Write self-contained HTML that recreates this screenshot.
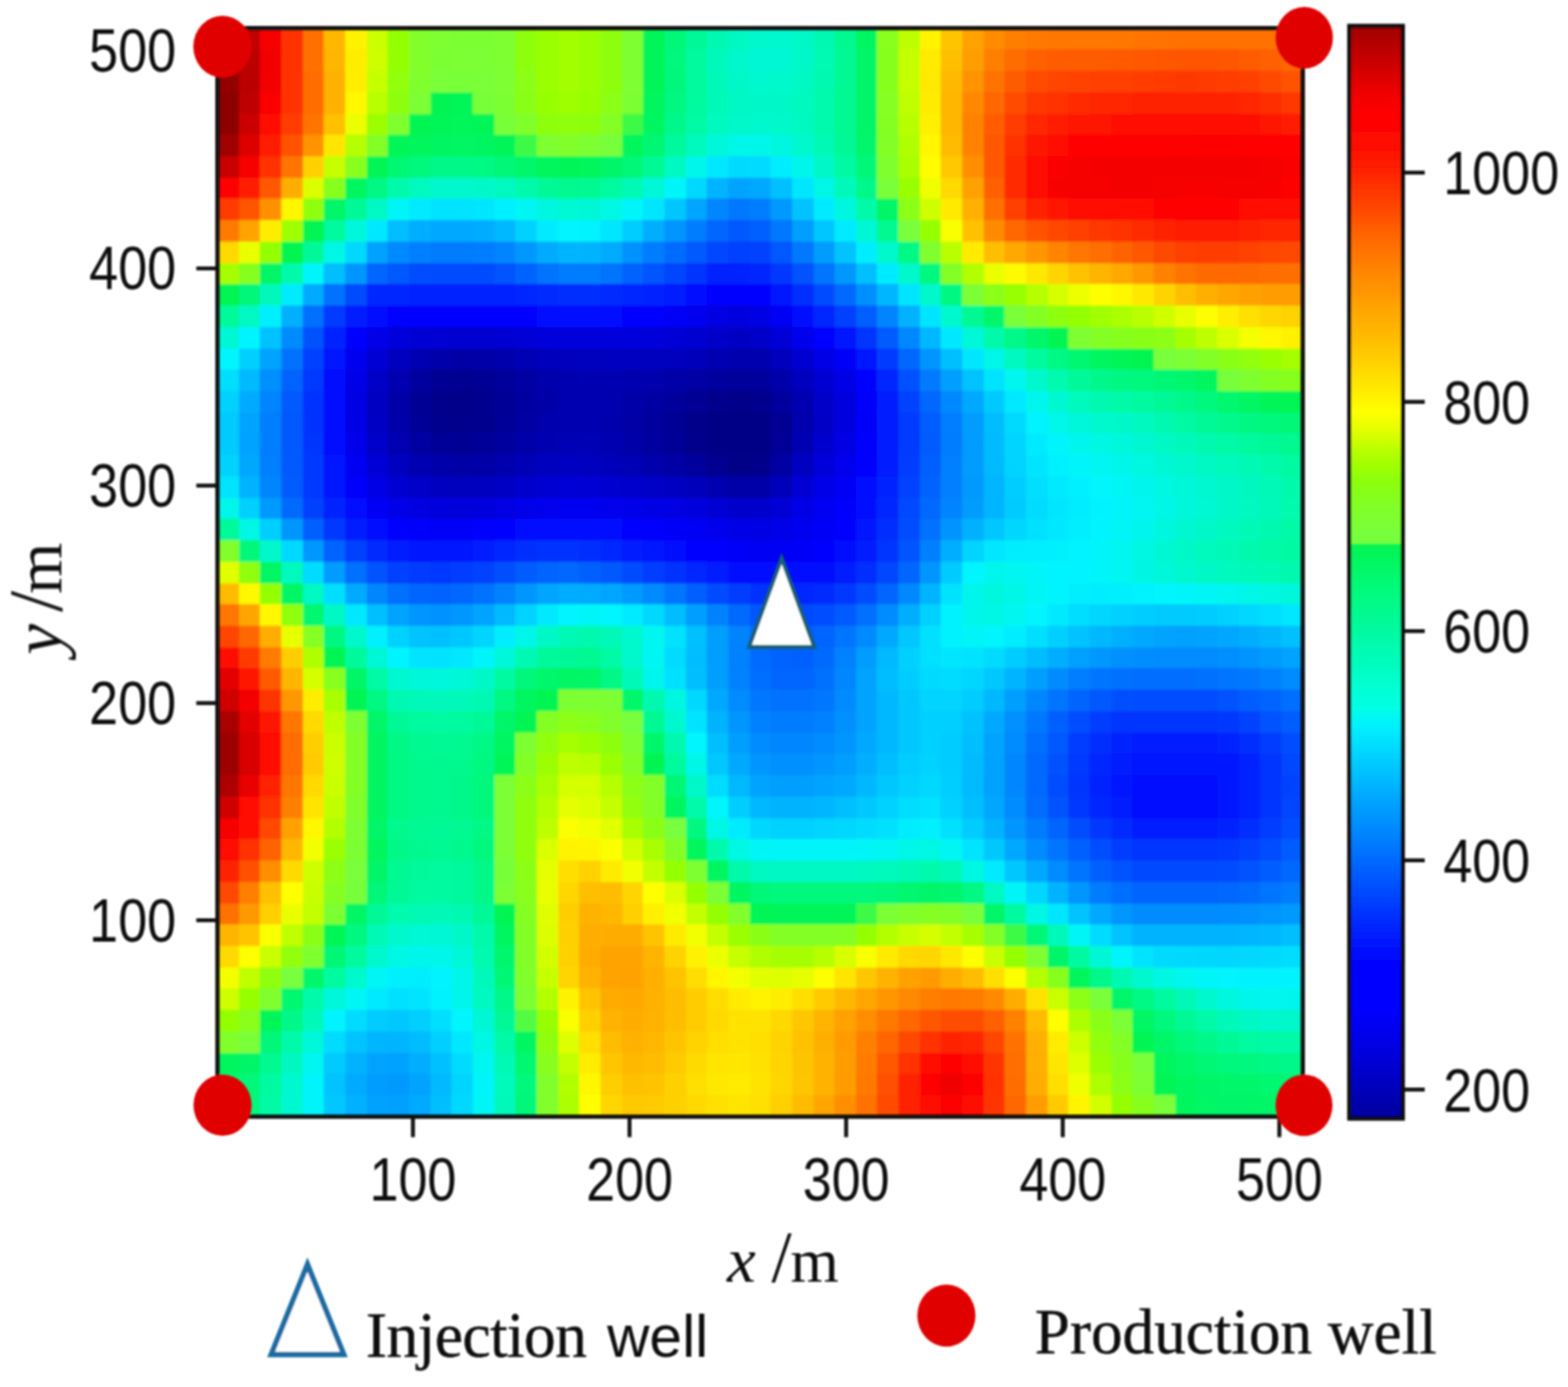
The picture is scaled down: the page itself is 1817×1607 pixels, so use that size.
<!DOCTYPE html>
<html lang="en"><head><meta charset="utf-8"><title>Heat map</title>
<style>html,body{margin:0;padding:0;background:#fff}body{width:1817px;height:1607px;overflow:hidden}svg{display:block}.t{font-family:"Liberation Sans",sans-serif;font-size:66px;fill:#111}.s{font-family:"Liberation Serif",serif;font-size:74px;fill:#111}</style></head><body>
<svg width="1817" height="1607" viewBox="0 0 1817 1607">
<defs><filter id="bl" x="-2%" y="-2%" width="104%" height="104%"><feGaussianBlur stdDeviation="1.6"/></filter><filter id="bl2" x="-2%" y="-2%" width="104%" height="104%"><feGaussianBlur stdDeviation="1"/></filter>
<linearGradient id="cb" x1="0" y1="0" x2="0" y2="1">
<stop offset="0.0000" stop-color="#a00000"/>
<stop offset="0.0355" stop-color="#cd0000"/>
<stop offset="0.0664" stop-color="#f50000"/>
<stop offset="0.0829" stop-color="#ff0000"/>
<stop offset="0.1082" stop-color="#ff0c00"/>
<stop offset="0.1335" stop-color="#ff2300"/>
<stop offset="0.1698" stop-color="#ff4b00"/>
<stop offset="0.1904" stop-color="#ff6400"/>
<stop offset="0.2314" stop-color="#ff8c00"/>
<stop offset="0.2630" stop-color="#ffa800"/>
<stop offset="0.2938" stop-color="#ffc300"/>
<stop offset="0.3207" stop-color="#ffde00"/>
<stop offset="0.3531" stop-color="#ffff00"/>
<stop offset="0.3712" stop-color="#e1ff00"/>
<stop offset="0.3934" stop-color="#afff00"/>
<stop offset="0.4155" stop-color="#8cff0a"/>
<stop offset="0.4400" stop-color="#82ff28"/>
<stop offset="0.4645" stop-color="#78ff3c"/>
<stop offset="0.4736" stop-color="#73ff3e"/>
<stop offset="0.4742" stop-color="#00f550"/>
<stop offset="0.5134" stop-color="#00fa78"/>
<stop offset="0.5624" stop-color="#00faaa"/>
<stop offset="0.6003" stop-color="#00ffcd"/>
<stop offset="0.6240" stop-color="#00ffe4"/>
<stop offset="0.6414" stop-color="#00f0ff"/>
<stop offset="0.6769" stop-color="#00c8ff"/>
<stop offset="0.7133" stop-color="#00a0ff"/>
<stop offset="0.7638" stop-color="#006aff"/>
<stop offset="0.7978" stop-color="#0044ff"/>
<stop offset="0.8294" stop-color="#0020ff"/>
<stop offset="0.8618" stop-color="#0000ff"/>
<stop offset="0.9005" stop-color="#0000ff"/>
<stop offset="0.9463" stop-color="#0000d7"/>
<stop offset="1.0000" stop-color="#00009e"/>
</linearGradient></defs>
<rect width="1817" height="1607" fill="#fff"/>
<g shape-rendering="crispEdges" filter="url(#bl)">
<rect x="252.0" y="32.6" width="1257.7" height="1261.2" fill="#08f"/>
<rect x="252.00" y="32.60" width="25.26" height="25.33" fill="#a50000"/>
<rect x="276.66" y="32.60" width="25.26" height="25.33" fill="#c20000"/>
<rect x="301.32" y="32.60" width="25.26" height="25.33" fill="#f60000"/>
<rect x="325.98" y="32.60" width="25.26" height="25.33" fill="#ff3200"/>
<rect x="350.64" y="32.60" width="25.26" height="25.33" fill="#ff6f00"/>
<rect x="375.30" y="32.60" width="25.26" height="25.33" fill="#ffb700"/>
<rect x="399.96" y="32.60" width="25.26" height="25.33" fill="#fff200"/>
<rect x="424.63" y="32.60" width="25.26" height="25.33" fill="#c9ff00"/>
<rect x="449.29" y="32.60" width="25.26" height="25.33" fill="#94ff05"/>
<rect x="473.95" y="32.60" width="25.26" height="25.33" fill="#81ff2b"/>
<rect x="498.61" y="32.60" width="25.26" height="25.33" fill="#7dff32"/>
<rect x="523.27" y="32.60" width="49.92" height="25.33" fill="#7cff33"/>
<rect x="572.59" y="32.60" width="25.26" height="25.33" fill="#7eff30"/>
<rect x="597.25" y="32.60" width="25.26" height="25.33" fill="#8dff11"/>
<rect x="621.91" y="32.60" width="25.26" height="25.33" fill="#9aff00"/>
<rect x="646.57" y="32.60" width="25.26" height="25.33" fill="#a1ff00"/>
<rect x="671.23" y="32.60" width="25.26" height="25.33" fill="#9aff00"/>
<rect x="695.89" y="32.60" width="25.26" height="25.33" fill="#8dff11"/>
<rect x="720.55" y="32.60" width="25.26" height="25.33" fill="#7dff32"/>
<rect x="745.22" y="32.60" width="25.26" height="25.33" fill="#00f558"/>
<rect x="769.88" y="32.60" width="25.26" height="25.33" fill="#00f778"/>
<rect x="794.54" y="32.60" width="25.26" height="25.33" fill="#00f998"/>
<rect x="819.20" y="32.60" width="25.26" height="25.33" fill="#00f9b1"/>
<rect x="843.86" y="32.60" width="25.26" height="25.33" fill="#00f8c2"/>
<rect x="868.52" y="32.60" width="25.26" height="25.33" fill="#00f8cc"/>
<rect x="893.18" y="32.60" width="25.26" height="25.33" fill="#00f8cf"/>
<rect x="917.84" y="32.60" width="25.26" height="25.33" fill="#00f8c7"/>
<rect x="942.50" y="32.60" width="25.26" height="25.33" fill="#00f9b2"/>
<rect x="967.16" y="32.60" width="25.26" height="25.33" fill="#00f98f"/>
<rect x="991.82" y="32.60" width="25.26" height="25.33" fill="#00f661"/>
<rect x="1016.48" y="32.60" width="25.26" height="25.33" fill="#88ff1d"/>
<rect x="1041.15" y="32.60" width="25.26" height="25.33" fill="#bdff00"/>
<rect x="1065.81" y="32.60" width="25.26" height="25.33" fill="#fff300"/>
<rect x="1090.47" y="32.60" width="25.26" height="25.33" fill="#ffc400"/>
<rect x="1115.13" y="32.60" width="25.26" height="25.33" fill="#ffa200"/>
<rect x="1139.79" y="32.60" width="25.26" height="25.33" fill="#ff8b00"/>
<rect x="1164.45" y="32.60" width="25.26" height="25.33" fill="#ff7e00"/>
<rect x="1189.11" y="32.60" width="25.26" height="25.33" fill="#ff7900"/>
<rect x="1213.77" y="32.60" width="25.26" height="25.33" fill="#ff7700"/>
<rect x="1238.43" y="32.60" width="49.92" height="25.33" fill="#ff7600"/>
<rect x="1287.75" y="32.60" width="25.26" height="25.33" fill="#ff7700"/>
<rect x="1312.41" y="32.60" width="25.26" height="25.33" fill="#ff7500"/>
<rect x="1337.07" y="32.60" width="25.26" height="25.33" fill="#ff7300"/>
<rect x="1361.74" y="32.60" width="74.58" height="25.33" fill="#ff7100"/>
<rect x="1435.72" y="32.60" width="49.92" height="25.33" fill="#ff7200"/>
<rect x="1485.04" y="32.60" width="25.26" height="25.33" fill="#ff7100"/>
<rect x="252.00" y="57.33" width="25.26" height="25.33" fill="#9f0000"/>
<rect x="276.66" y="57.33" width="25.26" height="25.33" fill="#bb0000"/>
<rect x="301.32" y="57.33" width="25.26" height="25.33" fill="#f20000"/>
<rect x="325.98" y="57.33" width="25.26" height="25.33" fill="#ff3000"/>
<rect x="350.64" y="57.33" width="25.26" height="25.33" fill="#ff6f00"/>
<rect x="375.30" y="57.33" width="25.26" height="25.33" fill="#ffb600"/>
<rect x="399.96" y="57.33" width="25.26" height="25.33" fill="#ffed00"/>
<rect x="424.63" y="57.33" width="25.26" height="25.33" fill="#cdff00"/>
<rect x="449.29" y="57.33" width="25.26" height="25.33" fill="#94ff05"/>
<rect x="473.95" y="57.33" width="25.26" height="25.33" fill="#81ff2b"/>
<rect x="498.61" y="57.33" width="25.26" height="25.33" fill="#7cff33"/>
<rect x="523.27" y="57.33" width="49.92" height="25.33" fill="#7bff35"/>
<rect x="572.59" y="57.33" width="25.26" height="25.33" fill="#7eff30"/>
<rect x="597.25" y="57.33" width="25.26" height="25.33" fill="#8dff11"/>
<rect x="621.91" y="57.33" width="25.26" height="25.33" fill="#9aff00"/>
<rect x="646.57" y="57.33" width="25.26" height="25.33" fill="#a1ff00"/>
<rect x="671.23" y="57.33" width="25.26" height="25.33" fill="#9aff00"/>
<rect x="695.89" y="57.33" width="25.26" height="25.33" fill="#8dff11"/>
<rect x="720.55" y="57.33" width="25.26" height="25.33" fill="#7dff32"/>
<rect x="745.22" y="57.33" width="25.26" height="25.33" fill="#00f558"/>
<rect x="769.88" y="57.33" width="25.26" height="25.33" fill="#00f87b"/>
<rect x="794.54" y="57.33" width="25.26" height="25.33" fill="#00fa9e"/>
<rect x="819.20" y="57.33" width="25.26" height="25.33" fill="#00f9bb"/>
<rect x="843.86" y="57.33" width="25.26" height="25.33" fill="#00f8cc"/>
<rect x="868.52" y="57.33" width="25.26" height="25.33" fill="#00f7d4"/>
<rect x="893.18" y="57.33" width="25.26" height="25.33" fill="#00f7d3"/>
<rect x="917.84" y="57.33" width="25.26" height="25.33" fill="#00f8c8"/>
<rect x="942.50" y="57.33" width="25.26" height="25.33" fill="#00f9b3"/>
<rect x="967.16" y="57.33" width="25.26" height="25.33" fill="#00f993"/>
<rect x="991.82" y="57.33" width="25.26" height="25.33" fill="#00f666"/>
<rect x="1016.48" y="57.33" width="25.26" height="25.33" fill="#87ff1d"/>
<rect x="1041.15" y="57.33" width="25.26" height="25.33" fill="#c5ff00"/>
<rect x="1065.81" y="57.33" width="25.26" height="25.33" fill="#ffeb00"/>
<rect x="1090.47" y="57.33" width="25.26" height="25.33" fill="#ffbf00"/>
<rect x="1115.13" y="57.33" width="25.26" height="25.33" fill="#ff9e00"/>
<rect x="1139.79" y="57.33" width="25.26" height="25.33" fill="#ff7f00"/>
<rect x="1164.45" y="57.33" width="25.26" height="25.33" fill="#ff6c00"/>
<rect x="1189.11" y="57.33" width="25.26" height="25.33" fill="#ff6100"/>
<rect x="1213.77" y="57.33" width="25.26" height="25.33" fill="#ff5c00"/>
<rect x="1238.43" y="57.33" width="49.92" height="25.33" fill="#ff5b00"/>
<rect x="1287.75" y="57.33" width="25.26" height="25.33" fill="#ff5a00"/>
<rect x="1312.41" y="57.33" width="25.26" height="25.33" fill="#ff5800"/>
<rect x="1337.07" y="57.33" width="25.26" height="25.33" fill="#ff5600"/>
<rect x="1361.74" y="57.33" width="49.92" height="25.33" fill="#ff5500"/>
<rect x="1411.06" y="57.33" width="25.26" height="25.33" fill="#ff5700"/>
<rect x="1435.72" y="57.33" width="25.26" height="25.33" fill="#ff5b00"/>
<rect x="1460.38" y="57.33" width="25.26" height="25.33" fill="#ff6100"/>
<rect x="1485.04" y="57.33" width="25.26" height="25.33" fill="#ff6800"/>
<rect x="252.00" y="82.06" width="25.26" height="25.33" fill="#940000"/>
<rect x="276.66" y="82.06" width="25.26" height="25.33" fill="#ba0000"/>
<rect x="301.32" y="82.06" width="25.26" height="25.33" fill="#f30000"/>
<rect x="325.98" y="82.06" width="25.26" height="25.33" fill="#ff3000"/>
<rect x="350.64" y="82.06" width="25.26" height="25.33" fill="#ff6c00"/>
<rect x="375.30" y="82.06" width="25.26" height="25.33" fill="#ffb100"/>
<rect x="399.96" y="82.06" width="25.26" height="25.33" fill="#ffee00"/>
<rect x="424.63" y="82.06" width="25.26" height="25.33" fill="#c6ff00"/>
<rect x="449.29" y="82.06" width="25.26" height="25.33" fill="#92ff08"/>
<rect x="473.95" y="82.06" width="25.26" height="25.33" fill="#7fff2e"/>
<rect x="498.61" y="82.06" width="25.26" height="25.33" fill="#7aff37"/>
<rect x="523.27" y="82.06" width="25.26" height="25.33" fill="#79ff39"/>
<rect x="547.93" y="82.06" width="25.26" height="25.33" fill="#7aff37"/>
<rect x="572.59" y="82.06" width="25.26" height="25.33" fill="#7dff32"/>
<rect x="597.25" y="82.06" width="25.26" height="25.33" fill="#8cff13"/>
<rect x="621.91" y="82.06" width="25.26" height="25.33" fill="#9aff00"/>
<rect x="646.57" y="82.06" width="25.26" height="25.33" fill="#a1ff00"/>
<rect x="671.23" y="82.06" width="25.26" height="25.33" fill="#9aff00"/>
<rect x="695.89" y="82.06" width="25.26" height="25.33" fill="#8dff11"/>
<rect x="720.55" y="82.06" width="25.26" height="25.33" fill="#7dff32"/>
<rect x="745.22" y="82.06" width="25.26" height="25.33" fill="#00f558"/>
<rect x="769.88" y="82.06" width="25.26" height="25.33" fill="#00f77a"/>
<rect x="794.54" y="82.06" width="25.26" height="25.33" fill="#00fa9d"/>
<rect x="819.20" y="82.06" width="25.26" height="25.33" fill="#00f9b9"/>
<rect x="843.86" y="82.06" width="25.26" height="25.33" fill="#00f8c9"/>
<rect x="868.52" y="82.06" width="25.26" height="25.33" fill="#00f8cf"/>
<rect x="893.18" y="82.06" width="25.26" height="25.33" fill="#00f8cd"/>
<rect x="917.84" y="82.06" width="25.26" height="25.33" fill="#00f8c3"/>
<rect x="942.50" y="82.06" width="25.26" height="25.33" fill="#00f9b0"/>
<rect x="967.16" y="82.06" width="25.26" height="25.33" fill="#00f992"/>
<rect x="991.82" y="82.06" width="25.26" height="25.33" fill="#00f667"/>
<rect x="1016.48" y="82.06" width="25.26" height="25.33" fill="#87ff1e"/>
<rect x="1041.15" y="82.06" width="25.26" height="25.33" fill="#c5ff00"/>
<rect x="1065.81" y="82.06" width="25.26" height="25.33" fill="#ffe900"/>
<rect x="1090.47" y="82.06" width="25.26" height="25.33" fill="#ffba00"/>
<rect x="1115.13" y="82.06" width="25.26" height="25.33" fill="#ff9300"/>
<rect x="1139.79" y="82.06" width="25.26" height="25.33" fill="#ff7300"/>
<rect x="1164.45" y="82.06" width="25.26" height="25.33" fill="#ff5c00"/>
<rect x="1189.11" y="82.06" width="25.26" height="25.33" fill="#ff4c00"/>
<rect x="1213.77" y="82.06" width="25.26" height="25.33" fill="#ff4500"/>
<rect x="1238.43" y="82.06" width="25.26" height="25.33" fill="#ff4200"/>
<rect x="1263.09" y="82.06" width="25.26" height="25.33" fill="#ff4000"/>
<rect x="1287.75" y="82.06" width="25.26" height="25.33" fill="#ff3f00"/>
<rect x="1312.41" y="82.06" width="25.26" height="25.33" fill="#ff3d00"/>
<rect x="1337.07" y="82.06" width="25.26" height="25.33" fill="#ff3b00"/>
<rect x="1361.74" y="82.06" width="25.26" height="25.33" fill="#ff3900"/>
<rect x="1386.40" y="82.06" width="25.26" height="25.33" fill="#ff3a00"/>
<rect x="1411.06" y="82.06" width="25.26" height="25.33" fill="#ff3c00"/>
<rect x="1435.72" y="82.06" width="25.26" height="25.33" fill="#ff4100"/>
<rect x="1460.38" y="82.06" width="25.26" height="25.33" fill="#ff4800"/>
<rect x="1485.04" y="82.06" width="25.26" height="25.33" fill="#ff5200"/>
<rect x="252.00" y="106.79" width="25.26" height="25.33" fill="#8c0000"/>
<rect x="276.66" y="106.79" width="25.26" height="25.33" fill="#bf0000"/>
<rect x="301.32" y="106.79" width="25.26" height="25.33" fill="#fa0000"/>
<rect x="325.98" y="106.79" width="25.26" height="25.33" fill="#ff3300"/>
<rect x="350.64" y="106.79" width="25.26" height="25.33" fill="#ff6c00"/>
<rect x="375.30" y="106.79" width="25.26" height="25.33" fill="#ffb100"/>
<rect x="399.96" y="106.79" width="25.26" height="25.33" fill="#fff800"/>
<rect x="424.63" y="106.79" width="25.26" height="25.33" fill="#b8ff00"/>
<rect x="449.29" y="106.79" width="25.26" height="25.33" fill="#8dff11"/>
<rect x="473.95" y="106.79" width="25.26" height="25.33" fill="#7cff34"/>
<rect x="498.61" y="106.79" width="25.26" height="25.33" fill="#00f553"/>
<rect x="523.27" y="106.79" width="25.26" height="25.33" fill="#00f556"/>
<rect x="547.93" y="106.79" width="25.26" height="25.33" fill="#79ff39"/>
<rect x="572.59" y="106.79" width="25.26" height="25.33" fill="#7cff33"/>
<rect x="597.25" y="106.79" width="25.26" height="25.33" fill="#8aff18"/>
<rect x="621.91" y="106.79" width="25.26" height="25.33" fill="#96ff00"/>
<rect x="646.57" y="106.79" width="25.26" height="25.33" fill="#9dff00"/>
<rect x="671.23" y="106.79" width="25.26" height="25.33" fill="#96ff00"/>
<rect x="695.89" y="106.79" width="25.26" height="25.33" fill="#8cff13"/>
<rect x="720.55" y="106.79" width="25.26" height="25.33" fill="#7cff33"/>
<rect x="745.22" y="106.79" width="25.26" height="25.33" fill="#00f65b"/>
<rect x="769.88" y="106.79" width="25.26" height="25.33" fill="#00f881"/>
<rect x="794.54" y="106.79" width="25.26" height="25.33" fill="#00fa9e"/>
<rect x="819.20" y="106.79" width="25.26" height="25.33" fill="#00f9b6"/>
<rect x="843.86" y="106.79" width="25.26" height="25.33" fill="#00f8c4"/>
<rect x="868.52" y="106.79" width="25.26" height="25.33" fill="#00f8c9"/>
<rect x="893.18" y="106.79" width="25.26" height="25.33" fill="#00f8c8"/>
<rect x="917.84" y="106.79" width="25.26" height="25.33" fill="#00f9be"/>
<rect x="942.50" y="106.79" width="25.26" height="25.33" fill="#00faac"/>
<rect x="967.16" y="106.79" width="25.26" height="25.33" fill="#00f990"/>
<rect x="991.82" y="106.79" width="25.26" height="25.33" fill="#00f667"/>
<rect x="1016.48" y="106.79" width="25.26" height="25.33" fill="#86ff20"/>
<rect x="1041.15" y="106.79" width="25.26" height="25.33" fill="#bfff00"/>
<rect x="1065.81" y="106.79" width="25.26" height="25.33" fill="#ffeb00"/>
<rect x="1090.47" y="106.79" width="25.26" height="25.33" fill="#ffb600"/>
<rect x="1115.13" y="106.79" width="25.26" height="25.33" fill="#ff8800"/>
<rect x="1139.79" y="106.79" width="25.26" height="25.33" fill="#ff6700"/>
<rect x="1164.45" y="106.79" width="25.26" height="25.33" fill="#ff4c00"/>
<rect x="1189.11" y="106.79" width="25.26" height="25.33" fill="#ff3900"/>
<rect x="1213.77" y="106.79" width="25.26" height="25.33" fill="#ff3000"/>
<rect x="1238.43" y="106.79" width="25.26" height="25.33" fill="#ff2b00"/>
<rect x="1263.09" y="106.79" width="25.26" height="25.33" fill="#ff2800"/>
<rect x="1287.75" y="106.79" width="25.26" height="25.33" fill="#ff2600"/>
<rect x="1312.41" y="106.79" width="25.26" height="25.33" fill="#ff2400"/>
<rect x="1337.07" y="106.79" width="25.26" height="25.33" fill="#ff2200"/>
<rect x="1361.74" y="106.79" width="25.26" height="25.33" fill="#ff2000"/>
<rect x="1386.40" y="106.79" width="25.26" height="25.33" fill="#ff2100"/>
<rect x="1411.06" y="106.79" width="25.26" height="25.33" fill="#ff2300"/>
<rect x="1435.72" y="106.79" width="25.26" height="25.33" fill="#ff2700"/>
<rect x="1460.38" y="106.79" width="25.26" height="25.33" fill="#ff2e00"/>
<rect x="1485.04" y="106.79" width="25.26" height="25.33" fill="#ff3700"/>
<rect x="252.00" y="131.52" width="25.26" height="25.33" fill="#8d0000"/>
<rect x="276.66" y="131.52" width="25.26" height="25.33" fill="#cb0000"/>
<rect x="301.32" y="131.52" width="25.26" height="25.33" fill="#ff0800"/>
<rect x="325.98" y="131.52" width="25.26" height="25.33" fill="#ff3e00"/>
<rect x="350.64" y="131.52" width="25.26" height="25.33" fill="#ff7500"/>
<rect x="375.30" y="131.52" width="25.26" height="25.33" fill="#ffc000"/>
<rect x="399.96" y="131.52" width="25.26" height="25.33" fill="#ebff00"/>
<rect x="424.63" y="131.52" width="25.26" height="25.33" fill="#9cff00"/>
<rect x="449.29" y="131.52" width="25.26" height="25.33" fill="#7fff2e"/>
<rect x="473.95" y="131.52" width="25.26" height="25.33" fill="#00f553"/>
<rect x="498.61" y="131.52" width="25.26" height="25.33" fill="#00f558"/>
<rect x="523.27" y="131.52" width="25.26" height="25.33" fill="#00f65a"/>
<rect x="547.93" y="131.52" width="25.26" height="25.33" fill="#00f556"/>
<rect x="572.59" y="131.52" width="25.26" height="25.33" fill="#79ff39"/>
<rect x="597.25" y="131.52" width="25.26" height="25.33" fill="#81ff2b"/>
<rect x="621.91" y="131.52" width="25.26" height="25.33" fill="#8dff11"/>
<rect x="646.57" y="131.52" width="25.26" height="25.33" fill="#90ff0b"/>
<rect x="671.23" y="131.52" width="25.26" height="25.33" fill="#8dff11"/>
<rect x="695.89" y="131.52" width="25.26" height="25.33" fill="#83ff26"/>
<rect x="720.55" y="131.52" width="25.26" height="25.33" fill="#3cfa46"/>
<rect x="745.22" y="131.52" width="25.26" height="25.33" fill="#00f661"/>
<rect x="769.88" y="131.52" width="25.26" height="25.33" fill="#00f88a"/>
<rect x="794.54" y="131.52" width="25.26" height="25.33" fill="#00faa5"/>
<rect x="819.20" y="131.52" width="25.26" height="25.33" fill="#00f9bd"/>
<rect x="843.86" y="131.52" width="25.26" height="25.33" fill="#00f8cb"/>
<rect x="868.52" y="131.52" width="25.26" height="25.33" fill="#00f8ce"/>
<rect x="893.18" y="131.52" width="25.26" height="25.33" fill="#00f8cb"/>
<rect x="917.84" y="131.52" width="25.26" height="25.33" fill="#00f9c0"/>
<rect x="942.50" y="131.52" width="25.26" height="25.33" fill="#00faac"/>
<rect x="967.16" y="131.52" width="25.26" height="25.33" fill="#00f990"/>
<rect x="991.82" y="131.52" width="25.26" height="25.33" fill="#00f668"/>
<rect x="1016.48" y="131.52" width="25.26" height="25.33" fill="#85ff23"/>
<rect x="1041.15" y="131.52" width="25.26" height="25.33" fill="#b7ff00"/>
<rect x="1065.81" y="131.52" width="25.26" height="25.33" fill="#fff000"/>
<rect x="1090.47" y="131.52" width="25.26" height="25.33" fill="#ffb600"/>
<rect x="1115.13" y="131.52" width="25.26" height="25.33" fill="#ff8100"/>
<rect x="1139.79" y="131.52" width="25.26" height="25.33" fill="#ff5d00"/>
<rect x="1164.45" y="131.52" width="25.26" height="25.33" fill="#ff3e00"/>
<rect x="1189.11" y="131.52" width="25.26" height="25.33" fill="#ff2800"/>
<rect x="1213.77" y="131.52" width="25.26" height="25.33" fill="#ff1c00"/>
<rect x="1238.43" y="131.52" width="25.26" height="25.33" fill="#ff1600"/>
<rect x="1263.09" y="131.52" width="25.26" height="25.33" fill="#ff1300"/>
<rect x="1287.75" y="131.52" width="25.26" height="25.33" fill="#ff1100"/>
<rect x="1312.41" y="131.52" width="25.26" height="25.33" fill="#ff0f00"/>
<rect x="1337.07" y="131.52" width="25.26" height="25.33" fill="#ff0e00"/>
<rect x="1361.74" y="131.52" width="49.92" height="25.33" fill="#ff0c00"/>
<rect x="1411.06" y="131.52" width="25.26" height="25.33" fill="#ff0d00"/>
<rect x="1435.72" y="131.52" width="25.26" height="25.33" fill="#ff1000"/>
<rect x="1460.38" y="131.52" width="25.26" height="25.33" fill="#ff1500"/>
<rect x="1485.04" y="131.52" width="25.26" height="25.33" fill="#ff1b00"/>
<rect x="252.00" y="156.25" width="25.26" height="25.33" fill="#a00000"/>
<rect x="276.66" y="156.25" width="25.26" height="25.33" fill="#dd0000"/>
<rect x="301.32" y="156.25" width="25.26" height="25.33" fill="#ff1a00"/>
<rect x="325.98" y="156.25" width="25.26" height="25.33" fill="#ff5300"/>
<rect x="350.64" y="156.25" width="25.26" height="25.33" fill="#ff9300"/>
<rect x="375.30" y="156.25" width="25.26" height="25.33" fill="#ffe600"/>
<rect x="399.96" y="156.25" width="25.26" height="25.33" fill="#b4ff00"/>
<rect x="424.63" y="156.25" width="25.26" height="25.33" fill="#84ff25"/>
<rect x="449.29" y="156.25" width="25.26" height="25.33" fill="#00f556"/>
<rect x="473.95" y="156.25" width="25.26" height="25.33" fill="#00f65b"/>
<rect x="498.61" y="156.25" width="25.26" height="25.33" fill="#00f661"/>
<rect x="523.27" y="156.25" width="25.26" height="25.33" fill="#00f663"/>
<rect x="547.93" y="156.25" width="25.26" height="25.33" fill="#00f661"/>
<rect x="572.59" y="156.25" width="25.26" height="25.33" fill="#00f558"/>
<rect x="597.25" y="156.25" width="25.26" height="25.33" fill="#3cfa46"/>
<rect x="621.91" y="156.25" width="25.26" height="25.33" fill="#7eff30"/>
<rect x="646.57" y="156.25" width="25.26" height="25.33" fill="#81ff2b"/>
<rect x="671.23" y="156.25" width="25.26" height="25.33" fill="#7eff30"/>
<rect x="695.89" y="156.25" width="25.26" height="25.33" fill="#78ff3b"/>
<rect x="720.55" y="156.25" width="25.26" height="25.33" fill="#00f65b"/>
<rect x="745.22" y="156.25" width="25.26" height="25.33" fill="#00f772"/>
<rect x="769.88" y="156.25" width="25.26" height="25.33" fill="#00f99c"/>
<rect x="794.54" y="156.25" width="25.26" height="25.33" fill="#00f9bd"/>
<rect x="819.20" y="156.25" width="25.26" height="25.33" fill="#00f7d9"/>
<rect x="843.86" y="156.25" width="25.26" height="25.33" fill="#00f6e8"/>
<rect x="868.52" y="156.25" width="25.26" height="25.33" fill="#00f6e9"/>
<rect x="893.18" y="156.25" width="25.26" height="25.33" fill="#00f7df"/>
<rect x="917.84" y="156.25" width="25.26" height="25.33" fill="#00f8cd"/>
<rect x="942.50" y="156.25" width="25.26" height="25.33" fill="#00f9b4"/>
<rect x="967.16" y="156.25" width="25.26" height="25.33" fill="#00f996"/>
<rect x="991.82" y="156.25" width="25.26" height="25.33" fill="#00f76c"/>
<rect x="1016.48" y="156.25" width="25.26" height="25.33" fill="#83ff27"/>
<rect x="1041.15" y="156.25" width="25.26" height="25.33" fill="#b0ff00"/>
<rect x="1065.81" y="156.25" width="25.26" height="25.33" fill="#fff600"/>
<rect x="1090.47" y="156.25" width="25.26" height="25.33" fill="#ffbb00"/>
<rect x="1115.13" y="156.25" width="25.26" height="25.33" fill="#ff8300"/>
<rect x="1139.79" y="156.25" width="25.26" height="25.33" fill="#ff5800"/>
<rect x="1164.45" y="156.25" width="25.26" height="25.33" fill="#ff3100"/>
<rect x="1189.11" y="156.25" width="25.26" height="25.33" fill="#ff1700"/>
<rect x="1213.77" y="156.25" width="25.26" height="25.33" fill="#ff0a00"/>
<rect x="1238.43" y="156.25" width="25.26" height="25.33" fill="#ff0500"/>
<rect x="1263.09" y="156.25" width="25.26" height="25.33" fill="#ff0200"/>
<rect x="1287.75" y="156.25" width="25.26" height="25.33" fill="#ff0100"/>
<rect x="1312.41" y="156.25" width="49.92" height="25.33" fill="#fe0000"/>
<rect x="1361.74" y="156.25" width="25.26" height="25.33" fill="#fd0000"/>
<rect x="1386.40" y="156.25" width="49.92" height="25.33" fill="#fc0000"/>
<rect x="1435.72" y="156.25" width="25.26" height="25.33" fill="#fe0000"/>
<rect x="1460.38" y="156.25" width="25.26" height="25.33" fill="#ff0100"/>
<rect x="1485.04" y="156.25" width="25.26" height="25.33" fill="#ff0600"/>
<rect x="252.00" y="180.98" width="25.26" height="25.33" fill="#c80000"/>
<rect x="276.66" y="180.98" width="25.26" height="25.33" fill="#f80000"/>
<rect x="301.32" y="180.98" width="25.26" height="25.33" fill="#ff3300"/>
<rect x="325.98" y="180.98" width="25.26" height="25.33" fill="#ff7500"/>
<rect x="350.64" y="180.98" width="25.26" height="25.33" fill="#ffd000"/>
<rect x="375.30" y="180.98" width="25.26" height="25.33" fill="#c6ff00"/>
<rect x="399.96" y="180.98" width="25.26" height="25.33" fill="#88ff1d"/>
<rect x="424.63" y="180.98" width="25.26" height="25.33" fill="#00f555"/>
<rect x="449.29" y="180.98" width="25.26" height="25.33" fill="#00f772"/>
<rect x="473.95" y="180.98" width="25.26" height="25.33" fill="#00f87d"/>
<rect x="498.61" y="180.98" width="49.92" height="25.33" fill="#00f889"/>
<rect x="547.93" y="180.98" width="25.26" height="25.33" fill="#00f885"/>
<rect x="572.59" y="180.98" width="25.26" height="25.33" fill="#00f778"/>
<rect x="597.25" y="180.98" width="25.26" height="25.33" fill="#00f76a"/>
<rect x="621.91" y="180.98" width="25.26" height="25.33" fill="#00f65b"/>
<rect x="646.57" y="180.98" width="25.26" height="25.33" fill="#00f558"/>
<rect x="671.23" y="180.98" width="25.26" height="25.33" fill="#00f65b"/>
<rect x="695.89" y="180.98" width="25.26" height="25.33" fill="#00f667"/>
<rect x="720.55" y="180.98" width="25.26" height="25.33" fill="#00f778"/>
<rect x="745.22" y="180.98" width="25.26" height="25.33" fill="#00f994"/>
<rect x="769.88" y="180.98" width="25.26" height="25.33" fill="#00f8c1"/>
<rect x="794.54" y="180.98" width="25.26" height="25.33" fill="#00f6ea"/>
<rect x="819.20" y="180.98" width="25.26" height="25.33" fill="#00e8ff"/>
<rect x="843.86" y="180.98" width="25.26" height="25.33" fill="#00daff"/>
<rect x="868.52" y="180.98" width="25.26" height="25.33" fill="#00dbff"/>
<rect x="893.18" y="180.98" width="25.26" height="25.33" fill="#00ecff"/>
<rect x="917.84" y="180.98" width="25.26" height="25.33" fill="#00f6ea"/>
<rect x="942.50" y="180.98" width="25.26" height="25.33" fill="#00f8c7"/>
<rect x="967.16" y="180.98" width="25.26" height="25.33" fill="#00faa3"/>
<rect x="991.82" y="180.98" width="25.26" height="25.33" fill="#00f777"/>
<rect x="1016.48" y="180.98" width="25.26" height="25.33" fill="#80ff2d"/>
<rect x="1041.15" y="180.98" width="25.26" height="25.33" fill="#a9ff00"/>
<rect x="1065.81" y="180.98" width="25.26" height="25.33" fill="#fffd00"/>
<rect x="1090.47" y="180.98" width="25.26" height="25.33" fill="#ffc800"/>
<rect x="1115.13" y="180.98" width="25.26" height="25.33" fill="#ff8f00"/>
<rect x="1139.79" y="180.98" width="25.26" height="25.33" fill="#ff5900"/>
<rect x="1164.45" y="180.98" width="25.26" height="25.33" fill="#ff2900"/>
<rect x="1189.11" y="180.98" width="25.26" height="25.33" fill="#ff0800"/>
<rect x="1213.77" y="180.98" width="25.26" height="25.33" fill="#fa0000"/>
<rect x="1238.43" y="180.98" width="25.26" height="25.33" fill="#f60000"/>
<rect x="1263.09" y="180.98" width="25.26" height="25.33" fill="#f50000"/>
<rect x="1287.75" y="180.98" width="49.92" height="25.33" fill="#f40000"/>
<rect x="1337.07" y="180.98" width="74.58" height="25.33" fill="#f50000"/>
<rect x="1411.06" y="180.98" width="49.92" height="25.33" fill="#f40000"/>
<rect x="1460.38" y="180.98" width="25.26" height="25.33" fill="#f60000"/>
<rect x="1485.04" y="180.98" width="25.26" height="25.33" fill="#fa0000"/>
<rect x="252.00" y="205.71" width="25.26" height="25.33" fill="#ff0100"/>
<rect x="276.66" y="205.71" width="25.26" height="25.33" fill="#ff1e00"/>
<rect x="301.32" y="205.71" width="25.26" height="25.33" fill="#ff5800"/>
<rect x="325.98" y="205.71" width="25.26" height="25.33" fill="#ffae00"/>
<rect x="350.64" y="205.71" width="25.26" height="25.33" fill="#dbff00"/>
<rect x="375.30" y="205.71" width="25.26" height="25.33" fill="#87ff1f"/>
<rect x="399.96" y="205.71" width="25.26" height="25.33" fill="#00f65e"/>
<rect x="424.63" y="205.71" width="25.26" height="25.33" fill="#00f884"/>
<rect x="449.29" y="205.71" width="25.26" height="25.33" fill="#00faab"/>
<rect x="473.95" y="205.71" width="25.26" height="25.33" fill="#00f9bf"/>
<rect x="498.61" y="205.71" width="49.92" height="25.33" fill="#00f8cc"/>
<rect x="547.93" y="205.71" width="25.26" height="25.33" fill="#00f8c9"/>
<rect x="572.59" y="205.71" width="25.26" height="25.33" fill="#00f9bf"/>
<rect x="597.25" y="205.71" width="25.26" height="25.33" fill="#00faab"/>
<rect x="621.91" y="205.71" width="25.26" height="25.33" fill="#00f997"/>
<rect x="646.57" y="205.71" width="25.26" height="25.33" fill="#00f98e"/>
<rect x="671.23" y="205.71" width="25.26" height="25.33" fill="#00f991"/>
<rect x="695.89" y="205.71" width="25.26" height="25.33" fill="#00fa9f"/>
<rect x="720.55" y="205.71" width="25.26" height="25.33" fill="#00f9b4"/>
<rect x="745.22" y="205.71" width="25.26" height="25.33" fill="#00f7d8"/>
<rect x="769.88" y="205.71" width="25.26" height="25.33" fill="#00f5f9"/>
<rect x="794.54" y="205.71" width="25.26" height="25.33" fill="#00d8ff"/>
<rect x="819.20" y="205.71" width="25.26" height="25.33" fill="#00b4ff"/>
<rect x="843.86" y="205.71" width="25.26" height="25.33" fill="#00a4ff"/>
<rect x="868.52" y="205.71" width="25.26" height="25.33" fill="#00a8ff"/>
<rect x="893.18" y="205.71" width="25.26" height="25.33" fill="#00c1ff"/>
<rect x="917.84" y="205.71" width="25.26" height="25.33" fill="#00e6ff"/>
<rect x="942.50" y="205.71" width="25.26" height="25.33" fill="#00f6e5"/>
<rect x="967.16" y="205.71" width="25.26" height="25.33" fill="#00f9bb"/>
<rect x="991.82" y="205.71" width="25.26" height="25.33" fill="#00f88a"/>
<rect x="1016.48" y="205.71" width="25.26" height="25.33" fill="#7aff39"/>
<rect x="1041.15" y="205.71" width="25.26" height="25.33" fill="#97ff00"/>
<rect x="1065.81" y="205.71" width="25.26" height="25.33" fill="#f0ff00"/>
<rect x="1090.47" y="205.71" width="25.26" height="25.33" fill="#ffd900"/>
<rect x="1115.13" y="205.71" width="25.26" height="25.33" fill="#ffa100"/>
<rect x="1139.79" y="205.71" width="25.26" height="25.33" fill="#ff6100"/>
<rect x="1164.45" y="205.71" width="25.26" height="25.33" fill="#ff2a00"/>
<rect x="1189.11" y="205.71" width="25.26" height="25.33" fill="#ff0700"/>
<rect x="1213.77" y="205.71" width="25.26" height="25.33" fill="#f90000"/>
<rect x="1238.43" y="205.71" width="49.92" height="25.33" fill="#f70000"/>
<rect x="1287.75" y="205.71" width="49.92" height="25.33" fill="#f50000"/>
<rect x="1337.07" y="205.71" width="25.26" height="25.33" fill="#f70000"/>
<rect x="1361.74" y="205.71" width="49.92" height="25.33" fill="#f80000"/>
<rect x="1411.06" y="205.71" width="49.92" height="25.33" fill="#f70000"/>
<rect x="1460.38" y="205.71" width="25.26" height="25.33" fill="#f80000"/>
<rect x="1485.04" y="205.71" width="25.26" height="25.33" fill="#fd0000"/>
<rect x="252.00" y="230.44" width="25.26" height="25.33" fill="#ff3b00"/>
<rect x="276.66" y="230.44" width="25.26" height="25.33" fill="#ff5400"/>
<rect x="301.32" y="230.44" width="25.26" height="25.33" fill="#ff9000"/>
<rect x="325.98" y="230.44" width="25.26" height="25.33" fill="#fff600"/>
<rect x="350.64" y="230.44" width="25.26" height="25.33" fill="#8fff0f"/>
<rect x="375.30" y="230.44" width="25.26" height="25.33" fill="#00f667"/>
<rect x="399.96" y="230.44" width="25.26" height="25.33" fill="#00f996"/>
<rect x="424.63" y="230.44" width="25.26" height="25.33" fill="#00f8c4"/>
<rect x="449.29" y="230.44" width="25.26" height="25.33" fill="#00f6f6"/>
<rect x="473.95" y="230.44" width="25.26" height="25.33" fill="#00ebff"/>
<rect x="498.61" y="230.44" width="49.92" height="25.33" fill="#00e3ff"/>
<rect x="547.93" y="230.44" width="25.26" height="25.33" fill="#00e6ff"/>
<rect x="572.59" y="230.44" width="25.26" height="25.33" fill="#00f0ff"/>
<rect x="597.25" y="230.44" width="25.26" height="25.33" fill="#00f6f2"/>
<rect x="621.91" y="230.44" width="25.26" height="25.33" fill="#00f7df"/>
<rect x="646.57" y="230.44" width="25.26" height="25.33" fill="#00f8d2"/>
<rect x="671.23" y="230.44" width="25.26" height="25.33" fill="#00f7d6"/>
<rect x="695.89" y="230.44" width="25.26" height="25.33" fill="#00f7e3"/>
<rect x="720.55" y="230.44" width="25.26" height="25.33" fill="#00f5f9"/>
<rect x="745.22" y="230.44" width="25.26" height="25.33" fill="#00e6ff"/>
<rect x="769.88" y="230.44" width="25.26" height="25.33" fill="#00c6ff"/>
<rect x="794.54" y="230.44" width="25.26" height="25.33" fill="#00a5ff"/>
<rect x="819.20" y="230.44" width="25.26" height="25.33" fill="#0087ff"/>
<rect x="843.86" y="230.44" width="25.26" height="25.33" fill="#0078ff"/>
<rect x="868.52" y="230.44" width="25.26" height="25.33" fill="#007dff"/>
<rect x="893.18" y="230.44" width="25.26" height="25.33" fill="#0099ff"/>
<rect x="917.84" y="230.44" width="25.26" height="25.33" fill="#00c3ff"/>
<rect x="942.50" y="230.44" width="25.26" height="25.33" fill="#00ebff"/>
<rect x="967.16" y="230.44" width="25.26" height="25.33" fill="#00f7df"/>
<rect x="991.82" y="230.44" width="25.26" height="25.33" fill="#00faa8"/>
<rect x="1016.48" y="230.44" width="25.26" height="25.33" fill="#00f666"/>
<rect x="1041.15" y="230.44" width="25.26" height="25.33" fill="#8bff16"/>
<rect x="1065.81" y="230.44" width="25.26" height="25.33" fill="#cdff00"/>
<rect x="1090.47" y="230.44" width="25.26" height="25.33" fill="#ffea00"/>
<rect x="1115.13" y="230.44" width="25.26" height="25.33" fill="#ffb000"/>
<rect x="1139.79" y="230.44" width="25.26" height="25.33" fill="#ff7000"/>
<rect x="1164.45" y="230.44" width="25.26" height="25.33" fill="#ff3f00"/>
<rect x="1189.11" y="230.44" width="25.26" height="25.33" fill="#ff2000"/>
<rect x="1213.77" y="230.44" width="25.26" height="25.33" fill="#ff1400"/>
<rect x="1238.43" y="230.44" width="25.26" height="25.33" fill="#ff1100"/>
<rect x="1263.09" y="230.44" width="25.26" height="25.33" fill="#ff0f00"/>
<rect x="1287.75" y="230.44" width="25.26" height="25.33" fill="#ff0b00"/>
<rect x="1312.41" y="230.44" width="25.26" height="25.33" fill="#ff0800"/>
<rect x="1337.07" y="230.44" width="25.26" height="25.33" fill="#ff0600"/>
<rect x="1361.74" y="230.44" width="74.58" height="25.33" fill="#ff0500"/>
<rect x="1435.72" y="230.44" width="25.26" height="25.33" fill="#ff0700"/>
<rect x="1460.38" y="230.44" width="25.26" height="25.33" fill="#ff0a00"/>
<rect x="1485.04" y="230.44" width="25.26" height="25.33" fill="#ff0d00"/>
<rect x="252.00" y="255.16" width="25.26" height="25.33" fill="#ff7a00"/>
<rect x="276.66" y="255.16" width="25.26" height="25.33" fill="#ffa300"/>
<rect x="301.32" y="255.16" width="25.26" height="25.33" fill="#ffed00"/>
<rect x="325.98" y="255.16" width="25.26" height="25.33" fill="#9dff00"/>
<rect x="350.64" y="255.16" width="25.26" height="25.33" fill="#00f552"/>
<rect x="375.30" y="255.16" width="25.26" height="25.33" fill="#00fa9d"/>
<rect x="399.96" y="255.16" width="25.26" height="25.33" fill="#00f7dc"/>
<rect x="424.63" y="255.16" width="25.26" height="25.33" fill="#00e8ff"/>
<rect x="449.29" y="255.16" width="25.26" height="25.33" fill="#00beff"/>
<rect x="473.95" y="255.16" width="25.26" height="25.33" fill="#00aeff"/>
<rect x="498.61" y="255.16" width="49.92" height="25.33" fill="#00a9ff"/>
<rect x="547.93" y="255.16" width="25.26" height="25.33" fill="#00acff"/>
<rect x="572.59" y="255.16" width="25.26" height="25.33" fill="#00b8ff"/>
<rect x="597.25" y="255.16" width="25.26" height="25.33" fill="#00d2ff"/>
<rect x="621.91" y="255.16" width="25.26" height="25.33" fill="#00ebff"/>
<rect x="646.57" y="255.16" width="25.26" height="25.33" fill="#00f5ff"/>
<rect x="671.23" y="255.16" width="25.26" height="25.33" fill="#00f3ff"/>
<rect x="695.89" y="255.16" width="25.26" height="25.33" fill="#00e6ff"/>
<rect x="720.55" y="255.16" width="25.26" height="25.33" fill="#00cdff"/>
<rect x="745.22" y="255.16" width="25.26" height="25.33" fill="#00aeff"/>
<rect x="769.88" y="255.16" width="25.26" height="25.33" fill="#0095ff"/>
<rect x="794.54" y="255.16" width="25.26" height="25.33" fill="#007dff"/>
<rect x="819.20" y="255.16" width="25.26" height="25.33" fill="#0066ff"/>
<rect x="843.86" y="255.16" width="25.26" height="25.33" fill="#0059ff"/>
<rect x="868.52" y="255.16" width="25.26" height="25.33" fill="#005eff"/>
<rect x="893.18" y="255.16" width="25.26" height="25.33" fill="#0078ff"/>
<rect x="917.84" y="255.16" width="25.26" height="25.33" fill="#009fff"/>
<rect x="942.50" y="255.16" width="25.26" height="25.33" fill="#00c6ff"/>
<rect x="967.16" y="255.16" width="25.26" height="25.33" fill="#00ebff"/>
<rect x="991.82" y="255.16" width="25.26" height="25.33" fill="#00f7d4"/>
<rect x="1016.48" y="255.16" width="25.26" height="25.33" fill="#00f991"/>
<rect x="1041.15" y="255.16" width="25.26" height="25.33" fill="#79ff3b"/>
<rect x="1065.81" y="255.16" width="25.26" height="25.33" fill="#95ff01"/>
<rect x="1090.47" y="255.16" width="25.26" height="25.33" fill="#f9ff00"/>
<rect x="1115.13" y="255.16" width="25.26" height="25.33" fill="#ffc100"/>
<rect x="1139.79" y="255.16" width="25.26" height="25.33" fill="#ff8a00"/>
<rect x="1164.45" y="255.16" width="25.26" height="25.33" fill="#ff6800"/>
<rect x="1189.11" y="255.16" width="25.26" height="25.33" fill="#ff5300"/>
<rect x="1213.77" y="255.16" width="25.26" height="25.33" fill="#ff4700"/>
<rect x="1238.43" y="255.16" width="25.26" height="25.33" fill="#ff3f00"/>
<rect x="1263.09" y="255.16" width="25.26" height="25.33" fill="#ff3800"/>
<rect x="1287.75" y="255.16" width="25.26" height="25.33" fill="#ff3100"/>
<rect x="1312.41" y="255.16" width="25.26" height="25.33" fill="#ff2900"/>
<rect x="1337.07" y="255.16" width="25.26" height="25.33" fill="#ff2100"/>
<rect x="1361.74" y="255.16" width="25.26" height="25.33" fill="#ff1c00"/>
<rect x="1386.40" y="255.16" width="25.26" height="25.33" fill="#ff1a00"/>
<rect x="1411.06" y="255.16" width="25.26" height="25.33" fill="#ff1c00"/>
<rect x="1435.72" y="255.16" width="25.26" height="25.33" fill="#ff2000"/>
<rect x="1460.38" y="255.16" width="25.26" height="25.33" fill="#ff2500"/>
<rect x="1485.04" y="255.16" width="25.26" height="25.33" fill="#ff2800"/>
<rect x="252.00" y="279.89" width="25.26" height="25.33" fill="#ffd900"/>
<rect x="276.66" y="279.89" width="25.26" height="25.33" fill="#eaff00"/>
<rect x="301.32" y="279.89" width="25.26" height="25.33" fill="#93ff06"/>
<rect x="325.98" y="279.89" width="25.26" height="25.33" fill="#00f551"/>
<rect x="350.64" y="279.89" width="25.26" height="25.33" fill="#00f998"/>
<rect x="375.30" y="279.89" width="25.26" height="25.33" fill="#00f6e5"/>
<rect x="399.96" y="279.89" width="25.26" height="25.33" fill="#00d8ff"/>
<rect x="424.63" y="279.89" width="25.26" height="25.33" fill="#00a2ff"/>
<rect x="449.29" y="279.89" width="25.26" height="25.33" fill="#008aff"/>
<rect x="473.95" y="279.89" width="25.26" height="25.33" fill="#0080ff"/>
<rect x="498.61" y="279.89" width="49.92" height="25.33" fill="#007cff"/>
<rect x="547.93" y="279.89" width="25.26" height="25.33" fill="#007eff"/>
<rect x="572.59" y="279.89" width="25.26" height="25.33" fill="#0085ff"/>
<rect x="597.25" y="279.89" width="25.26" height="25.33" fill="#0097ff"/>
<rect x="621.91" y="279.89" width="25.26" height="25.33" fill="#00abff"/>
<rect x="646.57" y="279.89" width="25.26" height="25.33" fill="#00b5ff"/>
<rect x="671.23" y="279.89" width="25.26" height="25.33" fill="#00b3ff"/>
<rect x="695.89" y="279.89" width="25.26" height="25.33" fill="#00abff"/>
<rect x="720.55" y="279.89" width="25.26" height="25.33" fill="#0092ff"/>
<rect x="745.22" y="279.89" width="25.26" height="25.33" fill="#007cff"/>
<rect x="769.88" y="279.89" width="25.26" height="25.33" fill="#006cff"/>
<rect x="794.54" y="279.89" width="25.26" height="25.33" fill="#005aff"/>
<rect x="819.20" y="279.89" width="25.26" height="25.33" fill="#0047ff"/>
<rect x="843.86" y="279.89" width="25.26" height="25.33" fill="#003fff"/>
<rect x="868.52" y="279.89" width="25.26" height="25.33" fill="#0043ff"/>
<rect x="893.18" y="279.89" width="25.26" height="25.33" fill="#0058ff"/>
<rect x="917.84" y="279.89" width="25.26" height="25.33" fill="#0079ff"/>
<rect x="942.50" y="279.89" width="25.26" height="25.33" fill="#009dff"/>
<rect x="967.16" y="279.89" width="25.26" height="25.33" fill="#00c3ff"/>
<rect x="991.82" y="279.89" width="25.26" height="25.33" fill="#00edff"/>
<rect x="1016.48" y="279.89" width="25.26" height="25.33" fill="#00f8ca"/>
<rect x="1041.15" y="279.89" width="25.26" height="25.33" fill="#00f885"/>
<rect x="1065.81" y="279.89" width="25.26" height="25.33" fill="#80ff2d"/>
<rect x="1090.47" y="279.89" width="25.26" height="25.33" fill="#b9ff00"/>
<rect x="1115.13" y="279.89" width="25.26" height="25.33" fill="#ffeb00"/>
<rect x="1139.79" y="279.89" width="25.26" height="25.33" fill="#ffbf00"/>
<rect x="1164.45" y="279.89" width="25.26" height="25.33" fill="#ffa800"/>
<rect x="1189.11" y="279.89" width="25.26" height="25.33" fill="#ff9600"/>
<rect x="1213.77" y="279.89" width="25.26" height="25.33" fill="#ff8400"/>
<rect x="1238.43" y="279.89" width="25.26" height="25.33" fill="#ff7700"/>
<rect x="1263.09" y="279.89" width="25.26" height="25.33" fill="#ff6e00"/>
<rect x="1287.75" y="279.89" width="25.26" height="25.33" fill="#ff6400"/>
<rect x="1312.41" y="279.89" width="25.26" height="25.33" fill="#ff5800"/>
<rect x="1337.07" y="279.89" width="25.26" height="25.33" fill="#ff4a00"/>
<rect x="1361.74" y="279.89" width="25.26" height="25.33" fill="#ff4000"/>
<rect x="1386.40" y="279.89" width="25.26" height="25.33" fill="#ff3c00"/>
<rect x="1411.06" y="279.89" width="25.26" height="25.33" fill="#ff3e00"/>
<rect x="1435.72" y="279.89" width="25.26" height="25.33" fill="#ff4200"/>
<rect x="1460.38" y="279.89" width="25.26" height="25.33" fill="#ff4700"/>
<rect x="1485.04" y="279.89" width="25.26" height="25.33" fill="#ff4a00"/>
<rect x="252.00" y="304.62" width="25.26" height="25.33" fill="#a5ff00"/>
<rect x="276.66" y="304.62" width="25.26" height="25.33" fill="#87ff1e"/>
<rect x="301.32" y="304.62" width="25.26" height="25.33" fill="#00f666"/>
<rect x="325.98" y="304.62" width="25.26" height="25.33" fill="#00faaa"/>
<rect x="350.64" y="304.62" width="25.26" height="25.33" fill="#00f5fa"/>
<rect x="375.30" y="304.62" width="25.26" height="25.33" fill="#00beff"/>
<rect x="399.96" y="304.62" width="25.26" height="25.33" fill="#0096ff"/>
<rect x="424.63" y="304.62" width="25.26" height="25.33" fill="#0066ff"/>
<rect x="449.29" y="304.62" width="25.26" height="25.33" fill="#0059ff"/>
<rect x="473.95" y="304.62" width="25.26" height="25.33" fill="#004eff"/>
<rect x="498.61" y="304.62" width="49.92" height="25.33" fill="#004bff"/>
<rect x="547.93" y="304.62" width="25.26" height="25.33" fill="#004cff"/>
<rect x="572.59" y="304.62" width="25.26" height="25.33" fill="#0054ff"/>
<rect x="597.25" y="304.62" width="25.26" height="25.33" fill="#0063ff"/>
<rect x="621.91" y="304.62" width="25.26" height="25.33" fill="#0073ff"/>
<rect x="646.57" y="304.62" width="25.26" height="25.33" fill="#007dff"/>
<rect x="671.23" y="304.62" width="25.26" height="25.33" fill="#007bff"/>
<rect x="695.89" y="304.62" width="25.26" height="25.33" fill="#0073ff"/>
<rect x="720.55" y="304.62" width="25.26" height="25.33" fill="#0063ff"/>
<rect x="745.22" y="304.62" width="25.26" height="25.33" fill="#0054ff"/>
<rect x="769.88" y="304.62" width="25.26" height="25.33" fill="#0045ff"/>
<rect x="794.54" y="304.62" width="25.26" height="25.33" fill="#0036ff"/>
<rect x="819.20" y="304.62" width="25.26" height="25.33" fill="#0024ff"/>
<rect x="843.86" y="304.62" width="25.26" height="25.33" fill="#0020ff"/>
<rect x="868.52" y="304.62" width="25.26" height="25.33" fill="#0025ff"/>
<rect x="893.18" y="304.62" width="25.26" height="25.33" fill="#0037ff"/>
<rect x="917.84" y="304.62" width="25.26" height="25.33" fill="#0053ff"/>
<rect x="942.50" y="304.62" width="25.26" height="25.33" fill="#0074ff"/>
<rect x="967.16" y="304.62" width="25.26" height="25.33" fill="#0097ff"/>
<rect x="991.82" y="304.62" width="25.26" height="25.33" fill="#00bfff"/>
<rect x="1016.48" y="304.62" width="25.26" height="25.33" fill="#00ebff"/>
<rect x="1041.15" y="304.62" width="25.26" height="25.33" fill="#00f8ca"/>
<rect x="1065.81" y="304.62" width="25.26" height="25.33" fill="#00f87f"/>
<rect x="1090.47" y="304.62" width="25.26" height="25.33" fill="#83ff26"/>
<rect x="1115.13" y="304.62" width="25.26" height="25.33" fill="#b1ff00"/>
<rect x="1139.79" y="304.62" width="25.26" height="25.33" fill="#eaff00"/>
<rect x="1164.45" y="304.62" width="25.26" height="25.33" fill="#fffa00"/>
<rect x="1189.11" y="304.62" width="25.26" height="25.33" fill="#ffe800"/>
<rect x="1213.77" y="304.62" width="25.26" height="25.33" fill="#ffd400"/>
<rect x="1238.43" y="304.62" width="25.26" height="25.33" fill="#ffc100"/>
<rect x="1263.09" y="304.62" width="25.26" height="25.33" fill="#ffb400"/>
<rect x="1287.75" y="304.62" width="25.26" height="25.33" fill="#ffa800"/>
<rect x="1312.41" y="304.62" width="25.26" height="25.33" fill="#ff9700"/>
<rect x="1337.07" y="304.62" width="25.26" height="25.33" fill="#ff8100"/>
<rect x="1361.74" y="304.62" width="25.26" height="25.33" fill="#ff7300"/>
<rect x="1386.40" y="304.62" width="25.26" height="25.33" fill="#ff6b00"/>
<rect x="1411.06" y="304.62" width="25.26" height="25.33" fill="#ff6900"/>
<rect x="1435.72" y="304.62" width="25.26" height="25.33" fill="#ff6b00"/>
<rect x="1460.38" y="304.62" width="25.26" height="25.33" fill="#ff6d00"/>
<rect x="1485.04" y="304.62" width="25.26" height="25.33" fill="#ff6e00"/>
<rect x="252.00" y="329.35" width="25.26" height="25.33" fill="#00f552"/>
<rect x="276.66" y="329.35" width="25.26" height="25.33" fill="#00f77a"/>
<rect x="301.32" y="329.35" width="25.26" height="25.33" fill="#00f9bb"/>
<rect x="325.98" y="329.35" width="25.26" height="25.33" fill="#00ebff"/>
<rect x="350.64" y="329.35" width="25.26" height="25.33" fill="#00aaff"/>
<rect x="375.30" y="329.35" width="25.26" height="25.33" fill="#0072ff"/>
<rect x="399.96" y="329.35" width="25.26" height="25.33" fill="#004cff"/>
<rect x="424.63" y="329.35" width="25.26" height="25.33" fill="#0027ff"/>
<rect x="449.29" y="329.35" width="25.26" height="25.33" fill="#0025ff"/>
<rect x="473.95" y="329.35" width="123.90" height="25.33" fill="#0023ff"/>
<rect x="597.25" y="329.35" width="25.26" height="25.33" fill="#0025ff"/>
<rect x="621.91" y="329.35" width="25.26" height="25.33" fill="#002aff"/>
<rect x="646.57" y="329.35" width="49.92" height="25.33" fill="#002fff"/>
<rect x="695.89" y="329.35" width="25.26" height="25.33" fill="#002aff"/>
<rect x="720.55" y="329.35" width="25.26" height="25.33" fill="#0025ff"/>
<rect x="745.22" y="329.35" width="25.26" height="25.33" fill="#0022ff"/>
<rect x="769.88" y="329.35" width="25.26" height="25.33" fill="#001dff"/>
<rect x="794.54" y="329.35" width="25.26" height="25.33" fill="#0011ff"/>
<rect x="819.20" y="329.35" width="25.26" height="25.33" fill="#0002ff"/>
<rect x="843.86" y="329.35" width="25.26" height="25.33" fill="#0000fe"/>
<rect x="868.52" y="329.35" width="25.26" height="25.33" fill="#0005ff"/>
<rect x="893.18" y="329.35" width="25.26" height="25.33" fill="#0016ff"/>
<rect x="917.84" y="329.35" width="25.26" height="25.33" fill="#002eff"/>
<rect x="942.50" y="329.35" width="25.26" height="25.33" fill="#004bff"/>
<rect x="967.16" y="329.35" width="25.26" height="25.33" fill="#006bff"/>
<rect x="991.82" y="329.35" width="25.26" height="25.33" fill="#008fff"/>
<rect x="1016.48" y="329.35" width="25.26" height="25.33" fill="#00b6ff"/>
<rect x="1041.15" y="329.35" width="25.26" height="25.33" fill="#00e5ff"/>
<rect x="1065.81" y="329.35" width="25.26" height="25.33" fill="#00f8cb"/>
<rect x="1090.47" y="329.35" width="25.26" height="25.33" fill="#00f882"/>
<rect x="1115.13" y="329.35" width="25.26" height="25.33" fill="#7bff36"/>
<rect x="1139.79" y="329.35" width="25.26" height="25.33" fill="#8bff15"/>
<rect x="1164.45" y="329.35" width="25.26" height="25.33" fill="#96ff00"/>
<rect x="1189.11" y="329.35" width="25.26" height="25.33" fill="#b6ff00"/>
<rect x="1213.77" y="329.35" width="25.26" height="25.33" fill="#d6ff00"/>
<rect x="1238.43" y="329.35" width="25.26" height="25.33" fill="#eeff00"/>
<rect x="1263.09" y="329.35" width="25.26" height="25.33" fill="#fdff00"/>
<rect x="1287.75" y="329.35" width="25.26" height="25.33" fill="#fff700"/>
<rect x="1312.41" y="329.35" width="25.26" height="25.33" fill="#ffe800"/>
<rect x="1337.07" y="329.35" width="25.26" height="25.33" fill="#ffd300"/>
<rect x="1361.74" y="329.35" width="25.26" height="25.33" fill="#ffbe00"/>
<rect x="1386.40" y="329.35" width="25.26" height="25.33" fill="#ffaf00"/>
<rect x="1411.06" y="329.35" width="25.26" height="25.33" fill="#ffa600"/>
<rect x="1435.72" y="329.35" width="25.26" height="25.33" fill="#ffa000"/>
<rect x="1460.38" y="329.35" width="25.26" height="25.33" fill="#ff9d00"/>
<rect x="1485.04" y="329.35" width="25.26" height="25.33" fill="#ff9c00"/>
<rect x="252.00" y="354.08" width="25.26" height="25.33" fill="#00f999"/>
<rect x="276.66" y="354.08" width="25.26" height="25.33" fill="#00f8c3"/>
<rect x="301.32" y="354.08" width="25.26" height="25.33" fill="#00efff"/>
<rect x="325.98" y="354.08" width="25.26" height="25.33" fill="#00afff"/>
<rect x="350.64" y="354.08" width="25.26" height="25.33" fill="#0070ff"/>
<rect x="375.30" y="354.08" width="25.26" height="25.33" fill="#003bff"/>
<rect x="399.96" y="354.08" width="25.26" height="25.33" fill="#001cff"/>
<rect x="424.63" y="354.08" width="25.26" height="25.33" fill="#0008ff"/>
<rect x="449.29" y="354.08" width="25.26" height="25.33" fill="#0004ff"/>
<rect x="473.95" y="354.08" width="123.90" height="25.33" fill="#0000fe"/>
<rect x="597.25" y="354.08" width="25.26" height="25.33" fill="#0002ff"/>
<rect x="621.91" y="354.08" width="25.26" height="25.33" fill="#0008ff"/>
<rect x="646.57" y="354.08" width="49.92" height="25.33" fill="#000bff"/>
<rect x="695.89" y="354.08" width="25.26" height="25.33" fill="#0007ff"/>
<rect x="720.55" y="354.08" width="25.26" height="25.33" fill="#0003ff"/>
<rect x="745.22" y="354.08" width="25.26" height="25.33" fill="#0000fe"/>
<rect x="769.88" y="354.08" width="25.26" height="25.33" fill="#0000f9"/>
<rect x="794.54" y="354.08" width="25.26" height="25.33" fill="#0000ef"/>
<rect x="819.20" y="354.08" width="25.26" height="25.33" fill="#0000e2"/>
<rect x="843.86" y="354.08" width="25.26" height="25.33" fill="#0000df"/>
<rect x="868.52" y="354.08" width="25.26" height="25.33" fill="#0000e5"/>
<rect x="893.18" y="354.08" width="25.26" height="25.33" fill="#0000f4"/>
<rect x="917.84" y="354.08" width="25.26" height="25.33" fill="#000cff"/>
<rect x="942.50" y="354.08" width="25.26" height="25.33" fill="#0025ff"/>
<rect x="967.16" y="354.08" width="25.26" height="25.33" fill="#0040ff"/>
<rect x="991.82" y="354.08" width="25.26" height="25.33" fill="#005fff"/>
<rect x="1016.48" y="354.08" width="25.26" height="25.33" fill="#0085ff"/>
<rect x="1041.15" y="354.08" width="25.26" height="25.33" fill="#00b2ff"/>
<rect x="1065.81" y="354.08" width="25.26" height="25.33" fill="#00e5ff"/>
<rect x="1090.47" y="354.08" width="25.26" height="25.33" fill="#00f8cf"/>
<rect x="1115.13" y="354.08" width="25.26" height="25.33" fill="#00f993"/>
<rect x="1139.79" y="354.08" width="25.26" height="25.33" fill="#00f76a"/>
<rect x="1164.45" y="354.08" width="25.26" height="25.33" fill="#7aff39"/>
<rect x="1189.11" y="354.08" width="25.26" height="25.33" fill="#84ff23"/>
<rect x="1213.77" y="354.08" width="25.26" height="25.33" fill="#8eff11"/>
<rect x="1238.43" y="354.08" width="25.26" height="25.33" fill="#94ff03"/>
<rect x="1263.09" y="354.08" width="25.26" height="25.33" fill="#a0ff00"/>
<rect x="1287.75" y="354.08" width="25.26" height="25.33" fill="#abff00"/>
<rect x="1312.41" y="354.08" width="25.26" height="25.33" fill="#baff00"/>
<rect x="1337.07" y="354.08" width="25.26" height="25.33" fill="#d0ff00"/>
<rect x="1361.74" y="354.08" width="25.26" height="25.33" fill="#e8ff00"/>
<rect x="1386.40" y="354.08" width="25.26" height="25.33" fill="#fffe00"/>
<rect x="1411.06" y="354.08" width="25.26" height="25.33" fill="#ffee00"/>
<rect x="1435.72" y="354.08" width="25.26" height="25.33" fill="#ffe000"/>
<rect x="1460.38" y="354.08" width="25.26" height="25.33" fill="#ffd700"/>
<rect x="1485.04" y="354.08" width="25.26" height="25.33" fill="#ffd200"/>
<rect x="252.00" y="378.81" width="25.26" height="25.33" fill="#00f7d4"/>
<rect x="276.66" y="378.81" width="25.26" height="25.33" fill="#00f4ff"/>
<rect x="301.32" y="378.81" width="25.26" height="25.33" fill="#00c2ff"/>
<rect x="325.98" y="378.81" width="25.26" height="25.33" fill="#008aff"/>
<rect x="350.64" y="378.81" width="25.26" height="25.33" fill="#0051ff"/>
<rect x="375.30" y="378.81" width="25.26" height="25.33" fill="#0020ff"/>
<rect x="399.96" y="378.81" width="25.26" height="25.33" fill="#0001ff"/>
<rect x="424.63" y="378.81" width="25.26" height="25.33" fill="#0000e9"/>
<rect x="449.29" y="378.81" width="25.26" height="25.33" fill="#0000dd"/>
<rect x="473.95" y="378.81" width="25.26" height="25.33" fill="#0000d5"/>
<rect x="498.61" y="378.81" width="25.26" height="25.33" fill="#0000d2"/>
<rect x="523.27" y="378.81" width="49.92" height="25.33" fill="#0000d1"/>
<rect x="572.59" y="378.81" width="25.26" height="25.33" fill="#0000d2"/>
<rect x="597.25" y="378.81" width="25.26" height="25.33" fill="#0000d6"/>
<rect x="621.91" y="378.81" width="25.26" height="25.33" fill="#0000db"/>
<rect x="646.57" y="378.81" width="74.58" height="25.33" fill="#0000dd"/>
<rect x="720.55" y="378.81" width="25.26" height="25.33" fill="#0000dc"/>
<rect x="745.22" y="378.81" width="25.26" height="25.33" fill="#0000da"/>
<rect x="769.88" y="378.81" width="25.26" height="25.33" fill="#0000d6"/>
<rect x="794.54" y="378.81" width="25.26" height="25.33" fill="#0000d1"/>
<rect x="819.20" y="378.81" width="25.26" height="25.33" fill="#0000c9"/>
<rect x="843.86" y="378.81" width="25.26" height="25.33" fill="#0000c5"/>
<rect x="868.52" y="378.81" width="25.26" height="25.33" fill="#0000c8"/>
<rect x="893.18" y="378.81" width="25.26" height="25.33" fill="#0000d7"/>
<rect x="917.84" y="378.81" width="25.26" height="25.33" fill="#0000ec"/>
<rect x="942.50" y="378.81" width="25.26" height="25.33" fill="#0003ff"/>
<rect x="967.16" y="378.81" width="25.26" height="25.33" fill="#0019ff"/>
<rect x="991.82" y="378.81" width="25.26" height="25.33" fill="#0035ff"/>
<rect x="1016.48" y="378.81" width="25.26" height="25.33" fill="#005bff"/>
<rect x="1041.15" y="378.81" width="25.26" height="25.33" fill="#0088ff"/>
<rect x="1065.81" y="378.81" width="25.26" height="25.33" fill="#00b8ff"/>
<rect x="1090.47" y="378.81" width="25.26" height="25.33" fill="#00e8ff"/>
<rect x="1115.13" y="378.81" width="25.26" height="25.33" fill="#00f7d8"/>
<rect x="1139.79" y="378.81" width="25.26" height="25.33" fill="#00faaa"/>
<rect x="1164.45" y="378.81" width="25.26" height="25.33" fill="#00f888"/>
<rect x="1189.11" y="378.81" width="25.26" height="25.33" fill="#00f76b"/>
<rect x="1213.77" y="378.81" width="25.26" height="25.33" fill="#00f553"/>
<rect x="1238.43" y="378.81" width="25.26" height="25.33" fill="#7eff30"/>
<rect x="1263.09" y="378.81" width="25.26" height="25.33" fill="#83ff26"/>
<rect x="1287.75" y="378.81" width="25.26" height="25.33" fill="#87ff1e"/>
<rect x="1312.41" y="378.81" width="25.26" height="25.33" fill="#8aff18"/>
<rect x="1337.07" y="378.81" width="25.26" height="25.33" fill="#8dff12"/>
<rect x="1361.74" y="378.81" width="25.26" height="25.33" fill="#a6ff00"/>
<rect x="1386.40" y="378.81" width="25.26" height="25.33" fill="#beff00"/>
<rect x="1411.06" y="378.81" width="25.26" height="25.33" fill="#daff00"/>
<rect x="1435.72" y="378.81" width="25.26" height="25.33" fill="#f4ff00"/>
<rect x="1460.38" y="378.81" width="25.26" height="25.33" fill="#fff800"/>
<rect x="1485.04" y="378.81" width="25.26" height="25.33" fill="#fff100"/>
<rect x="252.00" y="403.54" width="25.26" height="25.33" fill="#00f5ff"/>
<rect x="276.66" y="403.54" width="25.26" height="25.33" fill="#00d0ff"/>
<rect x="301.32" y="403.54" width="25.26" height="25.33" fill="#00a3ff"/>
<rect x="325.98" y="403.54" width="25.26" height="25.33" fill="#0072ff"/>
<rect x="350.64" y="403.54" width="25.26" height="25.33" fill="#0041ff"/>
<rect x="375.30" y="403.54" width="25.26" height="25.33" fill="#0015ff"/>
<rect x="399.96" y="403.54" width="25.26" height="25.33" fill="#0000f0"/>
<rect x="424.63" y="403.54" width="25.26" height="25.33" fill="#0000d5"/>
<rect x="449.29" y="403.54" width="25.26" height="25.33" fill="#0000c1"/>
<rect x="473.95" y="403.54" width="25.26" height="25.33" fill="#0000b2"/>
<rect x="498.61" y="403.54" width="25.26" height="25.33" fill="#0000aa"/>
<rect x="523.27" y="403.54" width="25.26" height="25.33" fill="#0000a7"/>
<rect x="547.93" y="403.54" width="25.26" height="25.33" fill="#0000a8"/>
<rect x="572.59" y="403.54" width="25.26" height="25.33" fill="#0000ad"/>
<rect x="597.25" y="403.54" width="25.26" height="25.33" fill="#0000b4"/>
<rect x="621.91" y="403.54" width="25.26" height="25.33" fill="#0000ba"/>
<rect x="646.57" y="403.54" width="25.26" height="25.33" fill="#0000bd"/>
<rect x="671.23" y="403.54" width="25.26" height="25.33" fill="#0000bf"/>
<rect x="695.89" y="403.54" width="49.92" height="25.33" fill="#0000c0"/>
<rect x="745.22" y="403.54" width="25.26" height="25.33" fill="#0000bf"/>
<rect x="769.88" y="403.54" width="25.26" height="25.33" fill="#0000bd"/>
<rect x="794.54" y="403.54" width="25.26" height="25.33" fill="#0000ba"/>
<rect x="819.20" y="403.54" width="25.26" height="25.33" fill="#0000b3"/>
<rect x="843.86" y="403.54" width="25.26" height="25.33" fill="#0000ae"/>
<rect x="868.52" y="403.54" width="25.26" height="25.33" fill="#0000af"/>
<rect x="893.18" y="403.54" width="25.26" height="25.33" fill="#0000bd"/>
<rect x="917.84" y="403.54" width="25.26" height="25.33" fill="#0000d2"/>
<rect x="942.50" y="403.54" width="25.26" height="25.33" fill="#0000e7"/>
<rect x="967.16" y="403.54" width="25.26" height="25.33" fill="#0000fa"/>
<rect x="991.82" y="403.54" width="25.26" height="25.33" fill="#0015ff"/>
<rect x="1016.48" y="403.54" width="25.26" height="25.33" fill="#003aff"/>
<rect x="1041.15" y="403.54" width="25.26" height="25.33" fill="#0068ff"/>
<rect x="1065.81" y="403.54" width="25.26" height="25.33" fill="#0095ff"/>
<rect x="1090.47" y="403.54" width="25.26" height="25.33" fill="#00bfff"/>
<rect x="1115.13" y="403.54" width="25.26" height="25.33" fill="#00e6ff"/>
<rect x="1139.79" y="403.54" width="25.26" height="25.33" fill="#00f6e6"/>
<rect x="1164.45" y="403.54" width="25.26" height="25.33" fill="#00f9c0"/>
<rect x="1189.11" y="403.54" width="25.26" height="25.33" fill="#00fa9e"/>
<rect x="1213.77" y="403.54" width="25.26" height="25.33" fill="#00f884"/>
<rect x="1238.43" y="403.54" width="25.26" height="25.33" fill="#00f770"/>
<rect x="1263.09" y="403.54" width="25.26" height="25.33" fill="#00f661"/>
<rect x="1287.75" y="403.54" width="25.26" height="25.33" fill="#00f557"/>
<rect x="1312.41" y="403.54" width="25.26" height="25.33" fill="#00f551"/>
<rect x="1337.07" y="403.54" width="25.26" height="25.33" fill="#79ff3b"/>
<rect x="1361.74" y="403.54" width="25.26" height="25.33" fill="#7cff34"/>
<rect x="1386.40" y="403.54" width="25.26" height="25.33" fill="#82ff28"/>
<rect x="1411.06" y="403.54" width="25.26" height="25.33" fill="#89ff19"/>
<rect x="1435.72" y="403.54" width="25.26" height="25.33" fill="#91ff0a"/>
<rect x="1460.38" y="403.54" width="25.26" height="25.33" fill="#9aff00"/>
<rect x="1485.04" y="403.54" width="25.26" height="25.33" fill="#a5ff00"/>
<rect x="252.00" y="428.27" width="25.26" height="25.33" fill="#00deff"/>
<rect x="276.66" y="428.27" width="25.26" height="25.33" fill="#00b9ff"/>
<rect x="301.32" y="428.27" width="25.26" height="25.33" fill="#008fff"/>
<rect x="325.98" y="428.27" width="25.26" height="25.33" fill="#0063ff"/>
<rect x="350.64" y="428.27" width="25.26" height="25.33" fill="#0037ff"/>
<rect x="375.30" y="428.27" width="25.26" height="25.33" fill="#000eff"/>
<rect x="399.96" y="428.27" width="25.26" height="25.33" fill="#0000e8"/>
<rect x="424.63" y="428.27" width="25.26" height="25.33" fill="#0000c9"/>
<rect x="449.29" y="428.27" width="25.26" height="25.33" fill="#0000b0"/>
<rect x="473.95" y="428.27" width="25.26" height="25.33" fill="#00009f"/>
<rect x="498.61" y="428.27" width="25.26" height="25.33" fill="#000094"/>
<rect x="523.27" y="428.27" width="25.26" height="25.33" fill="#000091"/>
<rect x="547.93" y="428.27" width="25.26" height="25.33" fill="#000094"/>
<rect x="572.59" y="428.27" width="25.26" height="25.33" fill="#00009b"/>
<rect x="597.25" y="428.27" width="25.26" height="25.33" fill="#0000a4"/>
<rect x="621.91" y="428.27" width="25.26" height="25.33" fill="#0000ac"/>
<rect x="646.57" y="428.27" width="25.26" height="25.33" fill="#0000b1"/>
<rect x="671.23" y="428.27" width="25.26" height="25.33" fill="#0000b3"/>
<rect x="695.89" y="428.27" width="25.26" height="25.33" fill="#0000b2"/>
<rect x="720.55" y="428.27" width="25.26" height="25.33" fill="#0000b0"/>
<rect x="745.22" y="428.27" width="25.26" height="25.33" fill="#0000ad"/>
<rect x="769.88" y="428.27" width="25.26" height="25.33" fill="#0000a9"/>
<rect x="794.54" y="428.27" width="25.26" height="25.33" fill="#0000a5"/>
<rect x="819.20" y="428.27" width="25.26" height="25.33" fill="#00009f"/>
<rect x="843.86" y="428.27" width="25.26" height="25.33" fill="#00009a"/>
<rect x="868.52" y="428.27" width="25.26" height="25.33" fill="#00009c"/>
<rect x="893.18" y="428.27" width="25.26" height="25.33" fill="#0000aa"/>
<rect x="917.84" y="428.27" width="25.26" height="25.33" fill="#0000be"/>
<rect x="942.50" y="428.27" width="25.26" height="25.33" fill="#0000d3"/>
<rect x="967.16" y="428.27" width="25.26" height="25.33" fill="#0000e7"/>
<rect x="991.82" y="428.27" width="25.26" height="25.33" fill="#0003ff"/>
<rect x="1016.48" y="428.27" width="25.26" height="25.33" fill="#0027ff"/>
<rect x="1041.15" y="428.27" width="25.26" height="25.33" fill="#0051ff"/>
<rect x="1065.81" y="428.27" width="25.26" height="25.33" fill="#007aff"/>
<rect x="1090.47" y="428.27" width="25.26" height="25.33" fill="#009fff"/>
<rect x="1115.13" y="428.27" width="25.26" height="25.33" fill="#00c2ff"/>
<rect x="1139.79" y="428.27" width="25.26" height="25.33" fill="#00e3ff"/>
<rect x="1164.45" y="428.27" width="25.26" height="25.33" fill="#00f6ef"/>
<rect x="1189.11" y="428.27" width="25.26" height="25.33" fill="#00f8cc"/>
<rect x="1213.77" y="428.27" width="25.26" height="25.33" fill="#00faae"/>
<rect x="1238.43" y="428.27" width="25.26" height="25.33" fill="#00f998"/>
<rect x="1263.09" y="428.27" width="25.26" height="25.33" fill="#00f88b"/>
<rect x="1287.75" y="428.27" width="25.26" height="25.33" fill="#00f882"/>
<rect x="1312.41" y="428.27" width="25.26" height="25.33" fill="#00f87c"/>
<rect x="1337.07" y="428.27" width="25.26" height="25.33" fill="#00f776"/>
<rect x="1361.74" y="428.27" width="25.26" height="25.33" fill="#00f76c"/>
<rect x="1386.40" y="428.27" width="25.26" height="25.33" fill="#00f65e"/>
<rect x="1411.06" y="428.27" width="25.26" height="25.33" fill="#78ff3b"/>
<rect x="1435.72" y="428.27" width="25.26" height="25.33" fill="#7fff2e"/>
<rect x="1460.38" y="428.27" width="25.26" height="25.33" fill="#84ff23"/>
<rect x="1485.04" y="428.27" width="25.26" height="25.33" fill="#87ff1f"/>
<rect x="252.00" y="453.00" width="25.26" height="25.33" fill="#00d1ff"/>
<rect x="276.66" y="453.00" width="25.26" height="25.33" fill="#00abff"/>
<rect x="301.32" y="453.00" width="25.26" height="25.33" fill="#0084ff"/>
<rect x="325.98" y="453.00" width="25.26" height="25.33" fill="#005aff"/>
<rect x="350.64" y="453.00" width="25.26" height="25.33" fill="#0032ff"/>
<rect x="375.30" y="453.00" width="25.26" height="25.33" fill="#000aff"/>
<rect x="399.96" y="453.00" width="25.26" height="25.33" fill="#0000e4"/>
<rect x="424.63" y="453.00" width="25.26" height="25.33" fill="#0000c3"/>
<rect x="449.29" y="453.00" width="25.26" height="25.33" fill="#0000a9"/>
<rect x="473.95" y="453.00" width="25.26" height="25.33" fill="#000097"/>
<rect x="498.61" y="453.00" width="25.26" height="25.33" fill="#00008c"/>
<rect x="523.27" y="453.00" width="25.26" height="25.33" fill="#00008a"/>
<rect x="547.93" y="453.00" width="25.26" height="25.33" fill="#00008e"/>
<rect x="572.59" y="453.00" width="25.26" height="25.33" fill="#000096"/>
<rect x="597.25" y="453.00" width="25.26" height="25.33" fill="#0000a0"/>
<rect x="621.91" y="453.00" width="25.26" height="25.33" fill="#0000a9"/>
<rect x="646.57" y="453.00" width="25.26" height="25.33" fill="#0000af"/>
<rect x="671.23" y="453.00" width="25.26" height="25.33" fill="#0000b0"/>
<rect x="695.89" y="453.00" width="25.26" height="25.33" fill="#0000ae"/>
<rect x="720.55" y="453.00" width="25.26" height="25.33" fill="#0000a9"/>
<rect x="745.22" y="453.00" width="25.26" height="25.33" fill="#0000a2"/>
<rect x="769.88" y="453.00" width="25.26" height="25.33" fill="#00009b"/>
<rect x="794.54" y="453.00" width="25.26" height="25.33" fill="#000094"/>
<rect x="819.20" y="453.00" width="25.26" height="25.33" fill="#00008d"/>
<rect x="843.86" y="453.00" width="25.26" height="25.33" fill="#00008a"/>
<rect x="868.52" y="453.00" width="25.26" height="25.33" fill="#00008e"/>
<rect x="893.18" y="453.00" width="25.26" height="25.33" fill="#00009c"/>
<rect x="917.84" y="453.00" width="25.26" height="25.33" fill="#0000b1"/>
<rect x="942.50" y="453.00" width="25.26" height="25.33" fill="#0000c8"/>
<rect x="967.16" y="453.00" width="25.26" height="25.33" fill="#0000df"/>
<rect x="991.82" y="453.00" width="25.26" height="25.33" fill="#0000fb"/>
<rect x="1016.48" y="453.00" width="25.26" height="25.33" fill="#001dff"/>
<rect x="1041.15" y="453.00" width="25.26" height="25.33" fill="#0042ff"/>
<rect x="1065.81" y="453.00" width="25.26" height="25.33" fill="#0067ff"/>
<rect x="1090.47" y="453.00" width="25.26" height="25.33" fill="#0088ff"/>
<rect x="1115.13" y="453.00" width="25.26" height="25.33" fill="#00a9ff"/>
<rect x="1139.79" y="453.00" width="25.26" height="25.33" fill="#00c9ff"/>
<rect x="1164.45" y="453.00" width="25.26" height="25.33" fill="#00e8ff"/>
<rect x="1189.11" y="453.00" width="25.26" height="25.33" fill="#00f6ed"/>
<rect x="1213.77" y="453.00" width="25.26" height="25.33" fill="#00f8d1"/>
<rect x="1238.43" y="453.00" width="25.26" height="25.33" fill="#00f9bc"/>
<rect x="1263.09" y="453.00" width="25.26" height="25.33" fill="#00f9b0"/>
<rect x="1287.75" y="453.00" width="25.26" height="25.33" fill="#00faa8"/>
<rect x="1312.41" y="453.00" width="25.26" height="25.33" fill="#00faa0"/>
<rect x="1337.07" y="453.00" width="25.26" height="25.33" fill="#00f997"/>
<rect x="1361.74" y="453.00" width="25.26" height="25.33" fill="#00f88b"/>
<rect x="1386.40" y="453.00" width="25.26" height="25.33" fill="#00f87d"/>
<rect x="1411.06" y="453.00" width="25.26" height="25.33" fill="#00f76e"/>
<rect x="1435.72" y="453.00" width="25.26" height="25.33" fill="#00f662"/>
<rect x="1460.38" y="453.00" width="25.26" height="25.33" fill="#00f558"/>
<rect x="1485.04" y="453.00" width="25.26" height="25.33" fill="#00f554"/>
<rect x="252.00" y="477.73" width="25.26" height="25.33" fill="#00caff"/>
<rect x="276.66" y="477.73" width="25.26" height="25.33" fill="#00a4ff"/>
<rect x="301.32" y="477.73" width="25.26" height="25.33" fill="#007eff"/>
<rect x="325.98" y="477.73" width="25.26" height="25.33" fill="#0058ff"/>
<rect x="350.64" y="477.73" width="25.26" height="25.33" fill="#0031ff"/>
<rect x="375.30" y="477.73" width="25.26" height="25.33" fill="#000cff"/>
<rect x="399.96" y="477.73" width="25.26" height="25.33" fill="#0000e6"/>
<rect x="424.63" y="477.73" width="25.26" height="25.33" fill="#0000c4"/>
<rect x="449.29" y="477.73" width="25.26" height="25.33" fill="#0000aa"/>
<rect x="473.95" y="477.73" width="25.26" height="25.33" fill="#000098"/>
<rect x="498.61" y="477.73" width="25.26" height="25.33" fill="#00008e"/>
<rect x="523.27" y="477.73" width="25.26" height="25.33" fill="#00008c"/>
<rect x="547.93" y="477.73" width="25.26" height="25.33" fill="#00008f"/>
<rect x="572.59" y="477.73" width="25.26" height="25.33" fill="#000098"/>
<rect x="597.25" y="477.73" width="25.26" height="25.33" fill="#0000a3"/>
<rect x="621.91" y="477.73" width="25.26" height="25.33" fill="#0000ac"/>
<rect x="646.57" y="477.73" width="49.92" height="25.33" fill="#0000b1"/>
<rect x="695.89" y="477.73" width="25.26" height="25.33" fill="#0000ad"/>
<rect x="720.55" y="477.73" width="25.26" height="25.33" fill="#0000a6"/>
<rect x="745.22" y="477.73" width="25.26" height="25.33" fill="#00009e"/>
<rect x="769.88" y="477.73" width="25.26" height="25.33" fill="#000094"/>
<rect x="794.54" y="477.73" width="25.26" height="25.33" fill="#00008b"/>
<rect x="819.20" y="477.73" width="74.58" height="25.33" fill="#000087"/>
<rect x="893.18" y="477.73" width="25.26" height="25.33" fill="#000095"/>
<rect x="917.84" y="477.73" width="25.26" height="25.33" fill="#0000ad"/>
<rect x="942.50" y="477.73" width="25.26" height="25.33" fill="#0000c7"/>
<rect x="967.16" y="477.73" width="25.26" height="25.33" fill="#0000df"/>
<rect x="991.82" y="477.73" width="25.26" height="25.33" fill="#0000fa"/>
<rect x="1016.48" y="477.73" width="25.26" height="25.33" fill="#001aff"/>
<rect x="1041.15" y="477.73" width="25.26" height="25.33" fill="#003bff"/>
<rect x="1065.81" y="477.73" width="25.26" height="25.33" fill="#005dff"/>
<rect x="1090.47" y="477.73" width="25.26" height="25.33" fill="#007eff"/>
<rect x="1115.13" y="477.73" width="25.26" height="25.33" fill="#009dff"/>
<rect x="1139.79" y="477.73" width="25.26" height="25.33" fill="#00bdff"/>
<rect x="1164.45" y="477.73" width="25.26" height="25.33" fill="#00daff"/>
<rect x="1189.11" y="477.73" width="25.26" height="25.33" fill="#00f3ff"/>
<rect x="1213.77" y="477.73" width="25.26" height="25.33" fill="#00f6e9"/>
<rect x="1238.43" y="477.73" width="25.26" height="25.33" fill="#00f7d9"/>
<rect x="1263.09" y="477.73" width="25.26" height="25.33" fill="#00f8cf"/>
<rect x="1287.75" y="477.73" width="25.26" height="25.33" fill="#00f8c8"/>
<rect x="1312.41" y="477.73" width="25.26" height="25.33" fill="#00f9be"/>
<rect x="1337.07" y="477.73" width="25.26" height="25.33" fill="#00f9b1"/>
<rect x="1361.74" y="477.73" width="25.26" height="25.33" fill="#00faa3"/>
<rect x="1386.40" y="477.73" width="25.26" height="25.33" fill="#00f997"/>
<rect x="1411.06" y="477.73" width="25.26" height="25.33" fill="#00f98c"/>
<rect x="1435.72" y="477.73" width="25.26" height="25.33" fill="#00f882"/>
<rect x="1460.38" y="477.73" width="25.26" height="25.33" fill="#00f87b"/>
<rect x="1485.04" y="477.73" width="25.26" height="25.33" fill="#00f777"/>
<rect x="252.00" y="502.46" width="25.26" height="25.33" fill="#00caff"/>
<rect x="276.66" y="502.46" width="25.26" height="25.33" fill="#00a3ff"/>
<rect x="301.32" y="502.46" width="25.26" height="25.33" fill="#007eff"/>
<rect x="325.98" y="502.46" width="25.26" height="25.33" fill="#0058ff"/>
<rect x="350.64" y="502.46" width="25.26" height="25.33" fill="#0034ff"/>
<rect x="375.30" y="502.46" width="25.26" height="25.33" fill="#0010ff"/>
<rect x="399.96" y="502.46" width="25.26" height="25.33" fill="#0000eb"/>
<rect x="424.63" y="502.46" width="25.26" height="25.33" fill="#0000cb"/>
<rect x="449.29" y="502.46" width="25.26" height="25.33" fill="#0000b2"/>
<rect x="473.95" y="502.46" width="25.26" height="25.33" fill="#0000a2"/>
<rect x="498.61" y="502.46" width="25.26" height="25.33" fill="#000099"/>
<rect x="523.27" y="502.46" width="25.26" height="25.33" fill="#000095"/>
<rect x="547.93" y="502.46" width="25.26" height="25.33" fill="#000098"/>
<rect x="572.59" y="502.46" width="25.26" height="25.33" fill="#00009f"/>
<rect x="597.25" y="502.46" width="25.26" height="25.33" fill="#0000aa"/>
<rect x="621.91" y="502.46" width="25.26" height="25.33" fill="#0000b3"/>
<rect x="646.57" y="502.46" width="25.26" height="25.33" fill="#0000b6"/>
<rect x="671.23" y="502.46" width="25.26" height="25.33" fill="#0000b5"/>
<rect x="695.89" y="502.46" width="25.26" height="25.33" fill="#0000b0"/>
<rect x="720.55" y="502.46" width="25.26" height="25.33" fill="#0000a9"/>
<rect x="745.22" y="502.46" width="25.26" height="25.33" fill="#0000a0"/>
<rect x="769.88" y="502.46" width="25.26" height="25.33" fill="#000096"/>
<rect x="794.54" y="502.46" width="25.26" height="25.33" fill="#00008c"/>
<rect x="819.20" y="502.46" width="74.58" height="25.33" fill="#000087"/>
<rect x="893.18" y="502.46" width="25.26" height="25.33" fill="#000096"/>
<rect x="917.84" y="502.46" width="25.26" height="25.33" fill="#0000b3"/>
<rect x="942.50" y="502.46" width="25.26" height="25.33" fill="#0000ce"/>
<rect x="967.16" y="502.46" width="25.26" height="25.33" fill="#0000e5"/>
<rect x="991.82" y="502.46" width="25.26" height="25.33" fill="#0000fd"/>
<rect x="1016.48" y="502.46" width="25.26" height="25.33" fill="#001aff"/>
<rect x="1041.15" y="502.46" width="25.26" height="25.33" fill="#003aff"/>
<rect x="1065.81" y="502.46" width="25.26" height="25.33" fill="#005bff"/>
<rect x="1090.47" y="502.46" width="25.26" height="25.33" fill="#007cff"/>
<rect x="1115.13" y="502.46" width="25.26" height="25.33" fill="#009cff"/>
<rect x="1139.79" y="502.46" width="25.26" height="25.33" fill="#00bbff"/>
<rect x="1164.45" y="502.46" width="25.26" height="25.33" fill="#00d5ff"/>
<rect x="1189.11" y="502.46" width="25.26" height="25.33" fill="#00eaff"/>
<rect x="1213.77" y="502.46" width="25.26" height="25.33" fill="#00f5fa"/>
<rect x="1238.43" y="502.46" width="25.26" height="25.33" fill="#00f6ed"/>
<rect x="1263.09" y="502.46" width="25.26" height="25.33" fill="#00f7e4"/>
<rect x="1287.75" y="502.46" width="25.26" height="25.33" fill="#00f7dc"/>
<rect x="1312.41" y="502.46" width="25.26" height="25.33" fill="#00f7d2"/>
<rect x="1337.07" y="502.46" width="25.26" height="25.33" fill="#00f8c6"/>
<rect x="1361.74" y="502.46" width="25.26" height="25.33" fill="#00f9ba"/>
<rect x="1386.40" y="502.46" width="25.26" height="25.33" fill="#00f9af"/>
<rect x="1411.06" y="502.46" width="25.26" height="25.33" fill="#00faa6"/>
<rect x="1435.72" y="502.46" width="25.26" height="25.33" fill="#00fa9e"/>
<rect x="1460.38" y="502.46" width="25.26" height="25.33" fill="#00f997"/>
<rect x="1485.04" y="502.46" width="25.26" height="25.33" fill="#00f990"/>
<rect x="252.00" y="527.19" width="25.26" height="25.33" fill="#00d2ff"/>
<rect x="276.66" y="527.19" width="25.26" height="25.33" fill="#00a7ff"/>
<rect x="301.32" y="527.19" width="25.26" height="25.33" fill="#007fff"/>
<rect x="325.98" y="527.19" width="25.26" height="25.33" fill="#005aff"/>
<rect x="350.64" y="527.19" width="25.26" height="25.33" fill="#0037ff"/>
<rect x="375.30" y="527.19" width="25.26" height="25.33" fill="#0015ff"/>
<rect x="399.96" y="527.19" width="25.26" height="25.33" fill="#0000f3"/>
<rect x="424.63" y="527.19" width="25.26" height="25.33" fill="#0000d6"/>
<rect x="449.29" y="527.19" width="25.26" height="25.33" fill="#0000c0"/>
<rect x="473.95" y="527.19" width="25.26" height="25.33" fill="#0000b2"/>
<rect x="498.61" y="527.19" width="25.26" height="25.33" fill="#0000aa"/>
<rect x="523.27" y="527.19" width="25.26" height="25.33" fill="#0000a6"/>
<rect x="547.93" y="527.19" width="25.26" height="25.33" fill="#0000a8"/>
<rect x="572.59" y="527.19" width="25.26" height="25.33" fill="#0000ae"/>
<rect x="597.25" y="527.19" width="25.26" height="25.33" fill="#0000b7"/>
<rect x="621.91" y="527.19" width="25.26" height="25.33" fill="#0000bf"/>
<rect x="646.57" y="527.19" width="25.26" height="25.33" fill="#0000c2"/>
<rect x="671.23" y="527.19" width="25.26" height="25.33" fill="#0000bf"/>
<rect x="695.89" y="527.19" width="25.26" height="25.33" fill="#0000bb"/>
<rect x="720.55" y="527.19" width="25.26" height="25.33" fill="#0000b4"/>
<rect x="745.22" y="527.19" width="25.26" height="25.33" fill="#0000ad"/>
<rect x="769.88" y="527.19" width="25.26" height="25.33" fill="#0000a5"/>
<rect x="794.54" y="527.19" width="25.26" height="25.33" fill="#00009c"/>
<rect x="819.20" y="527.19" width="25.26" height="25.33" fill="#000091"/>
<rect x="843.86" y="527.19" width="25.26" height="25.33" fill="#000089"/>
<rect x="868.52" y="527.19" width="25.26" height="25.33" fill="#00008c"/>
<rect x="893.18" y="527.19" width="25.26" height="25.33" fill="#0000a2"/>
<rect x="917.84" y="527.19" width="25.26" height="25.33" fill="#0000c1"/>
<rect x="942.50" y="527.19" width="25.26" height="25.33" fill="#0000db"/>
<rect x="967.16" y="527.19" width="25.26" height="25.33" fill="#0000ed"/>
<rect x="991.82" y="527.19" width="25.26" height="25.33" fill="#0002ff"/>
<rect x="1016.48" y="527.19" width="25.26" height="25.33" fill="#001dff"/>
<rect x="1041.15" y="527.19" width="25.26" height="25.33" fill="#003dff"/>
<rect x="1065.81" y="527.19" width="25.26" height="25.33" fill="#005eff"/>
<rect x="1090.47" y="527.19" width="25.26" height="25.33" fill="#007fff"/>
<rect x="1115.13" y="527.19" width="25.26" height="25.33" fill="#009dff"/>
<rect x="1139.79" y="527.19" width="25.26" height="25.33" fill="#00baff"/>
<rect x="1164.45" y="527.19" width="25.26" height="25.33" fill="#00d3ff"/>
<rect x="1189.11" y="527.19" width="25.26" height="25.33" fill="#00e5ff"/>
<rect x="1213.77" y="527.19" width="25.26" height="25.33" fill="#00f0ff"/>
<rect x="1238.43" y="527.19" width="25.26" height="25.33" fill="#00f5fb"/>
<rect x="1263.09" y="527.19" width="25.26" height="25.33" fill="#00f6f3"/>
<rect x="1287.75" y="527.19" width="25.26" height="25.33" fill="#00f6ea"/>
<rect x="1312.41" y="527.19" width="25.26" height="25.33" fill="#00f7e0"/>
<rect x="1337.07" y="527.19" width="25.26" height="25.33" fill="#00f7d6"/>
<rect x="1361.74" y="527.19" width="25.26" height="25.33" fill="#00f8cc"/>
<rect x="1386.40" y="527.19" width="25.26" height="25.33" fill="#00f8c3"/>
<rect x="1411.06" y="527.19" width="25.26" height="25.33" fill="#00f9bc"/>
<rect x="1435.72" y="527.19" width="25.26" height="25.33" fill="#00f9b5"/>
<rect x="1460.38" y="527.19" width="25.26" height="25.33" fill="#00faac"/>
<rect x="1485.04" y="527.19" width="25.26" height="25.33" fill="#00faa2"/>
<rect x="252.00" y="551.92" width="25.26" height="25.33" fill="#00e3ff"/>
<rect x="276.66" y="551.92" width="25.26" height="25.33" fill="#00b2ff"/>
<rect x="301.32" y="551.92" width="25.26" height="25.33" fill="#0085ff"/>
<rect x="325.98" y="551.92" width="25.26" height="25.33" fill="#005cff"/>
<rect x="350.64" y="551.92" width="25.26" height="25.33" fill="#0037ff"/>
<rect x="375.30" y="551.92" width="25.26" height="25.33" fill="#0017ff"/>
<rect x="399.96" y="551.92" width="25.26" height="25.33" fill="#0000fb"/>
<rect x="424.63" y="551.92" width="25.26" height="25.33" fill="#0000e4"/>
<rect x="449.29" y="551.92" width="25.26" height="25.33" fill="#0000d3"/>
<rect x="473.95" y="551.92" width="25.26" height="25.33" fill="#0000c8"/>
<rect x="498.61" y="551.92" width="25.26" height="25.33" fill="#0000c1"/>
<rect x="523.27" y="551.92" width="25.26" height="25.33" fill="#0000be"/>
<rect x="547.93" y="551.92" width="25.26" height="25.33" fill="#0000c0"/>
<rect x="572.59" y="551.92" width="25.26" height="25.33" fill="#0000c5"/>
<rect x="597.25" y="551.92" width="25.26" height="25.33" fill="#0000cd"/>
<rect x="621.91" y="551.92" width="25.26" height="25.33" fill="#0000d3"/>
<rect x="646.57" y="551.92" width="25.26" height="25.33" fill="#0000d6"/>
<rect x="671.23" y="551.92" width="25.26" height="25.33" fill="#0000d4"/>
<rect x="695.89" y="551.92" width="25.26" height="25.33" fill="#0000d1"/>
<rect x="720.55" y="551.92" width="25.26" height="25.33" fill="#0000cc"/>
<rect x="745.22" y="551.92" width="25.26" height="25.33" fill="#0000c7"/>
<rect x="769.88" y="551.92" width="25.26" height="25.33" fill="#0000c2"/>
<rect x="794.54" y="551.92" width="25.26" height="25.33" fill="#0000bb"/>
<rect x="819.20" y="551.92" width="25.26" height="25.33" fill="#0000b1"/>
<rect x="843.86" y="551.92" width="25.26" height="25.33" fill="#0000a8"/>
<rect x="868.52" y="551.92" width="25.26" height="25.33" fill="#0000a9"/>
<rect x="893.18" y="551.92" width="25.26" height="25.33" fill="#0000bb"/>
<rect x="917.84" y="551.92" width="25.26" height="25.33" fill="#0000d4"/>
<rect x="942.50" y="551.92" width="25.26" height="25.33" fill="#0000e8"/>
<rect x="967.16" y="551.92" width="25.26" height="25.33" fill="#0000f5"/>
<rect x="991.82" y="551.92" width="25.26" height="25.33" fill="#0007ff"/>
<rect x="1016.48" y="551.92" width="25.26" height="25.33" fill="#0022ff"/>
<rect x="1041.15" y="551.92" width="25.26" height="25.33" fill="#0043ff"/>
<rect x="1065.81" y="551.92" width="25.26" height="25.33" fill="#0063ff"/>
<rect x="1090.47" y="551.92" width="25.26" height="25.33" fill="#007fff"/>
<rect x="1115.13" y="551.92" width="25.26" height="25.33" fill="#009aff"/>
<rect x="1139.79" y="551.92" width="25.26" height="25.33" fill="#00b5ff"/>
<rect x="1164.45" y="551.92" width="25.26" height="25.33" fill="#00cdff"/>
<rect x="1189.11" y="551.92" width="25.26" height="25.33" fill="#00dfff"/>
<rect x="1213.77" y="551.92" width="25.26" height="25.33" fill="#00e9ff"/>
<rect x="1238.43" y="551.92" width="25.26" height="25.33" fill="#00f0ff"/>
<rect x="1263.09" y="551.92" width="25.26" height="25.33" fill="#00f5fd"/>
<rect x="1287.75" y="551.92" width="25.26" height="25.33" fill="#00f6f5"/>
<rect x="1312.41" y="551.92" width="25.26" height="25.33" fill="#00f6ec"/>
<rect x="1337.07" y="551.92" width="25.26" height="25.33" fill="#00f7e2"/>
<rect x="1361.74" y="551.92" width="25.26" height="25.33" fill="#00f7d8"/>
<rect x="1386.40" y="551.92" width="25.26" height="25.33" fill="#00f8d0"/>
<rect x="1411.06" y="551.92" width="25.26" height="25.33" fill="#00f8c8"/>
<rect x="1435.72" y="551.92" width="25.26" height="25.33" fill="#00f8c0"/>
<rect x="1460.38" y="551.92" width="25.26" height="25.33" fill="#00f9b7"/>
<rect x="1485.04" y="551.92" width="25.26" height="25.33" fill="#00faac"/>
<rect x="252.00" y="576.65" width="25.26" height="25.33" fill="#00f6e9"/>
<rect x="276.66" y="576.65" width="25.26" height="25.33" fill="#00cfff"/>
<rect x="301.32" y="576.65" width="25.26" height="25.33" fill="#009aff"/>
<rect x="325.98" y="576.65" width="25.26" height="25.33" fill="#006bff"/>
<rect x="350.64" y="576.65" width="25.26" height="25.33" fill="#0041ff"/>
<rect x="375.30" y="576.65" width="25.26" height="25.33" fill="#0020ff"/>
<rect x="399.96" y="576.65" width="25.26" height="25.33" fill="#0007ff"/>
<rect x="424.63" y="576.65" width="25.26" height="25.33" fill="#0000f5"/>
<rect x="449.29" y="576.65" width="25.26" height="25.33" fill="#0000e9"/>
<rect x="473.95" y="576.65" width="25.26" height="25.33" fill="#0000e0"/>
<rect x="498.61" y="576.65" width="25.26" height="25.33" fill="#0000dc"/>
<rect x="523.27" y="576.65" width="25.26" height="25.33" fill="#0000db"/>
<rect x="547.93" y="576.65" width="25.26" height="25.33" fill="#0000dd"/>
<rect x="572.59" y="576.65" width="25.26" height="25.33" fill="#0000e2"/>
<rect x="597.25" y="576.65" width="25.26" height="25.33" fill="#0000e9"/>
<rect x="621.91" y="576.65" width="25.26" height="25.33" fill="#0000ee"/>
<rect x="646.57" y="576.65" width="49.92" height="25.33" fill="#0000f0"/>
<rect x="695.89" y="576.65" width="25.26" height="25.33" fill="#0000ed"/>
<rect x="720.55" y="576.65" width="25.26" height="25.33" fill="#0000e9"/>
<rect x="745.22" y="576.65" width="25.26" height="25.33" fill="#0000e5"/>
<rect x="769.88" y="576.65" width="25.26" height="25.33" fill="#0000e2"/>
<rect x="794.54" y="576.65" width="25.26" height="25.33" fill="#0000dd"/>
<rect x="819.20" y="576.65" width="25.26" height="25.33" fill="#0000d5"/>
<rect x="843.86" y="576.65" width="25.26" height="25.33" fill="#0000cd"/>
<rect x="868.52" y="576.65" width="25.26" height="25.33" fill="#0000cc"/>
<rect x="893.18" y="576.65" width="25.26" height="25.33" fill="#0000d6"/>
<rect x="917.84" y="576.65" width="25.26" height="25.33" fill="#0000e6"/>
<rect x="942.50" y="576.65" width="25.26" height="25.33" fill="#0000f3"/>
<rect x="967.16" y="576.65" width="25.26" height="25.33" fill="#0000fc"/>
<rect x="991.82" y="576.65" width="25.26" height="25.33" fill="#000dff"/>
<rect x="1016.48" y="576.65" width="25.26" height="25.33" fill="#0028ff"/>
<rect x="1041.15" y="576.65" width="25.26" height="25.33" fill="#0049ff"/>
<rect x="1065.81" y="576.65" width="25.26" height="25.33" fill="#0069ff"/>
<rect x="1090.47" y="576.65" width="25.26" height="25.33" fill="#0084ff"/>
<rect x="1115.13" y="576.65" width="25.26" height="25.33" fill="#009dff"/>
<rect x="1139.79" y="576.65" width="25.26" height="25.33" fill="#00b5ff"/>
<rect x="1164.45" y="576.65" width="25.26" height="25.33" fill="#00cbff"/>
<rect x="1189.11" y="576.65" width="25.26" height="25.33" fill="#00dcff"/>
<rect x="1213.77" y="576.65" width="25.26" height="25.33" fill="#00e6ff"/>
<rect x="1238.43" y="576.65" width="25.26" height="25.33" fill="#00edff"/>
<rect x="1263.09" y="576.65" width="25.26" height="25.33" fill="#00f2ff"/>
<rect x="1287.75" y="576.65" width="25.26" height="25.33" fill="#00f5fb"/>
<rect x="1312.41" y="576.65" width="25.26" height="25.33" fill="#00f6f2"/>
<rect x="1337.07" y="576.65" width="25.26" height="25.33" fill="#00f6e7"/>
<rect x="1361.74" y="576.65" width="25.26" height="25.33" fill="#00f7db"/>
<rect x="1386.40" y="576.65" width="25.26" height="25.33" fill="#00f8d2"/>
<rect x="1411.06" y="576.65" width="25.26" height="25.33" fill="#00f8c9"/>
<rect x="1435.72" y="576.65" width="25.26" height="25.33" fill="#00f8c1"/>
<rect x="1460.38" y="576.65" width="25.26" height="25.33" fill="#00f9b8"/>
<rect x="1485.04" y="576.65" width="25.26" height="25.33" fill="#00faae"/>
<rect x="252.00" y="601.38" width="25.26" height="25.33" fill="#00f999"/>
<rect x="276.66" y="601.38" width="25.26" height="25.33" fill="#00f7e3"/>
<rect x="301.32" y="601.38" width="25.26" height="25.33" fill="#00ceff"/>
<rect x="325.98" y="601.38" width="25.26" height="25.33" fill="#0095ff"/>
<rect x="350.64" y="601.38" width="25.26" height="25.33" fill="#0061ff"/>
<rect x="375.30" y="601.38" width="25.26" height="25.33" fill="#0038ff"/>
<rect x="399.96" y="601.38" width="25.26" height="25.33" fill="#001dff"/>
<rect x="424.63" y="601.38" width="25.26" height="25.33" fill="#000cff"/>
<rect x="449.29" y="601.38" width="25.26" height="25.33" fill="#0002ff"/>
<rect x="473.95" y="601.38" width="25.26" height="25.33" fill="#0000fb"/>
<rect x="498.61" y="601.38" width="25.26" height="25.33" fill="#0000f8"/>
<rect x="523.27" y="601.38" width="25.26" height="25.33" fill="#0000f9"/>
<rect x="547.93" y="601.38" width="25.26" height="25.33" fill="#0000fc"/>
<rect x="572.59" y="601.38" width="25.26" height="25.33" fill="#0003ff"/>
<rect x="597.25" y="601.38" width="25.26" height="25.33" fill="#0009ff"/>
<rect x="621.91" y="601.38" width="25.26" height="25.33" fill="#000eff"/>
<rect x="646.57" y="601.38" width="25.26" height="25.33" fill="#000fff"/>
<rect x="671.23" y="601.38" width="25.26" height="25.33" fill="#000dff"/>
<rect x="695.89" y="601.38" width="25.26" height="25.33" fill="#0009ff"/>
<rect x="720.55" y="601.38" width="25.26" height="25.33" fill="#0003ff"/>
<rect x="745.22" y="601.38" width="25.26" height="25.33" fill="#0000fc"/>
<rect x="769.88" y="601.38" width="25.26" height="25.33" fill="#0000f8"/>
<rect x="794.54" y="601.38" width="25.26" height="25.33" fill="#0000f4"/>
<rect x="819.20" y="601.38" width="25.26" height="25.33" fill="#0000ee"/>
<rect x="843.86" y="601.38" width="25.26" height="25.33" fill="#0000e7"/>
<rect x="868.52" y="601.38" width="25.26" height="25.33" fill="#0000e4"/>
<rect x="893.18" y="601.38" width="25.26" height="25.33" fill="#0000e9"/>
<rect x="917.84" y="601.38" width="25.26" height="25.33" fill="#0000f1"/>
<rect x="942.50" y="601.38" width="25.26" height="25.33" fill="#0000f9"/>
<rect x="967.16" y="601.38" width="25.26" height="25.33" fill="#0003ff"/>
<rect x="991.82" y="601.38" width="25.26" height="25.33" fill="#0013ff"/>
<rect x="1016.48" y="601.38" width="25.26" height="25.33" fill="#002dff"/>
<rect x="1041.15" y="601.38" width="25.26" height="25.33" fill="#004eff"/>
<rect x="1065.81" y="601.38" width="25.26" height="25.33" fill="#0072ff"/>
<rect x="1090.47" y="601.38" width="25.26" height="25.33" fill="#0094ff"/>
<rect x="1115.13" y="601.38" width="25.26" height="25.33" fill="#00b1ff"/>
<rect x="1139.79" y="601.38" width="25.26" height="25.33" fill="#00c7ff"/>
<rect x="1164.45" y="601.38" width="25.26" height="25.33" fill="#00d7ff"/>
<rect x="1189.11" y="601.38" width="25.26" height="25.33" fill="#00e1ff"/>
<rect x="1213.77" y="601.38" width="25.26" height="25.33" fill="#00e8ff"/>
<rect x="1238.43" y="601.38" width="25.26" height="25.33" fill="#00eeff"/>
<rect x="1263.09" y="601.38" width="25.26" height="25.33" fill="#00f4ff"/>
<rect x="1287.75" y="601.38" width="25.26" height="25.33" fill="#00f5f7"/>
<rect x="1312.41" y="601.38" width="25.26" height="25.33" fill="#00f6ec"/>
<rect x="1337.07" y="601.38" width="25.26" height="25.33" fill="#00f7df"/>
<rect x="1361.74" y="601.38" width="25.26" height="25.33" fill="#00f7d2"/>
<rect x="1386.40" y="601.38" width="25.26" height="25.33" fill="#00f8c8"/>
<rect x="1411.06" y="601.38" width="25.26" height="25.33" fill="#00f9bf"/>
<rect x="1435.72" y="601.38" width="25.26" height="25.33" fill="#00f9b7"/>
<rect x="1460.38" y="601.38" width="25.26" height="25.33" fill="#00f9b0"/>
<rect x="1485.04" y="601.38" width="25.26" height="25.33" fill="#00faa8"/>
<rect x="252.00" y="626.11" width="25.26" height="25.33" fill="#81ff2a"/>
<rect x="276.66" y="626.11" width="25.26" height="25.33" fill="#00f77a"/>
<rect x="301.32" y="626.11" width="25.26" height="25.33" fill="#00f8ca"/>
<rect x="325.98" y="626.11" width="25.26" height="25.33" fill="#00d9ff"/>
<rect x="350.64" y="626.11" width="25.26" height="25.33" fill="#0098ff"/>
<rect x="375.30" y="626.11" width="25.26" height="25.33" fill="#0063ff"/>
<rect x="399.96" y="626.11" width="25.26" height="25.33" fill="#003fff"/>
<rect x="424.63" y="626.11" width="25.26" height="25.33" fill="#002aff"/>
<rect x="449.29" y="626.11" width="25.26" height="25.33" fill="#001eff"/>
<rect x="473.95" y="626.11" width="25.26" height="25.33" fill="#0018ff"/>
<rect x="498.61" y="626.11" width="25.26" height="25.33" fill="#0016ff"/>
<rect x="523.27" y="626.11" width="25.26" height="25.33" fill="#0018ff"/>
<rect x="547.93" y="626.11" width="25.26" height="25.33" fill="#001dff"/>
<rect x="572.59" y="626.11" width="25.26" height="25.33" fill="#0025ff"/>
<rect x="597.25" y="626.11" width="25.26" height="25.33" fill="#002dff"/>
<rect x="621.91" y="626.11" width="49.92" height="25.33" fill="#0033ff"/>
<rect x="671.23" y="626.11" width="25.26" height="25.33" fill="#002eff"/>
<rect x="695.89" y="626.11" width="25.26" height="25.33" fill="#0026ff"/>
<rect x="720.55" y="626.11" width="25.26" height="25.33" fill="#001cff"/>
<rect x="745.22" y="626.11" width="25.26" height="25.33" fill="#0013ff"/>
<rect x="769.88" y="626.11" width="25.26" height="25.33" fill="#000cff"/>
<rect x="794.54" y="626.11" width="25.26" height="25.33" fill="#0005ff"/>
<rect x="819.20" y="626.11" width="25.26" height="25.33" fill="#0000fe"/>
<rect x="843.86" y="626.11" width="25.26" height="25.33" fill="#0000f8"/>
<rect x="868.52" y="626.11" width="49.92" height="25.33" fill="#0000f4"/>
<rect x="917.84" y="626.11" width="25.26" height="25.33" fill="#0000f8"/>
<rect x="942.50" y="626.11" width="25.26" height="25.33" fill="#0000ff"/>
<rect x="967.16" y="626.11" width="25.26" height="25.33" fill="#000bff"/>
<rect x="991.82" y="626.11" width="25.26" height="25.33" fill="#001cff"/>
<rect x="1016.48" y="626.11" width="25.26" height="25.33" fill="#0034ff"/>
<rect x="1041.15" y="626.11" width="25.26" height="25.33" fill="#0054ff"/>
<rect x="1065.81" y="626.11" width="25.26" height="25.33" fill="#0080ff"/>
<rect x="1090.47" y="626.11" width="25.26" height="25.33" fill="#00aeff"/>
<rect x="1115.13" y="626.11" width="25.26" height="25.33" fill="#00d4ff"/>
<rect x="1139.79" y="626.11" width="25.26" height="25.33" fill="#00e7ff"/>
<rect x="1164.45" y="626.11" width="25.26" height="25.33" fill="#00edff"/>
<rect x="1189.11" y="626.11" width="25.26" height="25.33" fill="#00eeff"/>
<rect x="1213.77" y="626.11" width="25.26" height="25.33" fill="#00efff"/>
<rect x="1238.43" y="626.11" width="25.26" height="25.33" fill="#00f3ff"/>
<rect x="1263.09" y="626.11" width="25.26" height="25.33" fill="#00f5fa"/>
<rect x="1287.75" y="626.11" width="25.26" height="25.33" fill="#00f6ef"/>
<rect x="1312.41" y="626.11" width="25.26" height="25.33" fill="#00f7e1"/>
<rect x="1337.07" y="626.11" width="25.26" height="25.33" fill="#00f7d3"/>
<rect x="1361.74" y="626.11" width="25.26" height="25.33" fill="#00f8c6"/>
<rect x="1386.40" y="626.11" width="25.26" height="25.33" fill="#00f9bc"/>
<rect x="1411.06" y="626.11" width="25.26" height="25.33" fill="#00f9b4"/>
<rect x="1435.72" y="626.11" width="25.26" height="25.33" fill="#00f9ae"/>
<rect x="1460.38" y="626.11" width="25.26" height="25.33" fill="#00faa8"/>
<rect x="1485.04" y="626.11" width="25.26" height="25.33" fill="#00faa3"/>
<rect x="252.00" y="650.84" width="25.26" height="25.33" fill="#e0ff00"/>
<rect x="276.66" y="650.84" width="25.26" height="25.33" fill="#90ff0c"/>
<rect x="301.32" y="650.84" width="25.26" height="25.33" fill="#00f663"/>
<rect x="325.98" y="650.84" width="25.26" height="25.33" fill="#00f9bd"/>
<rect x="350.64" y="650.84" width="25.26" height="25.33" fill="#00dcff"/>
<rect x="375.30" y="650.84" width="25.26" height="25.33" fill="#009cff"/>
<rect x="399.96" y="650.84" width="25.26" height="25.33" fill="#006fff"/>
<rect x="424.63" y="650.84" width="25.26" height="25.33" fill="#0052ff"/>
<rect x="449.29" y="650.84" width="25.26" height="25.33" fill="#0041ff"/>
<rect x="473.95" y="650.84" width="25.26" height="25.33" fill="#003aff"/>
<rect x="498.61" y="650.84" width="25.26" height="25.33" fill="#0039ff"/>
<rect x="523.27" y="650.84" width="25.26" height="25.33" fill="#003cff"/>
<rect x="547.93" y="650.84" width="25.26" height="25.33" fill="#0043ff"/>
<rect x="572.59" y="650.84" width="25.26" height="25.33" fill="#004fff"/>
<rect x="597.25" y="650.84" width="25.26" height="25.33" fill="#005cff"/>
<rect x="621.91" y="650.84" width="25.26" height="25.33" fill="#0065ff"/>
<rect x="646.57" y="650.84" width="25.26" height="25.33" fill="#0067ff"/>
<rect x="671.23" y="650.84" width="25.26" height="25.33" fill="#0061ff"/>
<rect x="695.89" y="650.84" width="25.26" height="25.33" fill="#0058ff"/>
<rect x="720.55" y="650.84" width="25.26" height="25.33" fill="#004bff"/>
<rect x="745.22" y="650.84" width="25.26" height="25.33" fill="#003eff"/>
<rect x="769.88" y="650.84" width="25.26" height="25.33" fill="#0031ff"/>
<rect x="794.54" y="650.84" width="25.26" height="25.33" fill="#0025ff"/>
<rect x="819.20" y="650.84" width="25.26" height="25.33" fill="#001aff"/>
<rect x="843.86" y="650.84" width="25.26" height="25.33" fill="#0011ff"/>
<rect x="868.52" y="650.84" width="25.26" height="25.33" fill="#000aff"/>
<rect x="893.18" y="650.84" width="25.26" height="25.33" fill="#0007ff"/>
<rect x="917.84" y="650.84" width="25.26" height="25.33" fill="#0008ff"/>
<rect x="942.50" y="650.84" width="25.26" height="25.33" fill="#000fff"/>
<rect x="967.16" y="650.84" width="25.26" height="25.33" fill="#001cff"/>
<rect x="991.82" y="650.84" width="25.26" height="25.33" fill="#002eff"/>
<rect x="1016.48" y="650.84" width="25.26" height="25.33" fill="#0046ff"/>
<rect x="1041.15" y="650.84" width="25.26" height="25.33" fill="#0066ff"/>
<rect x="1065.81" y="650.84" width="25.26" height="25.33" fill="#0095ff"/>
<rect x="1090.47" y="650.84" width="25.26" height="25.33" fill="#00cbff"/>
<rect x="1115.13" y="650.84" width="25.26" height="25.33" fill="#00f5ff"/>
<rect x="1139.79" y="650.84" width="25.26" height="25.33" fill="#00f6ec"/>
<rect x="1164.45" y="650.84" width="25.26" height="25.33" fill="#00f6f0"/>
<rect x="1189.11" y="650.84" width="25.26" height="25.33" fill="#00f5f9"/>
<rect x="1213.77" y="650.84" width="49.92" height="25.33" fill="#00f4ff"/>
<rect x="1263.09" y="650.84" width="25.26" height="25.33" fill="#00f5fb"/>
<rect x="1287.75" y="650.84" width="25.26" height="25.33" fill="#00f6f0"/>
<rect x="1312.41" y="650.84" width="25.26" height="25.33" fill="#00f6e4"/>
<rect x="1337.07" y="650.84" width="25.26" height="25.33" fill="#00f7d9"/>
<rect x="1361.74" y="650.84" width="25.26" height="25.33" fill="#00f8ce"/>
<rect x="1386.40" y="650.84" width="25.26" height="25.33" fill="#00f8c6"/>
<rect x="1411.06" y="650.84" width="25.26" height="25.33" fill="#00f9bf"/>
<rect x="1435.72" y="650.84" width="25.26" height="25.33" fill="#00f9b9"/>
<rect x="1460.38" y="650.84" width="25.26" height="25.33" fill="#00f9b4"/>
<rect x="1485.04" y="650.84" width="25.26" height="25.33" fill="#00f9af"/>
<rect x="252.00" y="675.56" width="25.26" height="25.33" fill="#ffbb00"/>
<rect x="276.66" y="675.56" width="25.26" height="25.33" fill="#fff800"/>
<rect x="301.32" y="675.56" width="25.26" height="25.33" fill="#94ff04"/>
<rect x="325.98" y="675.56" width="25.26" height="25.33" fill="#00f663"/>
<rect x="350.64" y="675.56" width="25.26" height="25.33" fill="#00f8c1"/>
<rect x="375.30" y="675.56" width="25.26" height="25.33" fill="#00dfff"/>
<rect x="399.96" y="675.56" width="25.26" height="25.33" fill="#00aaff"/>
<rect x="424.63" y="675.56" width="25.26" height="25.33" fill="#0086ff"/>
<rect x="449.29" y="675.56" width="25.26" height="25.33" fill="#0070ff"/>
<rect x="473.95" y="675.56" width="25.26" height="25.33" fill="#0065ff"/>
<rect x="498.61" y="675.56" width="25.26" height="25.33" fill="#0063ff"/>
<rect x="523.27" y="675.56" width="25.26" height="25.33" fill="#0067ff"/>
<rect x="547.93" y="675.56" width="25.26" height="25.33" fill="#0072ff"/>
<rect x="572.59" y="675.56" width="25.26" height="25.33" fill="#0082ff"/>
<rect x="597.25" y="675.56" width="25.26" height="25.33" fill="#0096ff"/>
<rect x="621.91" y="675.56" width="25.26" height="25.33" fill="#00a5ff"/>
<rect x="646.57" y="675.56" width="25.26" height="25.33" fill="#00acff"/>
<rect x="671.23" y="675.56" width="25.26" height="25.33" fill="#00abff"/>
<rect x="695.89" y="675.56" width="25.26" height="25.33" fill="#00a5ff"/>
<rect x="720.55" y="675.56" width="25.26" height="25.33" fill="#009aff"/>
<rect x="745.22" y="675.56" width="25.26" height="25.33" fill="#008aff"/>
<rect x="769.88" y="675.56" width="25.26" height="25.33" fill="#0076ff"/>
<rect x="794.54" y="675.56" width="25.26" height="25.33" fill="#0060ff"/>
<rect x="819.20" y="675.56" width="25.26" height="25.33" fill="#004cff"/>
<rect x="843.86" y="675.56" width="25.26" height="25.33" fill="#003cff"/>
<rect x="868.52" y="675.56" width="25.26" height="25.33" fill="#0030ff"/>
<rect x="893.18" y="675.56" width="25.26" height="25.33" fill="#0028ff"/>
<rect x="917.84" y="675.56" width="25.26" height="25.33" fill="#0027ff"/>
<rect x="942.50" y="675.56" width="25.26" height="25.33" fill="#002cff"/>
<rect x="967.16" y="675.56" width="25.26" height="25.33" fill="#0039ff"/>
<rect x="991.82" y="675.56" width="25.26" height="25.33" fill="#004cff"/>
<rect x="1016.48" y="675.56" width="25.26" height="25.33" fill="#0066ff"/>
<rect x="1041.15" y="675.56" width="25.26" height="25.33" fill="#0088ff"/>
<rect x="1065.81" y="675.56" width="25.26" height="25.33" fill="#00b4ff"/>
<rect x="1090.47" y="675.56" width="25.26" height="25.33" fill="#00e3ff"/>
<rect x="1115.13" y="675.56" width="25.26" height="25.33" fill="#00f6ea"/>
<rect x="1139.79" y="675.56" width="25.26" height="25.33" fill="#00f7dd"/>
<rect x="1164.45" y="675.56" width="25.26" height="25.33" fill="#00f6e6"/>
<rect x="1189.11" y="675.56" width="25.26" height="25.33" fill="#00f6f5"/>
<rect x="1213.77" y="675.56" width="25.26" height="25.33" fill="#00f4ff"/>
<rect x="1238.43" y="675.56" width="25.26" height="25.33" fill="#00eeff"/>
<rect x="1263.09" y="675.56" width="25.26" height="25.33" fill="#00edff"/>
<rect x="1287.75" y="675.56" width="25.26" height="25.33" fill="#00efff"/>
<rect x="1312.41" y="675.56" width="25.26" height="25.33" fill="#00f2ff"/>
<rect x="1337.07" y="675.56" width="25.26" height="25.33" fill="#00f5ff"/>
<rect x="1361.74" y="675.56" width="25.26" height="25.33" fill="#00f5fa"/>
<rect x="1386.40" y="675.56" width="25.26" height="25.33" fill="#00f6f4"/>
<rect x="1411.06" y="675.56" width="25.26" height="25.33" fill="#00f6ee"/>
<rect x="1435.72" y="675.56" width="25.26" height="25.33" fill="#00f6e7"/>
<rect x="1460.38" y="675.56" width="25.26" height="25.33" fill="#00f7e0"/>
<rect x="1485.04" y="675.56" width="25.26" height="25.33" fill="#00f7d9"/>
<rect x="252.00" y="700.29" width="25.26" height="25.33" fill="#ff7600"/>
<rect x="276.66" y="700.29" width="25.26" height="25.33" fill="#ffa500"/>
<rect x="301.32" y="700.29" width="25.26" height="25.33" fill="#fff800"/>
<rect x="325.98" y="700.29" width="25.26" height="25.33" fill="#90ff0d"/>
<rect x="350.64" y="700.29" width="25.26" height="25.33" fill="#00f76f"/>
<rect x="375.30" y="700.29" width="25.26" height="25.33" fill="#00f8c5"/>
<rect x="399.96" y="700.29" width="25.26" height="25.33" fill="#00e8ff"/>
<rect x="424.63" y="700.29" width="25.26" height="25.33" fill="#00beff"/>
<rect x="449.29" y="700.29" width="25.26" height="25.33" fill="#00a3ff"/>
<rect x="473.95" y="700.29" width="25.26" height="25.33" fill="#0095ff"/>
<rect x="498.61" y="700.29" width="25.26" height="25.33" fill="#0092ff"/>
<rect x="523.27" y="700.29" width="25.26" height="25.33" fill="#0097ff"/>
<rect x="547.93" y="700.29" width="25.26" height="25.33" fill="#00a4ff"/>
<rect x="572.59" y="700.29" width="25.26" height="25.33" fill="#00b9ff"/>
<rect x="597.25" y="700.29" width="25.26" height="25.33" fill="#00d3ff"/>
<rect x="621.91" y="700.29" width="25.26" height="25.33" fill="#00e9ff"/>
<rect x="646.57" y="700.29" width="25.26" height="25.33" fill="#00f5fe"/>
<rect x="671.23" y="700.29" width="25.26" height="25.33" fill="#00f5f9"/>
<rect x="695.89" y="700.29" width="25.26" height="25.33" fill="#00f5fe"/>
<rect x="720.55" y="700.29" width="25.26" height="25.33" fill="#00ebff"/>
<rect x="745.22" y="700.29" width="25.26" height="25.33" fill="#00d8ff"/>
<rect x="769.88" y="700.29" width="25.26" height="25.33" fill="#00bdff"/>
<rect x="794.54" y="700.29" width="25.26" height="25.33" fill="#009fff"/>
<rect x="819.20" y="700.29" width="25.26" height="25.33" fill="#0082ff"/>
<rect x="843.86" y="700.29" width="25.26" height="25.33" fill="#0069ff"/>
<rect x="868.52" y="700.29" width="25.26" height="25.33" fill="#0057ff"/>
<rect x="893.18" y="700.29" width="25.26" height="25.33" fill="#004cff"/>
<rect x="917.84" y="700.29" width="25.26" height="25.33" fill="#0049ff"/>
<rect x="942.50" y="700.29" width="25.26" height="25.33" fill="#004eff"/>
<rect x="967.16" y="700.29" width="25.26" height="25.33" fill="#005aff"/>
<rect x="991.82" y="700.29" width="25.26" height="25.33" fill="#006fff"/>
<rect x="1016.48" y="700.29" width="25.26" height="25.33" fill="#008cff"/>
<rect x="1041.15" y="700.29" width="25.26" height="25.33" fill="#00aeff"/>
<rect x="1065.81" y="700.29" width="25.26" height="25.33" fill="#00d1ff"/>
<rect x="1090.47" y="700.29" width="25.26" height="25.33" fill="#00f1ff"/>
<rect x="1115.13" y="700.29" width="25.26" height="25.33" fill="#00f6ea"/>
<rect x="1139.79" y="700.29" width="25.26" height="25.33" fill="#00f6e5"/>
<rect x="1164.45" y="700.29" width="25.26" height="25.33" fill="#00f6ef"/>
<rect x="1189.11" y="700.29" width="25.26" height="25.33" fill="#00f5ff"/>
<rect x="1213.77" y="700.29" width="25.26" height="25.33" fill="#00e9ff"/>
<rect x="1238.43" y="700.29" width="25.26" height="25.33" fill="#00deff"/>
<rect x="1263.09" y="700.29" width="25.26" height="25.33" fill="#00d6ff"/>
<rect x="1287.75" y="700.29" width="25.26" height="25.33" fill="#00d1ff"/>
<rect x="1312.41" y="700.29" width="25.26" height="25.33" fill="#00cdff"/>
<rect x="1337.07" y="700.29" width="49.92" height="25.33" fill="#00caff"/>
<rect x="1386.40" y="700.29" width="25.26" height="25.33" fill="#00ccff"/>
<rect x="1411.06" y="700.29" width="25.26" height="25.33" fill="#00d1ff"/>
<rect x="1435.72" y="700.29" width="25.26" height="25.33" fill="#00d8ff"/>
<rect x="1460.38" y="700.29" width="25.26" height="25.33" fill="#00dfff"/>
<rect x="1485.04" y="700.29" width="25.26" height="25.33" fill="#00e7ff"/>
<rect x="252.00" y="725.02" width="25.26" height="25.33" fill="#ff4500"/>
<rect x="276.66" y="725.02" width="25.26" height="25.33" fill="#ff6700"/>
<rect x="301.32" y="725.02" width="25.26" height="25.33" fill="#ffad00"/>
<rect x="325.98" y="725.02" width="25.26" height="25.33" fill="#e7ff00"/>
<rect x="350.64" y="725.02" width="25.26" height="25.33" fill="#86ff21"/>
<rect x="375.30" y="725.02" width="25.26" height="25.33" fill="#00f881"/>
<rect x="399.96" y="725.02" width="25.26" height="25.33" fill="#00f8cb"/>
<rect x="424.63" y="725.02" width="25.26" height="25.33" fill="#00f0ff"/>
<rect x="449.29" y="725.02" width="25.26" height="25.33" fill="#00d2ff"/>
<rect x="473.95" y="725.02" width="25.26" height="25.33" fill="#00c3ff"/>
<rect x="498.61" y="725.02" width="25.26" height="25.33" fill="#00c1ff"/>
<rect x="523.27" y="725.02" width="25.26" height="25.33" fill="#00c7ff"/>
<rect x="547.93" y="725.02" width="25.26" height="25.33" fill="#00d5ff"/>
<rect x="572.59" y="725.02" width="25.26" height="25.33" fill="#00edff"/>
<rect x="597.25" y="725.02" width="25.26" height="25.33" fill="#00f6e6"/>
<rect x="621.91" y="725.02" width="25.26" height="25.33" fill="#00f8c6"/>
<rect x="646.57" y="725.02" width="25.26" height="25.33" fill="#00f9b3"/>
<rect x="671.23" y="725.02" width="25.26" height="25.33" fill="#00f9ae"/>
<rect x="695.89" y="725.02" width="25.26" height="25.33" fill="#00f9b8"/>
<rect x="720.55" y="725.02" width="25.26" height="25.33" fill="#00f8cf"/>
<rect x="745.22" y="725.02" width="25.26" height="25.33" fill="#00f6f0"/>
<rect x="769.88" y="725.02" width="25.26" height="25.33" fill="#00e2ff"/>
<rect x="794.54" y="725.02" width="25.26" height="25.33" fill="#00c0ff"/>
<rect x="819.20" y="725.02" width="25.26" height="25.33" fill="#009fff"/>
<rect x="843.86" y="725.02" width="25.26" height="25.33" fill="#0083ff"/>
<rect x="868.52" y="725.02" width="25.26" height="25.33" fill="#006dff"/>
<rect x="893.18" y="725.02" width="25.26" height="25.33" fill="#0061ff"/>
<rect x="917.84" y="725.02" width="25.26" height="25.33" fill="#005eff"/>
<rect x="942.50" y="725.02" width="25.26" height="25.33" fill="#0065ff"/>
<rect x="967.16" y="725.02" width="25.26" height="25.33" fill="#0074ff"/>
<rect x="991.82" y="725.02" width="25.26" height="25.33" fill="#008aff"/>
<rect x="1016.48" y="725.02" width="25.26" height="25.33" fill="#00a8ff"/>
<rect x="1041.15" y="725.02" width="25.26" height="25.33" fill="#00c7ff"/>
<rect x="1065.81" y="725.02" width="25.26" height="25.33" fill="#00e1ff"/>
<rect x="1090.47" y="725.02" width="25.26" height="25.33" fill="#00f2ff"/>
<rect x="1115.13" y="725.02" width="25.26" height="25.33" fill="#00f5f8"/>
<rect x="1139.79" y="725.02" width="25.26" height="25.33" fill="#00f5fc"/>
<rect x="1164.45" y="725.02" width="25.26" height="25.33" fill="#00edff"/>
<rect x="1189.11" y="725.02" width="25.26" height="25.33" fill="#00dfff"/>
<rect x="1213.77" y="725.02" width="25.26" height="25.33" fill="#00d0ff"/>
<rect x="1238.43" y="725.02" width="25.26" height="25.33" fill="#00c3ff"/>
<rect x="1263.09" y="725.02" width="25.26" height="25.33" fill="#00b8ff"/>
<rect x="1287.75" y="725.02" width="25.26" height="25.33" fill="#00b0ff"/>
<rect x="1312.41" y="725.02" width="25.26" height="25.33" fill="#00a9ff"/>
<rect x="1337.07" y="725.02" width="25.26" height="25.33" fill="#00a4ff"/>
<rect x="1361.74" y="725.02" width="25.26" height="25.33" fill="#00a1ff"/>
<rect x="1386.40" y="725.02" width="25.26" height="25.33" fill="#00a3ff"/>
<rect x="1411.06" y="725.02" width="25.26" height="25.33" fill="#00a7ff"/>
<rect x="1435.72" y="725.02" width="25.26" height="25.33" fill="#00aeff"/>
<rect x="1460.38" y="725.02" width="25.26" height="25.33" fill="#00b7ff"/>
<rect x="1485.04" y="725.02" width="25.26" height="25.33" fill="#00c0ff"/>
<rect x="252.00" y="749.75" width="25.26" height="25.33" fill="#ff1000"/>
<rect x="276.66" y="749.75" width="25.26" height="25.33" fill="#ff3b00"/>
<rect x="301.32" y="749.75" width="25.26" height="25.33" fill="#ff7b00"/>
<rect x="325.98" y="749.75" width="25.26" height="25.33" fill="#ffce00"/>
<rect x="350.64" y="749.75" width="25.26" height="25.33" fill="#b0ff00"/>
<rect x="375.30" y="749.75" width="25.26" height="25.33" fill="#00f553"/>
<rect x="399.96" y="749.75" width="25.26" height="25.33" fill="#00f99b"/>
<rect x="424.63" y="749.75" width="25.26" height="25.33" fill="#00f7d6"/>
<rect x="449.29" y="749.75" width="25.26" height="25.33" fill="#00f4ff"/>
<rect x="473.95" y="749.75" width="25.26" height="25.33" fill="#00e4ff"/>
<rect x="498.61" y="749.75" width="25.26" height="25.33" fill="#00e2ff"/>
<rect x="523.27" y="749.75" width="25.26" height="25.33" fill="#00e7ff"/>
<rect x="547.93" y="749.75" width="25.26" height="25.33" fill="#00f5fb"/>
<rect x="572.59" y="749.75" width="25.26" height="25.33" fill="#00f7d9"/>
<rect x="597.25" y="749.75" width="25.26" height="25.33" fill="#00f9b2"/>
<rect x="621.91" y="749.75" width="25.26" height="25.33" fill="#00f99b"/>
<rect x="646.57" y="749.75" width="25.26" height="25.33" fill="#00f998"/>
<rect x="671.23" y="749.75" width="25.26" height="25.33" fill="#00f992"/>
<rect x="695.89" y="749.75" width="25.26" height="25.33" fill="#00faa6"/>
<rect x="720.55" y="749.75" width="25.26" height="25.33" fill="#00f8cc"/>
<rect x="745.22" y="749.75" width="25.26" height="25.33" fill="#00f6f3"/>
<rect x="769.88" y="749.75" width="25.26" height="25.33" fill="#00dcff"/>
<rect x="794.54" y="749.75" width="25.26" height="25.33" fill="#00bdff"/>
<rect x="819.20" y="749.75" width="25.26" height="25.33" fill="#009eff"/>
<rect x="843.86" y="749.75" width="25.26" height="25.33" fill="#0081ff"/>
<rect x="868.52" y="749.75" width="25.26" height="25.33" fill="#006cff"/>
<rect x="893.18" y="749.75" width="25.26" height="25.33" fill="#0062ff"/>
<rect x="917.84" y="749.75" width="25.26" height="25.33" fill="#0061ff"/>
<rect x="942.50" y="749.75" width="25.26" height="25.33" fill="#006bff"/>
<rect x="967.16" y="749.75" width="25.26" height="25.33" fill="#0082ff"/>
<rect x="991.82" y="749.75" width="25.26" height="25.33" fill="#009dff"/>
<rect x="1016.48" y="749.75" width="25.26" height="25.33" fill="#00b9ff"/>
<rect x="1041.15" y="749.75" width="25.26" height="25.33" fill="#00d0ff"/>
<rect x="1065.81" y="749.75" width="25.26" height="25.33" fill="#00e0ff"/>
<rect x="1090.47" y="749.75" width="25.26" height="25.33" fill="#00e6ff"/>
<rect x="1115.13" y="749.75" width="25.26" height="25.33" fill="#00e4ff"/>
<rect x="1139.79" y="749.75" width="25.26" height="25.33" fill="#00dbff"/>
<rect x="1164.45" y="749.75" width="25.26" height="25.33" fill="#00cdff"/>
<rect x="1189.11" y="749.75" width="25.26" height="25.33" fill="#00bdff"/>
<rect x="1213.77" y="749.75" width="25.26" height="25.33" fill="#00adff"/>
<rect x="1238.43" y="749.75" width="25.26" height="25.33" fill="#00a0ff"/>
<rect x="1263.09" y="749.75" width="25.26" height="25.33" fill="#0097ff"/>
<rect x="1287.75" y="749.75" width="25.26" height="25.33" fill="#0091ff"/>
<rect x="1312.41" y="749.75" width="25.26" height="25.33" fill="#008eff"/>
<rect x="1337.07" y="749.75" width="25.26" height="25.33" fill="#008cff"/>
<rect x="1361.74" y="749.75" width="25.26" height="25.33" fill="#008bff"/>
<rect x="1386.40" y="749.75" width="25.26" height="25.33" fill="#008cff"/>
<rect x="1411.06" y="749.75" width="25.26" height="25.33" fill="#008fff"/>
<rect x="1435.72" y="749.75" width="25.26" height="25.33" fill="#0094ff"/>
<rect x="1460.38" y="749.75" width="25.26" height="25.33" fill="#009bff"/>
<rect x="1485.04" y="749.75" width="25.26" height="25.33" fill="#00a3ff"/>
<rect x="252.00" y="774.48" width="25.26" height="25.33" fill="#e30000"/>
<rect x="276.66" y="774.48" width="25.26" height="25.33" fill="#ff1400"/>
<rect x="301.32" y="774.48" width="25.26" height="25.33" fill="#ff5a00"/>
<rect x="325.98" y="774.48" width="25.26" height="25.33" fill="#ffb600"/>
<rect x="350.64" y="774.48" width="25.26" height="25.33" fill="#d4ff00"/>
<rect x="375.30" y="774.48" width="25.26" height="25.33" fill="#88ff1d"/>
<rect x="399.96" y="774.48" width="25.26" height="25.33" fill="#00f666"/>
<rect x="424.63" y="774.48" width="25.26" height="25.33" fill="#00faa5"/>
<rect x="449.29" y="774.48" width="25.26" height="25.33" fill="#00f8d0"/>
<rect x="473.95" y="774.48" width="25.26" height="25.33" fill="#00f7d9"/>
<rect x="498.61" y="774.48" width="25.26" height="25.33" fill="#00f7db"/>
<rect x="523.27" y="774.48" width="25.26" height="25.33" fill="#00f7d7"/>
<rect x="547.93" y="774.48" width="25.26" height="25.33" fill="#00f8c9"/>
<rect x="572.59" y="774.48" width="25.26" height="25.33" fill="#00faa1"/>
<rect x="597.25" y="774.48" width="25.26" height="25.33" fill="#00f779"/>
<rect x="621.91" y="774.48" width="25.26" height="25.33" fill="#00f76c"/>
<rect x="646.57" y="774.48" width="25.26" height="25.33" fill="#00f664"/>
<rect x="671.23" y="774.48" width="25.26" height="25.33" fill="#00f668"/>
<rect x="695.89" y="774.48" width="25.26" height="25.33" fill="#00f884"/>
<rect x="720.55" y="774.48" width="25.26" height="25.33" fill="#00f9b7"/>
<rect x="745.22" y="774.48" width="25.26" height="25.33" fill="#00f6ec"/>
<rect x="769.88" y="774.48" width="25.26" height="25.33" fill="#00e1ff"/>
<rect x="794.54" y="774.48" width="25.26" height="25.33" fill="#00beff"/>
<rect x="819.20" y="774.48" width="25.26" height="25.33" fill="#009fff"/>
<rect x="843.86" y="774.48" width="25.26" height="25.33" fill="#0082ff"/>
<rect x="868.52" y="774.48" width="25.26" height="25.33" fill="#006eff"/>
<rect x="893.18" y="774.48" width="49.92" height="25.33" fill="#0066ff"/>
<rect x="942.50" y="774.48" width="25.26" height="25.33" fill="#0070ff"/>
<rect x="967.16" y="774.48" width="25.26" height="25.33" fill="#0087ff"/>
<rect x="991.82" y="774.48" width="25.26" height="25.33" fill="#00a4ff"/>
<rect x="1016.48" y="774.48" width="25.26" height="25.33" fill="#00bdff"/>
<rect x="1041.15" y="774.48" width="25.26" height="25.33" fill="#00cdff"/>
<rect x="1065.81" y="774.48" width="25.26" height="25.33" fill="#00daff"/>
<rect x="1090.47" y="774.48" width="25.26" height="25.33" fill="#00dcff"/>
<rect x="1115.13" y="774.48" width="25.26" height="25.33" fill="#00d7ff"/>
<rect x="1139.79" y="774.48" width="25.26" height="25.33" fill="#00c8ff"/>
<rect x="1164.45" y="774.48" width="25.26" height="25.33" fill="#00b4ff"/>
<rect x="1189.11" y="774.48" width="25.26" height="25.33" fill="#009fff"/>
<rect x="1213.77" y="774.48" width="25.26" height="25.33" fill="#008cff"/>
<rect x="1238.43" y="774.48" width="25.26" height="25.33" fill="#007eff"/>
<rect x="1263.09" y="774.48" width="25.26" height="25.33" fill="#0074ff"/>
<rect x="1287.75" y="774.48" width="25.26" height="25.33" fill="#006fff"/>
<rect x="1312.41" y="774.48" width="74.58" height="25.33" fill="#006eff"/>
<rect x="1386.40" y="774.48" width="25.26" height="25.33" fill="#006fff"/>
<rect x="1411.06" y="774.48" width="25.26" height="25.33" fill="#0074ff"/>
<rect x="1435.72" y="774.48" width="25.26" height="25.33" fill="#0079ff"/>
<rect x="1460.38" y="774.48" width="25.26" height="25.33" fill="#0081ff"/>
<rect x="1485.04" y="774.48" width="25.26" height="25.33" fill="#008bff"/>
<rect x="252.00" y="799.21" width="25.26" height="25.33" fill="#d00000"/>
<rect x="276.66" y="799.21" width="25.26" height="25.33" fill="#f40000"/>
<rect x="301.32" y="799.21" width="25.26" height="25.33" fill="#ff3600"/>
<rect x="325.98" y="799.21" width="25.26" height="25.33" fill="#ff9700"/>
<rect x="350.64" y="799.21" width="25.26" height="25.33" fill="#ffed00"/>
<rect x="375.30" y="799.21" width="25.26" height="25.33" fill="#a8ff00"/>
<rect x="399.96" y="799.21" width="25.26" height="25.33" fill="#00f553"/>
<rect x="424.63" y="799.21" width="25.26" height="25.33" fill="#00f883"/>
<rect x="449.29" y="799.21" width="25.26" height="25.33" fill="#00f9b2"/>
<rect x="473.95" y="799.21" width="25.26" height="25.33" fill="#00f9b8"/>
<rect x="498.61" y="799.21" width="25.26" height="25.33" fill="#00f9bb"/>
<rect x="523.27" y="799.21" width="25.26" height="25.33" fill="#00f9b8"/>
<rect x="547.93" y="799.21" width="25.26" height="25.33" fill="#00f9b2"/>
<rect x="572.59" y="799.21" width="25.26" height="25.33" fill="#00f883"/>
<rect x="597.25" y="799.21" width="25.26" height="25.33" fill="#00f65f"/>
<rect x="621.91" y="799.21" width="25.26" height="25.33" fill="#00f553"/>
<rect x="646.57" y="799.21" width="25.26" height="25.33" fill="#7dff33"/>
<rect x="671.23" y="799.21" width="49.92" height="25.33" fill="#7dff32"/>
<rect x="720.55" y="799.21" width="25.26" height="25.33" fill="#00f76a"/>
<rect x="745.22" y="799.21" width="25.26" height="25.33" fill="#00f9af"/>
<rect x="769.88" y="799.21" width="25.26" height="25.33" fill="#00f7df"/>
<rect x="794.54" y="799.21" width="25.26" height="25.33" fill="#00d9ff"/>
<rect x="819.20" y="799.21" width="25.26" height="25.33" fill="#00a9ff"/>
<rect x="843.86" y="799.21" width="25.26" height="25.33" fill="#008bff"/>
<rect x="868.52" y="799.21" width="25.26" height="25.33" fill="#0077ff"/>
<rect x="893.18" y="799.21" width="49.92" height="25.33" fill="#0072ff"/>
<rect x="942.50" y="799.21" width="25.26" height="25.33" fill="#0077ff"/>
<rect x="967.16" y="799.21" width="25.26" height="25.33" fill="#008bff"/>
<rect x="991.82" y="799.21" width="25.26" height="25.33" fill="#00a4ff"/>
<rect x="1016.48" y="799.21" width="25.26" height="25.33" fill="#00b8ff"/>
<rect x="1041.15" y="799.21" width="25.26" height="25.33" fill="#00c8ff"/>
<rect x="1065.81" y="799.21" width="49.92" height="25.33" fill="#00d4ff"/>
<rect x="1115.13" y="799.21" width="25.26" height="25.33" fill="#00ccff"/>
<rect x="1139.79" y="799.21" width="25.26" height="25.33" fill="#00b8ff"/>
<rect x="1164.45" y="799.21" width="25.26" height="25.33" fill="#009fff"/>
<rect x="1189.11" y="799.21" width="25.26" height="25.33" fill="#0086ff"/>
<rect x="1213.77" y="799.21" width="25.26" height="25.33" fill="#0074ff"/>
<rect x="1238.43" y="799.21" width="25.26" height="25.33" fill="#0065ff"/>
<rect x="1263.09" y="799.21" width="25.26" height="25.33" fill="#0058ff"/>
<rect x="1287.75" y="799.21" width="25.26" height="25.33" fill="#004fff"/>
<rect x="1312.41" y="799.21" width="99.24" height="25.33" fill="#004dff"/>
<rect x="1411.06" y="799.21" width="25.26" height="25.33" fill="#0053ff"/>
<rect x="1435.72" y="799.21" width="25.26" height="25.33" fill="#005dff"/>
<rect x="1460.38" y="799.21" width="25.26" height="25.33" fill="#0065ff"/>
<rect x="1485.04" y="799.21" width="25.26" height="25.33" fill="#006eff"/>
<rect x="252.00" y="823.94" width="25.26" height="25.33" fill="#a90000"/>
<rect x="276.66" y="823.94" width="25.26" height="25.33" fill="#e30000"/>
<rect x="301.32" y="823.94" width="25.26" height="25.33" fill="#ff1900"/>
<rect x="325.98" y="823.94" width="25.26" height="25.33" fill="#ff7600"/>
<rect x="350.64" y="823.94" width="25.26" height="25.33" fill="#ffd900"/>
<rect x="375.30" y="823.94" width="25.26" height="25.33" fill="#bfff00"/>
<rect x="399.96" y="823.94" width="25.26" height="25.33" fill="#7eff30"/>
<rect x="424.63" y="823.94" width="25.26" height="25.33" fill="#00f667"/>
<rect x="449.29" y="823.94" width="25.26" height="25.33" fill="#00f997"/>
<rect x="473.95" y="823.94" width="25.26" height="25.33" fill="#00fa9f"/>
<rect x="498.61" y="823.94" width="25.26" height="25.33" fill="#00faa2"/>
<rect x="523.27" y="823.94" width="25.26" height="25.33" fill="#00fa9f"/>
<rect x="547.93" y="823.94" width="25.26" height="25.33" fill="#00f997"/>
<rect x="572.59" y="823.94" width="25.26" height="25.33" fill="#00f667"/>
<rect x="597.25" y="823.94" width="25.26" height="25.33" fill="#00f553"/>
<rect x="621.91" y="823.94" width="25.26" height="25.33" fill="#84ff24"/>
<rect x="646.57" y="823.94" width="25.26" height="25.33" fill="#8dff12"/>
<rect x="671.23" y="823.94" width="25.26" height="25.33" fill="#88ff1c"/>
<rect x="695.89" y="823.94" width="25.26" height="25.33" fill="#80ff2c"/>
<rect x="720.55" y="823.94" width="25.26" height="25.33" fill="#78ff3c"/>
<rect x="745.22" y="823.94" width="25.26" height="25.33" fill="#00f992"/>
<rect x="769.88" y="823.94" width="25.26" height="25.33" fill="#00f8cf"/>
<rect x="794.54" y="823.94" width="25.26" height="25.33" fill="#00e3ff"/>
<rect x="819.20" y="823.94" width="25.26" height="25.33" fill="#00b3ff"/>
<rect x="843.86" y="823.94" width="25.26" height="25.33" fill="#0095ff"/>
<rect x="868.52" y="823.94" width="25.26" height="25.33" fill="#0081ff"/>
<rect x="893.18" y="823.94" width="49.92" height="25.33" fill="#007cff"/>
<rect x="942.50" y="823.94" width="25.26" height="25.33" fill="#0081ff"/>
<rect x="967.16" y="823.94" width="25.26" height="25.33" fill="#0090ff"/>
<rect x="991.82" y="823.94" width="25.26" height="25.33" fill="#00a4ff"/>
<rect x="1016.48" y="823.94" width="25.26" height="25.33" fill="#00b8ff"/>
<rect x="1041.15" y="823.94" width="25.26" height="25.33" fill="#00c8ff"/>
<rect x="1065.81" y="823.94" width="25.26" height="25.33" fill="#00d0ff"/>
<rect x="1090.47" y="823.94" width="25.26" height="25.33" fill="#00cfff"/>
<rect x="1115.13" y="823.94" width="25.26" height="25.33" fill="#00c2ff"/>
<rect x="1139.79" y="823.94" width="25.26" height="25.33" fill="#00a9ff"/>
<rect x="1164.45" y="823.94" width="25.26" height="25.33" fill="#0090ff"/>
<rect x="1189.11" y="823.94" width="25.26" height="25.33" fill="#0077ff"/>
<rect x="1213.77" y="823.94" width="25.26" height="25.33" fill="#0060ff"/>
<rect x="1238.43" y="823.94" width="25.26" height="25.33" fill="#004dff"/>
<rect x="1263.09" y="823.94" width="25.26" height="25.33" fill="#003eff"/>
<rect x="1287.75" y="823.94" width="25.26" height="25.33" fill="#0036ff"/>
<rect x="1312.41" y="823.94" width="99.24" height="25.33" fill="#0034ff"/>
<rect x="1411.06" y="823.94" width="25.26" height="25.33" fill="#0039ff"/>
<rect x="1435.72" y="823.94" width="25.26" height="25.33" fill="#0043ff"/>
<rect x="1460.38" y="823.94" width="25.26" height="25.33" fill="#0053ff"/>
<rect x="1485.04" y="823.94" width="25.26" height="25.33" fill="#005dff"/>
<rect x="252.00" y="848.67" width="25.26" height="25.33" fill="#9d0000"/>
<rect x="276.66" y="848.67" width="25.26" height="25.33" fill="#d80000"/>
<rect x="301.32" y="848.67" width="25.26" height="25.33" fill="#ff0f00"/>
<rect x="325.98" y="848.67" width="25.26" height="25.33" fill="#ff6c00"/>
<rect x="350.64" y="848.67" width="25.26" height="25.33" fill="#ffce00"/>
<rect x="375.30" y="848.67" width="25.26" height="25.33" fill="#caff00"/>
<rect x="399.96" y="848.67" width="25.26" height="25.33" fill="#83ff26"/>
<rect x="424.63" y="848.67" width="25.26" height="25.33" fill="#00f661"/>
<rect x="449.29" y="848.67" width="25.26" height="25.33" fill="#00f885"/>
<rect x="473.95" y="848.67" width="25.26" height="25.33" fill="#00f991"/>
<rect x="498.61" y="848.67" width="25.26" height="25.33" fill="#00f994"/>
<rect x="523.27" y="848.67" width="25.26" height="25.33" fill="#00f991"/>
<rect x="547.93" y="848.67" width="25.26" height="25.33" fill="#00f885"/>
<rect x="572.59" y="848.67" width="25.26" height="25.33" fill="#00f661"/>
<rect x="597.25" y="848.67" width="25.26" height="25.33" fill="#7eff30"/>
<rect x="621.91" y="848.67" width="25.26" height="25.33" fill="#92ff08"/>
<rect x="646.57" y="848.67" width="25.26" height="25.33" fill="#a4ff00"/>
<rect x="671.23" y="848.67" width="25.26" height="25.33" fill="#9aff00"/>
<rect x="695.89" y="848.67" width="25.26" height="25.33" fill="#8dff11"/>
<rect x="720.55" y="848.67" width="25.26" height="25.33" fill="#7eff30"/>
<rect x="745.22" y="848.67" width="25.26" height="25.33" fill="#00f76a"/>
<rect x="769.88" y="848.67" width="25.26" height="25.33" fill="#00f9af"/>
<rect x="794.54" y="848.67" width="25.26" height="25.33" fill="#00f5fc"/>
<rect x="819.20" y="848.67" width="25.26" height="25.33" fill="#00beff"/>
<rect x="843.86" y="848.67" width="25.26" height="25.33" fill="#009fff"/>
<rect x="868.52" y="848.67" width="25.26" height="25.33" fill="#008bff"/>
<rect x="893.18" y="848.67" width="49.92" height="25.33" fill="#0086ff"/>
<rect x="942.50" y="848.67" width="25.26" height="25.33" fill="#008bff"/>
<rect x="967.16" y="848.67" width="25.26" height="25.33" fill="#0095ff"/>
<rect x="991.82" y="848.67" width="25.26" height="25.33" fill="#00a9ff"/>
<rect x="1016.48" y="848.67" width="25.26" height="25.33" fill="#00b8ff"/>
<rect x="1041.15" y="848.67" width="25.26" height="25.33" fill="#00c8ff"/>
<rect x="1065.81" y="848.67" width="25.26" height="25.33" fill="#00d0ff"/>
<rect x="1090.47" y="848.67" width="25.26" height="25.33" fill="#00ccff"/>
<rect x="1115.13" y="848.67" width="25.26" height="25.33" fill="#00beff"/>
<rect x="1139.79" y="848.67" width="25.26" height="25.33" fill="#00a4ff"/>
<rect x="1164.45" y="848.67" width="25.26" height="25.33" fill="#008bff"/>
<rect x="1189.11" y="848.67" width="25.26" height="25.33" fill="#006eff"/>
<rect x="1213.77" y="848.67" width="25.26" height="25.33" fill="#0058ff"/>
<rect x="1238.43" y="848.67" width="25.26" height="25.33" fill="#003eff"/>
<rect x="1263.09" y="848.67" width="25.26" height="25.33" fill="#002eff"/>
<rect x="1287.75" y="848.67" width="25.26" height="25.33" fill="#0024ff"/>
<rect x="1312.41" y="848.67" width="99.24" height="25.33" fill="#001fff"/>
<rect x="1411.06" y="848.67" width="25.26" height="25.33" fill="#0024ff"/>
<rect x="1435.72" y="848.67" width="25.26" height="25.33" fill="#002eff"/>
<rect x="1460.38" y="848.67" width="25.26" height="25.33" fill="#003eff"/>
<rect x="1485.04" y="848.67" width="25.26" height="25.33" fill="#004dff"/>
<rect x="252.00" y="873.40" width="25.26" height="25.33" fill="#9d0000"/>
<rect x="276.66" y="873.40" width="25.26" height="25.33" fill="#d80000"/>
<rect x="301.32" y="873.40" width="25.26" height="25.33" fill="#ff0f00"/>
<rect x="325.98" y="873.40" width="25.26" height="25.33" fill="#ff6c00"/>
<rect x="350.64" y="873.40" width="25.26" height="25.33" fill="#ffcb00"/>
<rect x="375.30" y="873.40" width="25.26" height="25.33" fill="#cdff00"/>
<rect x="399.96" y="873.40" width="25.26" height="25.33" fill="#83ff26"/>
<rect x="424.63" y="873.40" width="25.26" height="25.33" fill="#00f661"/>
<rect x="449.29" y="873.40" width="25.26" height="25.33" fill="#00f883"/>
<rect x="473.95" y="873.40" width="25.26" height="25.33" fill="#00f98c"/>
<rect x="498.61" y="873.40" width="25.26" height="25.33" fill="#00f98e"/>
<rect x="523.27" y="873.40" width="25.26" height="25.33" fill="#00f98c"/>
<rect x="547.93" y="873.40" width="25.26" height="25.33" fill="#00f881"/>
<rect x="572.59" y="873.40" width="25.26" height="25.33" fill="#00f556"/>
<rect x="597.25" y="873.40" width="25.26" height="25.33" fill="#83ff26"/>
<rect x="621.91" y="873.40" width="25.26" height="25.33" fill="#9cff00"/>
<rect x="646.57" y="873.40" width="25.26" height="25.33" fill="#beff00"/>
<rect x="671.23" y="873.40" width="25.26" height="25.33" fill="#b8ff00"/>
<rect x="695.89" y="873.40" width="25.26" height="25.33" fill="#9aff00"/>
<rect x="720.55" y="873.40" width="25.26" height="25.33" fill="#82ff28"/>
<rect x="745.22" y="873.40" width="25.26" height="25.33" fill="#00f553"/>
<rect x="769.88" y="873.40" width="25.26" height="25.33" fill="#00fa9d"/>
<rect x="794.54" y="873.40" width="25.26" height="25.33" fill="#00f6e7"/>
<rect x="819.20" y="873.40" width="25.26" height="25.33" fill="#00c8ff"/>
<rect x="843.86" y="873.40" width="25.26" height="25.33" fill="#00a9ff"/>
<rect x="868.52" y="873.40" width="25.26" height="25.33" fill="#0095ff"/>
<rect x="893.18" y="873.40" width="49.92" height="25.33" fill="#0090ff"/>
<rect x="942.50" y="873.40" width="25.26" height="25.33" fill="#0095ff"/>
<rect x="967.16" y="873.40" width="25.26" height="25.33" fill="#009fff"/>
<rect x="991.82" y="873.40" width="25.26" height="25.33" fill="#00aeff"/>
<rect x="1016.48" y="873.40" width="25.26" height="25.33" fill="#00beff"/>
<rect x="1041.15" y="873.40" width="25.26" height="25.33" fill="#00cdff"/>
<rect x="1065.81" y="873.40" width="25.26" height="25.33" fill="#00d3ff"/>
<rect x="1090.47" y="873.40" width="25.26" height="25.33" fill="#00ccff"/>
<rect x="1115.13" y="873.40" width="25.26" height="25.33" fill="#00bbff"/>
<rect x="1139.79" y="873.40" width="25.26" height="25.33" fill="#00a2ff"/>
<rect x="1164.45" y="873.40" width="25.26" height="25.33" fill="#0086ff"/>
<rect x="1189.11" y="873.40" width="25.26" height="25.33" fill="#0069ff"/>
<rect x="1213.77" y="873.40" width="25.26" height="25.33" fill="#0051ff"/>
<rect x="1238.43" y="873.40" width="25.26" height="25.33" fill="#0039ff"/>
<rect x="1263.09" y="873.40" width="25.26" height="25.33" fill="#0027ff"/>
<rect x="1287.75" y="873.40" width="25.26" height="25.33" fill="#001aff"/>
<rect x="1312.41" y="873.40" width="99.24" height="25.33" fill="#0012ff"/>
<rect x="1411.06" y="873.40" width="25.26" height="25.33" fill="#0017ff"/>
<rect x="1435.72" y="873.40" width="25.26" height="25.33" fill="#0024ff"/>
<rect x="1460.38" y="873.40" width="25.26" height="25.33" fill="#0036ff"/>
<rect x="1485.04" y="873.40" width="25.26" height="25.33" fill="#0046ff"/>
<rect x="252.00" y="898.13" width="25.26" height="25.33" fill="#ae0000"/>
<rect x="276.66" y="898.13" width="25.26" height="25.33" fill="#e90000"/>
<rect x="301.32" y="898.13" width="25.26" height="25.33" fill="#ff2200"/>
<rect x="325.98" y="898.13" width="25.26" height="25.33" fill="#ff7600"/>
<rect x="350.64" y="898.13" width="25.26" height="25.33" fill="#ffd900"/>
<rect x="375.30" y="898.13" width="25.26" height="25.33" fill="#caff00"/>
<rect x="399.96" y="898.13" width="25.26" height="25.33" fill="#83ff26"/>
<rect x="424.63" y="898.13" width="25.26" height="25.33" fill="#00f661"/>
<rect x="449.29" y="898.13" width="25.26" height="25.33" fill="#00f883"/>
<rect x="473.95" y="898.13" width="25.26" height="25.33" fill="#00f98c"/>
<rect x="498.61" y="898.13" width="25.26" height="25.33" fill="#00f98e"/>
<rect x="523.27" y="898.13" width="25.26" height="25.33" fill="#00f88a"/>
<rect x="547.93" y="898.13" width="25.26" height="25.33" fill="#00f87d"/>
<rect x="572.59" y="898.13" width="25.26" height="25.33" fill="#7cff34"/>
<rect x="597.25" y="898.13" width="25.26" height="25.33" fill="#8cff13"/>
<rect x="621.91" y="898.13" width="25.26" height="25.33" fill="#a8ff00"/>
<rect x="646.57" y="898.13" width="49.92" height="25.33" fill="#d3ff00"/>
<rect x="695.89" y="898.13" width="25.26" height="25.33" fill="#b5ff00"/>
<rect x="720.55" y="898.13" width="25.26" height="25.33" fill="#8bff16"/>
<rect x="745.22" y="898.13" width="25.26" height="25.33" fill="#82ff28"/>
<rect x="769.88" y="898.13" width="25.26" height="25.33" fill="#00f775"/>
<rect x="794.54" y="898.13" width="25.26" height="25.33" fill="#00f8c9"/>
<rect x="819.20" y="898.13" width="25.26" height="25.33" fill="#00dcff"/>
<rect x="843.86" y="898.13" width="25.26" height="25.33" fill="#00b8ff"/>
<rect x="868.52" y="898.13" width="25.26" height="25.33" fill="#00a4ff"/>
<rect x="893.18" y="898.13" width="49.92" height="25.33" fill="#009fff"/>
<rect x="942.50" y="898.13" width="25.26" height="25.33" fill="#00a4ff"/>
<rect x="967.16" y="898.13" width="25.26" height="25.33" fill="#00a9ff"/>
<rect x="991.82" y="898.13" width="25.26" height="25.33" fill="#00b8ff"/>
<rect x="1016.48" y="898.13" width="25.26" height="25.33" fill="#00c8ff"/>
<rect x="1041.15" y="898.13" width="25.26" height="25.33" fill="#00d2ff"/>
<rect x="1065.81" y="898.13" width="25.26" height="25.33" fill="#00d8ff"/>
<rect x="1090.47" y="898.13" width="25.26" height="25.33" fill="#00ceff"/>
<rect x="1115.13" y="898.13" width="25.26" height="25.33" fill="#00baff"/>
<rect x="1139.79" y="898.13" width="25.26" height="25.33" fill="#00a2ff"/>
<rect x="1164.45" y="898.13" width="25.26" height="25.33" fill="#0086ff"/>
<rect x="1189.11" y="898.13" width="25.26" height="25.33" fill="#0069ff"/>
<rect x="1213.77" y="898.13" width="25.26" height="25.33" fill="#004eff"/>
<rect x="1238.43" y="898.13" width="25.26" height="25.33" fill="#0036ff"/>
<rect x="1263.09" y="898.13" width="25.26" height="25.33" fill="#0024ff"/>
<rect x="1287.75" y="898.13" width="25.26" height="25.33" fill="#0017ff"/>
<rect x="1312.41" y="898.13" width="74.58" height="25.33" fill="#000aff"/>
<rect x="1386.40" y="898.13" width="25.26" height="25.33" fill="#000dff"/>
<rect x="1411.06" y="898.13" width="25.26" height="25.33" fill="#0015ff"/>
<rect x="1435.72" y="898.13" width="25.26" height="25.33" fill="#0021ff"/>
<rect x="1460.38" y="898.13" width="25.26" height="25.33" fill="#0034ff"/>
<rect x="1485.04" y="898.13" width="25.26" height="25.33" fill="#0043ff"/>
<rect x="252.00" y="922.86" width="25.26" height="25.33" fill="#d00000"/>
<rect x="276.66" y="922.86" width="25.26" height="25.33" fill="#ff0a00"/>
<rect x="301.32" y="922.86" width="25.26" height="25.33" fill="#ff3100"/>
<rect x="325.98" y="922.86" width="25.26" height="25.33" fill="#ff8000"/>
<rect x="350.64" y="922.86" width="25.26" height="25.33" fill="#ffe400"/>
<rect x="375.30" y="922.86" width="25.26" height="25.33" fill="#bfff00"/>
<rect x="399.96" y="922.86" width="25.26" height="25.33" fill="#81ff2b"/>
<rect x="424.63" y="922.86" width="25.26" height="25.33" fill="#00f661"/>
<rect x="449.29" y="922.86" width="25.26" height="25.33" fill="#00f883"/>
<rect x="473.95" y="922.86" width="25.26" height="25.33" fill="#00f98c"/>
<rect x="498.61" y="922.86" width="25.26" height="25.33" fill="#00f98e"/>
<rect x="523.27" y="922.86" width="25.26" height="25.33" fill="#00f88a"/>
<rect x="547.93" y="922.86" width="25.26" height="25.33" fill="#00f87c"/>
<rect x="572.59" y="922.86" width="25.26" height="25.33" fill="#7cff34"/>
<rect x="597.25" y="922.86" width="25.26" height="25.33" fill="#8fff0e"/>
<rect x="621.91" y="922.86" width="25.26" height="25.33" fill="#b3ff00"/>
<rect x="646.57" y="922.86" width="25.26" height="25.33" fill="#e5ff00"/>
<rect x="671.23" y="922.86" width="25.26" height="25.33" fill="#dcff00"/>
<rect x="695.89" y="922.86" width="25.26" height="25.33" fill="#c4ff00"/>
<rect x="720.55" y="922.86" width="25.26" height="25.33" fill="#91ff0a"/>
<rect x="745.22" y="922.86" width="25.26" height="25.33" fill="#83ff26"/>
<rect x="769.88" y="922.86" width="25.26" height="25.33" fill="#00f65f"/>
<rect x="794.54" y="922.86" width="25.26" height="25.33" fill="#00faa9"/>
<rect x="819.20" y="922.86" width="25.26" height="25.33" fill="#00f5fc"/>
<rect x="843.86" y="922.86" width="25.26" height="25.33" fill="#00cdff"/>
<rect x="868.52" y="922.86" width="25.26" height="25.33" fill="#00b8ff"/>
<rect x="893.18" y="922.86" width="49.92" height="25.33" fill="#00b3ff"/>
<rect x="942.50" y="922.86" width="25.26" height="25.33" fill="#00b6ff"/>
<rect x="967.16" y="922.86" width="25.26" height="25.33" fill="#00beff"/>
<rect x="991.82" y="922.86" width="25.26" height="25.33" fill="#00c8ff"/>
<rect x="1016.48" y="922.86" width="25.26" height="25.33" fill="#00d2ff"/>
<rect x="1041.15" y="922.86" width="25.26" height="25.33" fill="#00ddff"/>
<rect x="1065.81" y="922.86" width="25.26" height="25.33" fill="#00e1ff"/>
<rect x="1090.47" y="922.86" width="25.26" height="25.33" fill="#00d2ff"/>
<rect x="1115.13" y="922.86" width="25.26" height="25.33" fill="#00bfff"/>
<rect x="1139.79" y="922.86" width="25.26" height="25.33" fill="#00a6ff"/>
<rect x="1164.45" y="922.86" width="25.26" height="25.33" fill="#008bff"/>
<rect x="1189.11" y="922.86" width="25.26" height="25.33" fill="#006dff"/>
<rect x="1213.77" y="922.86" width="25.26" height="25.33" fill="#0053ff"/>
<rect x="1238.43" y="922.86" width="25.26" height="25.33" fill="#0039ff"/>
<rect x="1263.09" y="922.86" width="25.26" height="25.33" fill="#0027ff"/>
<rect x="1287.75" y="922.86" width="25.26" height="25.33" fill="#001aff"/>
<rect x="1312.41" y="922.86" width="74.58" height="25.33" fill="#000dff"/>
<rect x="1386.40" y="922.86" width="25.26" height="25.33" fill="#000fff"/>
<rect x="1411.06" y="922.86" width="25.26" height="25.33" fill="#0017ff"/>
<rect x="1435.72" y="922.86" width="25.26" height="25.33" fill="#0024ff"/>
<rect x="1460.38" y="922.86" width="25.26" height="25.33" fill="#0036ff"/>
<rect x="1485.04" y="922.86" width="25.26" height="25.33" fill="#0045ff"/>
<rect x="252.00" y="947.59" width="25.26" height="25.33" fill="#f70000"/>
<rect x="276.66" y="947.59" width="25.26" height="25.33" fill="#ff0f00"/>
<rect x="301.32" y="947.59" width="25.26" height="25.33" fill="#ff4a00"/>
<rect x="325.98" y="947.59" width="25.26" height="25.33" fill="#ffa200"/>
<rect x="350.64" y="947.59" width="25.26" height="25.33" fill="#fff700"/>
<rect x="375.30" y="947.59" width="25.26" height="25.33" fill="#b2ff00"/>
<rect x="399.96" y="947.59" width="25.26" height="25.33" fill="#7eff30"/>
<rect x="424.63" y="947.59" width="25.26" height="25.33" fill="#00f667"/>
<rect x="449.29" y="947.59" width="25.26" height="25.33" fill="#00f98c"/>
<rect x="473.95" y="947.59" width="25.26" height="25.33" fill="#00f995"/>
<rect x="498.61" y="947.59" width="25.26" height="25.33" fill="#00f997"/>
<rect x="523.27" y="947.59" width="25.26" height="25.33" fill="#00f993"/>
<rect x="547.93" y="947.59" width="25.26" height="25.33" fill="#00f885"/>
<rect x="572.59" y="947.59" width="25.26" height="25.33" fill="#7cff34"/>
<rect x="597.25" y="947.59" width="25.26" height="25.33" fill="#8fff0e"/>
<rect x="621.91" y="947.59" width="25.26" height="25.33" fill="#beff00"/>
<rect x="646.57" y="947.59" width="25.26" height="25.33" fill="#fcff00"/>
<rect x="671.23" y="947.59" width="25.26" height="25.33" fill="#f1ff00"/>
<rect x="695.89" y="947.59" width="25.26" height="25.33" fill="#e0ff00"/>
<rect x="720.55" y="947.59" width="25.26" height="25.33" fill="#a8ff00"/>
<rect x="745.22" y="947.59" width="25.26" height="25.33" fill="#8aff18"/>
<rect x="769.88" y="947.59" width="25.26" height="25.33" fill="#78ff3c"/>
<rect x="794.54" y="947.59" width="25.26" height="25.33" fill="#00f881"/>
<rect x="819.20" y="947.59" width="25.26" height="25.33" fill="#00f6e5"/>
<rect x="843.86" y="947.59" width="25.26" height="25.33" fill="#00ebff"/>
<rect x="868.52" y="947.59" width="25.26" height="25.33" fill="#00d7ff"/>
<rect x="893.18" y="947.59" width="49.92" height="25.33" fill="#00d2ff"/>
<rect x="942.50" y="947.59" width="25.26" height="25.33" fill="#00d4ff"/>
<rect x="967.16" y="947.59" width="25.26" height="25.33" fill="#00d7ff"/>
<rect x="991.82" y="947.59" width="25.26" height="25.33" fill="#00dcff"/>
<rect x="1016.48" y="947.59" width="25.26" height="25.33" fill="#00e1ff"/>
<rect x="1041.15" y="947.59" width="25.26" height="25.33" fill="#00ecff"/>
<rect x="1065.81" y="947.59" width="25.26" height="25.33" fill="#00f0ff"/>
<rect x="1090.47" y="947.59" width="25.26" height="25.33" fill="#00e0ff"/>
<rect x="1115.13" y="947.59" width="25.26" height="25.33" fill="#00ccff"/>
<rect x="1139.79" y="947.59" width="25.26" height="25.33" fill="#00b3ff"/>
<rect x="1164.45" y="947.59" width="25.26" height="25.33" fill="#0095ff"/>
<rect x="1189.11" y="947.59" width="25.26" height="25.33" fill="#007cff"/>
<rect x="1213.77" y="947.59" width="25.26" height="25.33" fill="#0065ff"/>
<rect x="1238.43" y="947.59" width="25.26" height="25.33" fill="#004dff"/>
<rect x="1263.09" y="947.59" width="25.26" height="25.33" fill="#0039ff"/>
<rect x="1287.75" y="947.59" width="25.26" height="25.33" fill="#0029ff"/>
<rect x="1312.41" y="947.59" width="99.24" height="25.33" fill="#001fff"/>
<rect x="1411.06" y="947.59" width="25.26" height="25.33" fill="#0024ff"/>
<rect x="1435.72" y="947.59" width="25.26" height="25.33" fill="#002eff"/>
<rect x="1460.38" y="947.59" width="25.26" height="25.33" fill="#003eff"/>
<rect x="1485.04" y="947.59" width="25.26" height="25.33" fill="#004dff"/>
<rect x="252.00" y="972.32" width="25.26" height="25.33" fill="#ff0800"/>
<rect x="276.66" y="972.32" width="25.26" height="25.33" fill="#ff3100"/>
<rect x="301.32" y="972.32" width="25.26" height="25.33" fill="#ff6200"/>
<rect x="325.98" y="972.32" width="25.26" height="25.33" fill="#ffb700"/>
<rect x="350.64" y="972.32" width="25.26" height="25.33" fill="#f2ff00"/>
<rect x="375.30" y="972.32" width="25.26" height="25.33" fill="#9aff00"/>
<rect x="399.96" y="972.32" width="25.26" height="25.33" fill="#7cff33"/>
<rect x="424.63" y="972.32" width="25.26" height="25.33" fill="#00f65c"/>
<rect x="449.29" y="972.32" width="25.26" height="25.33" fill="#00f888"/>
<rect x="473.95" y="972.32" width="25.26" height="25.33" fill="#00f98f"/>
<rect x="498.61" y="972.32" width="25.26" height="25.33" fill="#00f992"/>
<rect x="523.27" y="972.32" width="25.26" height="25.33" fill="#00f98e"/>
<rect x="547.93" y="972.32" width="25.26" height="25.33" fill="#00f87e"/>
<rect x="572.59" y="972.32" width="25.26" height="25.33" fill="#7cff34"/>
<rect x="597.25" y="972.32" width="25.26" height="25.33" fill="#8fff0e"/>
<rect x="621.91" y="972.32" width="25.26" height="25.33" fill="#d9ff00"/>
<rect x="646.57" y="972.32" width="25.26" height="25.33" fill="#fff300"/>
<rect x="671.23" y="972.32" width="25.26" height="25.33" fill="#fff400"/>
<rect x="695.89" y="972.32" width="25.26" height="25.33" fill="#fbff00"/>
<rect x="720.55" y="972.32" width="25.26" height="25.33" fill="#d1ff00"/>
<rect x="745.22" y="972.32" width="25.26" height="25.33" fill="#a8ff00"/>
<rect x="769.88" y="972.32" width="25.26" height="25.33" fill="#83ff26"/>
<rect x="794.54" y="972.32" width="25.26" height="25.33" fill="#00f65b"/>
<rect x="819.20" y="972.32" width="25.26" height="25.33" fill="#00faab"/>
<rect x="843.86" y="972.32" width="25.26" height="25.33" fill="#00f7e3"/>
<rect x="868.52" y="972.32" width="25.26" height="25.33" fill="#00f6f6"/>
<rect x="893.18" y="972.32" width="99.24" height="25.33" fill="#00f5f9"/>
<rect x="991.82" y="972.32" width="25.26" height="25.33" fill="#00f6f6"/>
<rect x="1016.48" y="972.32" width="25.26" height="25.33" fill="#00f6f2"/>
<rect x="1041.15" y="972.32" width="25.26" height="25.33" fill="#00f6e6"/>
<rect x="1065.81" y="972.32" width="25.26" height="25.33" fill="#00f7e1"/>
<rect x="1090.47" y="972.32" width="25.26" height="25.33" fill="#00f6f3"/>
<rect x="1115.13" y="972.32" width="25.26" height="25.33" fill="#00e4ff"/>
<rect x="1139.79" y="972.32" width="25.26" height="25.33" fill="#00c8ff"/>
<rect x="1164.45" y="972.32" width="25.26" height="25.33" fill="#00a9ff"/>
<rect x="1189.11" y="972.32" width="25.26" height="25.33" fill="#008bff"/>
<rect x="1213.77" y="972.32" width="25.26" height="25.33" fill="#0074ff"/>
<rect x="1238.43" y="972.32" width="25.26" height="25.33" fill="#0060ff"/>
<rect x="1263.09" y="972.32" width="25.26" height="25.33" fill="#004dff"/>
<rect x="1287.75" y="972.32" width="25.26" height="25.33" fill="#003eff"/>
<rect x="1312.41" y="972.32" width="99.24" height="25.33" fill="#0034ff"/>
<rect x="1411.06" y="972.32" width="25.26" height="25.33" fill="#0039ff"/>
<rect x="1435.72" y="972.32" width="25.26" height="25.33" fill="#0040ff"/>
<rect x="1460.38" y="972.32" width="25.26" height="25.33" fill="#004dff"/>
<rect x="1485.04" y="972.32" width="25.26" height="25.33" fill="#005bff"/>
<rect x="252.00" y="997.05" width="25.26" height="25.33" fill="#ff2200"/>
<rect x="276.66" y="997.05" width="25.26" height="25.33" fill="#ff4f00"/>
<rect x="301.32" y="997.05" width="25.26" height="25.33" fill="#ff8e00"/>
<rect x="325.98" y="997.05" width="25.26" height="25.33" fill="#ffd900"/>
<rect x="350.64" y="997.05" width="25.26" height="25.33" fill="#cdff00"/>
<rect x="375.30" y="997.05" width="25.26" height="25.33" fill="#8cff13"/>
<rect x="399.96" y="997.05" width="25.26" height="25.33" fill="#79ff3a"/>
<rect x="424.63" y="997.05" width="25.26" height="25.33" fill="#00f668"/>
<rect x="449.29" y="997.05" width="25.26" height="25.33" fill="#00f993"/>
<rect x="473.95" y="997.05" width="25.26" height="25.33" fill="#00f99b"/>
<rect x="498.61" y="997.05" width="25.26" height="25.33" fill="#00fa9d"/>
<rect x="523.27" y="997.05" width="25.26" height="25.33" fill="#00f99a"/>
<rect x="547.93" y="997.05" width="25.26" height="25.33" fill="#00f888"/>
<rect x="572.59" y="997.05" width="25.26" height="25.33" fill="#79ff39"/>
<rect x="597.25" y="997.05" width="25.26" height="25.33" fill="#8cff13"/>
<rect x="621.91" y="997.05" width="25.26" height="25.33" fill="#e6ff00"/>
<rect x="646.57" y="997.05" width="25.26" height="25.33" fill="#ffde00"/>
<rect x="671.23" y="997.05" width="25.26" height="25.33" fill="#ffd200"/>
<rect x="695.89" y="997.05" width="25.26" height="25.33" fill="#ffeb00"/>
<rect x="720.55" y="997.05" width="25.26" height="25.33" fill="#f2ff00"/>
<rect x="745.22" y="997.05" width="25.26" height="25.33" fill="#c4ff00"/>
<rect x="769.88" y="997.05" width="25.26" height="25.33" fill="#94ff05"/>
<rect x="794.54" y="997.05" width="25.26" height="25.33" fill="#7eff30"/>
<rect x="819.20" y="997.05" width="25.26" height="25.33" fill="#00f661"/>
<rect x="843.86" y="997.05" width="25.26" height="25.33" fill="#00faa9"/>
<rect x="868.52" y="997.05" width="25.26" height="25.33" fill="#00f8c1"/>
<rect x="893.18" y="997.05" width="99.24" height="25.33" fill="#00f8c5"/>
<rect x="991.82" y="997.05" width="25.26" height="25.33" fill="#00f8c1"/>
<rect x="1016.48" y="997.05" width="25.26" height="25.33" fill="#00f9bc"/>
<rect x="1041.15" y="997.05" width="25.26" height="25.33" fill="#00f9b4"/>
<rect x="1065.81" y="997.05" width="25.26" height="25.33" fill="#00faac"/>
<rect x="1090.47" y="997.05" width="25.26" height="25.33" fill="#00f9b7"/>
<rect x="1115.13" y="997.05" width="25.26" height="25.33" fill="#00f7e1"/>
<rect x="1139.79" y="997.05" width="25.26" height="25.33" fill="#00ebff"/>
<rect x="1164.45" y="997.05" width="25.26" height="25.33" fill="#00c8ff"/>
<rect x="1189.11" y="997.05" width="25.26" height="25.33" fill="#00a9ff"/>
<rect x="1213.77" y="997.05" width="25.26" height="25.33" fill="#008bff"/>
<rect x="1238.43" y="997.05" width="25.26" height="25.33" fill="#0074ff"/>
<rect x="1263.09" y="997.05" width="25.26" height="25.33" fill="#0060ff"/>
<rect x="1287.75" y="997.05" width="25.26" height="25.33" fill="#0053ff"/>
<rect x="1312.41" y="997.05" width="99.24" height="25.33" fill="#0048ff"/>
<rect x="1411.06" y="997.05" width="25.26" height="25.33" fill="#004bff"/>
<rect x="1435.72" y="997.05" width="25.26" height="25.33" fill="#0053ff"/>
<rect x="1460.38" y="997.05" width="25.26" height="25.33" fill="#005dff"/>
<rect x="1485.04" y="997.05" width="25.26" height="25.33" fill="#0067ff"/>
<rect x="252.00" y="1021.78" width="25.26" height="25.33" fill="#ff4a00"/>
<rect x="276.66" y="1021.78" width="25.26" height="25.33" fill="#ff8000"/>
<rect x="301.32" y="1021.78" width="25.26" height="25.33" fill="#ffc000"/>
<rect x="325.98" y="1021.78" width="25.26" height="25.33" fill="#ffff00"/>
<rect x="350.64" y="1021.78" width="25.26" height="25.33" fill="#c8ff00"/>
<rect x="375.30" y="1021.78" width="25.26" height="25.33" fill="#85ff22"/>
<rect x="399.96" y="1021.78" width="25.26" height="25.33" fill="#78ff3b"/>
<rect x="424.63" y="1021.78" width="25.26" height="25.33" fill="#00f778"/>
<rect x="449.29" y="1021.78" width="25.26" height="25.33" fill="#00f996"/>
<rect x="473.95" y="1021.78" width="25.26" height="25.33" fill="#00fa9e"/>
<rect x="498.61" y="1021.78" width="25.26" height="25.33" fill="#00faa0"/>
<rect x="523.27" y="1021.78" width="25.26" height="25.33" fill="#00f99c"/>
<rect x="547.93" y="1021.78" width="25.26" height="25.33" fill="#00f888"/>
<rect x="572.59" y="1021.78" width="25.26" height="25.33" fill="#7bff35"/>
<rect x="597.25" y="1021.78" width="25.26" height="25.33" fill="#88ff1d"/>
<rect x="621.91" y="1021.78" width="25.26" height="25.33" fill="#e9ff00"/>
<rect x="646.57" y="1021.78" width="25.26" height="25.33" fill="#ffd600"/>
<rect x="671.23" y="1021.78" width="25.26" height="25.33" fill="#ffbe00"/>
<rect x="695.89" y="1021.78" width="25.26" height="25.33" fill="#ffbd00"/>
<rect x="720.55" y="1021.78" width="25.26" height="25.33" fill="#ffd500"/>
<rect x="745.22" y="1021.78" width="25.26" height="25.33" fill="#ffff00"/>
<rect x="769.88" y="1021.78" width="25.26" height="25.33" fill="#dcff00"/>
<rect x="794.54" y="1021.78" width="25.26" height="25.33" fill="#94ff05"/>
<rect x="819.20" y="1021.78" width="25.26" height="25.33" fill="#7cff34"/>
<rect x="843.86" y="1021.78" width="25.26" height="25.33" fill="#00f661"/>
<rect x="868.52" y="1021.78" width="25.26" height="25.33" fill="#00f778"/>
<rect x="893.18" y="1021.78" width="99.24" height="25.33" fill="#00f87d"/>
<rect x="991.82" y="1021.78" width="25.26" height="25.33" fill="#00f87b"/>
<rect x="1016.48" y="1021.78" width="25.26" height="25.33" fill="#00f778"/>
<rect x="1041.15" y="1021.78" width="25.26" height="25.33" fill="#00f76e"/>
<rect x="1065.81" y="1021.78" width="25.26" height="25.33" fill="#00f668"/>
<rect x="1090.47" y="1021.78" width="25.26" height="25.33" fill="#00f76d"/>
<rect x="1115.13" y="1021.78" width="25.26" height="25.33" fill="#00f883"/>
<rect x="1139.79" y="1021.78" width="25.26" height="25.33" fill="#00f8c1"/>
<rect x="1164.45" y="1021.78" width="25.26" height="25.33" fill="#00f6f6"/>
<rect x="1189.11" y="1021.78" width="25.26" height="25.33" fill="#00d7ff"/>
<rect x="1213.77" y="1021.78" width="25.26" height="25.33" fill="#00b3ff"/>
<rect x="1238.43" y="1021.78" width="25.26" height="25.33" fill="#0095ff"/>
<rect x="1263.09" y="1021.78" width="25.26" height="25.33" fill="#007cff"/>
<rect x="1287.75" y="1021.78" width="25.26" height="25.33" fill="#006eff"/>
<rect x="1312.41" y="1021.78" width="99.24" height="25.33" fill="#0065ff"/>
<rect x="1411.06" y="1021.78" width="25.26" height="25.33" fill="#0067ff"/>
<rect x="1435.72" y="1021.78" width="25.26" height="25.33" fill="#006cff"/>
<rect x="1460.38" y="1021.78" width="25.26" height="25.33" fill="#0074ff"/>
<rect x="1485.04" y="1021.78" width="25.26" height="25.33" fill="#007cff"/>
<rect x="252.00" y="1046.51" width="25.26" height="25.33" fill="#ff7100"/>
<rect x="276.66" y="1046.51" width="25.26" height="25.33" fill="#ff9900"/>
<rect x="301.32" y="1046.51" width="25.26" height="25.33" fill="#ffcf00"/>
<rect x="325.98" y="1046.51" width="25.26" height="25.33" fill="#e9ff00"/>
<rect x="350.64" y="1046.51" width="25.26" height="25.33" fill="#c2ff00"/>
<rect x="375.30" y="1046.51" width="25.26" height="25.33" fill="#7cff33"/>
<rect x="399.96" y="1046.51" width="25.26" height="25.33" fill="#00f663"/>
<rect x="424.63" y="1046.51" width="25.26" height="25.33" fill="#00f996"/>
<rect x="449.29" y="1046.51" width="25.26" height="25.33" fill="#00faae"/>
<rect x="473.95" y="1046.51" width="25.26" height="25.33" fill="#00f9b4"/>
<rect x="498.61" y="1046.51" width="25.26" height="25.33" fill="#00f9b7"/>
<rect x="523.27" y="1046.51" width="25.26" height="25.33" fill="#00f9b2"/>
<rect x="547.93" y="1046.51" width="25.26" height="25.33" fill="#00f996"/>
<rect x="572.59" y="1046.51" width="25.26" height="25.33" fill="#00f553"/>
<rect x="597.25" y="1046.51" width="25.26" height="25.33" fill="#85ff21"/>
<rect x="621.91" y="1046.51" width="25.26" height="25.33" fill="#dfff00"/>
<rect x="646.57" y="1046.51" width="25.26" height="25.33" fill="#ffce00"/>
<rect x="671.23" y="1046.51" width="25.26" height="25.33" fill="#ffb300"/>
<rect x="695.89" y="1046.51" width="25.26" height="25.33" fill="#ffb700"/>
<rect x="720.55" y="1046.51" width="25.26" height="25.33" fill="#ffcf00"/>
<rect x="745.22" y="1046.51" width="25.26" height="25.33" fill="#fff000"/>
<rect x="769.88" y="1046.51" width="25.26" height="25.33" fill="#f2ff00"/>
<rect x="794.54" y="1046.51" width="25.26" height="25.33" fill="#c4ff00"/>
<rect x="819.20" y="1046.51" width="25.26" height="25.33" fill="#94ff05"/>
<rect x="843.86" y="1046.51" width="25.26" height="25.33" fill="#81ff2b"/>
<rect x="868.52" y="1046.51" width="25.26" height="25.33" fill="#00f556"/>
<rect x="893.18" y="1046.51" width="99.24" height="25.33" fill="#00f558"/>
<rect x="991.82" y="1046.51" width="25.26" height="25.33" fill="#3cfa46"/>
<rect x="1016.48" y="1046.51" width="25.26" height="25.33" fill="#7cff34"/>
<rect x="1041.15" y="1046.51" width="25.26" height="25.33" fill="#80ff2c"/>
<rect x="1065.81" y="1046.51" width="25.26" height="25.33" fill="#85ff21"/>
<rect x="1090.47" y="1046.51" width="25.26" height="25.33" fill="#83ff26"/>
<rect x="1115.13" y="1046.51" width="25.26" height="25.33" fill="#7aff39"/>
<rect x="1139.79" y="1046.51" width="25.26" height="25.33" fill="#00f667"/>
<rect x="1164.45" y="1046.51" width="25.26" height="25.33" fill="#00fa9f"/>
<rect x="1189.11" y="1046.51" width="25.26" height="25.33" fill="#00f7e3"/>
<rect x="1213.77" y="1046.51" width="25.26" height="25.33" fill="#00e6ff"/>
<rect x="1238.43" y="1046.51" width="25.26" height="25.33" fill="#00c3ff"/>
<rect x="1263.09" y="1046.51" width="25.26" height="25.33" fill="#00a9ff"/>
<rect x="1287.75" y="1046.51" width="25.26" height="25.33" fill="#0095ff"/>
<rect x="1312.41" y="1046.51" width="99.24" height="25.33" fill="#008bff"/>
<rect x="1411.06" y="1046.51" width="25.26" height="25.33" fill="#008dff"/>
<rect x="1435.72" y="1046.51" width="25.26" height="25.33" fill="#0090ff"/>
<rect x="1460.38" y="1046.51" width="25.26" height="25.33" fill="#0095ff"/>
<rect x="1485.04" y="1046.51" width="25.26" height="25.33" fill="#009aff"/>
<rect x="252.00" y="1071.24" width="25.26" height="25.33" fill="#ffb400"/>
<rect x="276.66" y="1071.24" width="25.26" height="25.33" fill="#ffc400"/>
<rect x="301.32" y="1071.24" width="25.26" height="25.33" fill="#fbff00"/>
<rect x="325.98" y="1071.24" width="25.26" height="25.33" fill="#bfff00"/>
<rect x="350.64" y="1071.24" width="25.26" height="25.33" fill="#8aff19"/>
<rect x="375.30" y="1071.24" width="25.26" height="25.33" fill="#00f557"/>
<rect x="399.96" y="1071.24" width="25.26" height="25.33" fill="#00f880"/>
<rect x="424.63" y="1071.24" width="25.26" height="25.33" fill="#00f9b4"/>
<rect x="449.29" y="1071.24" width="25.26" height="25.33" fill="#00f8cc"/>
<rect x="473.95" y="1071.24" width="25.26" height="25.33" fill="#00f8d2"/>
<rect x="498.61" y="1071.24" width="25.26" height="25.33" fill="#00f7d5"/>
<rect x="523.27" y="1071.24" width="25.26" height="25.33" fill="#00f8c8"/>
<rect x="547.93" y="1071.24" width="25.26" height="25.33" fill="#00faaa"/>
<rect x="572.59" y="1071.24" width="25.26" height="25.33" fill="#00f65f"/>
<rect x="597.25" y="1071.24" width="25.26" height="25.33" fill="#83ff26"/>
<rect x="621.91" y="1071.24" width="25.26" height="25.33" fill="#dcff00"/>
<rect x="646.57" y="1071.24" width="25.26" height="25.33" fill="#ffcf00"/>
<rect x="671.23" y="1071.24" width="25.26" height="25.33" fill="#ffae00"/>
<rect x="695.89" y="1071.24" width="49.92" height="25.33" fill="#ffac00"/>
<rect x="745.22" y="1071.24" width="25.26" height="25.33" fill="#ffc400"/>
<rect x="769.88" y="1071.24" width="25.26" height="25.33" fill="#ffeb00"/>
<rect x="794.54" y="1071.24" width="25.26" height="25.33" fill="#f2ff00"/>
<rect x="819.20" y="1071.24" width="25.26" height="25.33" fill="#c4ff00"/>
<rect x="843.86" y="1071.24" width="25.26" height="25.33" fill="#9aff00"/>
<rect x="868.52" y="1071.24" width="25.26" height="25.33" fill="#8aff18"/>
<rect x="893.18" y="1071.24" width="74.58" height="25.33" fill="#83ff26"/>
<rect x="967.16" y="1071.24" width="25.26" height="25.33" fill="#85ff21"/>
<rect x="991.82" y="1071.24" width="25.26" height="25.33" fill="#94ff05"/>
<rect x="1016.48" y="1071.24" width="25.26" height="25.33" fill="#b2ff00"/>
<rect x="1041.15" y="1071.24" width="25.26" height="25.33" fill="#c7ff00"/>
<rect x="1065.81" y="1071.24" width="25.26" height="25.33" fill="#d4ff00"/>
<rect x="1090.47" y="1071.24" width="25.26" height="25.33" fill="#c2ff00"/>
<rect x="1115.13" y="1071.24" width="25.26" height="25.33" fill="#a5ff00"/>
<rect x="1139.79" y="1071.24" width="25.26" height="25.33" fill="#83ff26"/>
<rect x="1164.45" y="1071.24" width="25.26" height="25.33" fill="#3cfa46"/>
<rect x="1189.11" y="1071.24" width="25.26" height="25.33" fill="#00f778"/>
<rect x="1213.77" y="1071.24" width="25.26" height="25.33" fill="#00f9b8"/>
<rect x="1238.43" y="1071.24" width="25.26" height="25.33" fill="#00f6f6"/>
<rect x="1263.09" y="1071.24" width="25.26" height="25.33" fill="#00dcff"/>
<rect x="1287.75" y="1071.24" width="25.26" height="25.33" fill="#00c3ff"/>
<rect x="1312.41" y="1071.24" width="123.90" height="25.33" fill="#00b3ff"/>
<rect x="1435.72" y="1071.24" width="25.26" height="25.33" fill="#00b6ff"/>
<rect x="1460.38" y="1071.24" width="25.26" height="25.33" fill="#00b8ff"/>
<rect x="1485.04" y="1071.24" width="25.26" height="25.33" fill="#00beff"/>
<rect x="252.00" y="1095.96" width="25.26" height="25.33" fill="#ffda00"/>
<rect x="276.66" y="1095.96" width="25.26" height="25.33" fill="#ffff00"/>
<rect x="301.32" y="1095.96" width="25.26" height="25.33" fill="#c9ff00"/>
<rect x="325.98" y="1095.96" width="25.26" height="25.33" fill="#92ff08"/>
<rect x="350.64" y="1095.96" width="25.26" height="25.33" fill="#7eff2f"/>
<rect x="375.30" y="1095.96" width="25.26" height="25.33" fill="#00f774"/>
<rect x="399.96" y="1095.96" width="25.26" height="25.33" fill="#00fa9d"/>
<rect x="424.63" y="1095.96" width="25.26" height="25.33" fill="#00f8ce"/>
<rect x="449.29" y="1095.96" width="25.26" height="25.33" fill="#00f7e3"/>
<rect x="473.95" y="1095.96" width="25.26" height="25.33" fill="#00f6ea"/>
<rect x="498.61" y="1095.96" width="25.26" height="25.33" fill="#00f6e9"/>
<rect x="523.27" y="1095.96" width="25.26" height="25.33" fill="#00f7d8"/>
<rect x="547.93" y="1095.96" width="25.26" height="25.33" fill="#00faae"/>
<rect x="572.59" y="1095.96" width="25.26" height="25.33" fill="#00f76d"/>
<rect x="597.25" y="1095.96" width="25.26" height="25.33" fill="#82ff28"/>
<rect x="621.91" y="1095.96" width="25.26" height="25.33" fill="#d1ff00"/>
<rect x="646.57" y="1095.96" width="25.26" height="25.33" fill="#ffd000"/>
<rect x="671.23" y="1095.96" width="25.26" height="25.33" fill="#ffab00"/>
<rect x="695.89" y="1095.96" width="49.92" height="25.33" fill="#ffa300"/>
<rect x="745.22" y="1095.96" width="25.26" height="25.33" fill="#ffb400"/>
<rect x="769.88" y="1095.96" width="25.26" height="25.33" fill="#ffd300"/>
<rect x="794.54" y="1095.96" width="25.26" height="25.33" fill="#fff200"/>
<rect x="819.20" y="1095.96" width="25.26" height="25.33" fill="#ecff00"/>
<rect x="843.86" y="1095.96" width="25.26" height="25.33" fill="#c5ff00"/>
<rect x="868.52" y="1095.96" width="25.26" height="25.33" fill="#b0ff00"/>
<rect x="893.18" y="1095.96" width="49.92" height="25.33" fill="#a5ff00"/>
<rect x="942.50" y="1095.96" width="25.26" height="25.33" fill="#b7ff00"/>
<rect x="967.16" y="1095.96" width="25.26" height="25.33" fill="#d7ff00"/>
<rect x="991.82" y="1095.96" width="25.26" height="25.33" fill="#f7ff00"/>
<rect x="1016.48" y="1095.96" width="25.26" height="25.33" fill="#ffea00"/>
<rect x="1041.15" y="1095.96" width="25.26" height="25.33" fill="#ffd900"/>
<rect x="1065.81" y="1095.96" width="25.26" height="25.33" fill="#ffd700"/>
<rect x="1090.47" y="1095.96" width="25.26" height="25.33" fill="#ffe800"/>
<rect x="1115.13" y="1095.96" width="25.26" height="25.33" fill="#fdff00"/>
<rect x="1139.79" y="1095.96" width="25.26" height="25.33" fill="#c9ff00"/>
<rect x="1164.45" y="1095.96" width="25.26" height="25.33" fill="#94ff03"/>
<rect x="1189.11" y="1095.96" width="25.26" height="25.33" fill="#7eff30"/>
<rect x="1213.77" y="1095.96" width="25.26" height="25.33" fill="#00f668"/>
<rect x="1238.43" y="1095.96" width="25.26" height="25.33" fill="#00faa0"/>
<rect x="1263.09" y="1095.96" width="25.26" height="25.33" fill="#00f7d6"/>
<rect x="1287.75" y="1095.96" width="25.26" height="25.33" fill="#00f5fb"/>
<rect x="1312.41" y="1095.96" width="25.26" height="25.33" fill="#00e3ff"/>
<rect x="1337.07" y="1095.96" width="25.26" height="25.33" fill="#00daff"/>
<rect x="1361.74" y="1095.96" width="25.26" height="25.33" fill="#00d8ff"/>
<rect x="1386.40" y="1095.96" width="25.26" height="25.33" fill="#00d7ff"/>
<rect x="1411.06" y="1095.96" width="25.26" height="25.33" fill="#00d6ff"/>
<rect x="1435.72" y="1095.96" width="25.26" height="25.33" fill="#00d8ff"/>
<rect x="1460.38" y="1095.96" width="25.26" height="25.33" fill="#00daff"/>
<rect x="1485.04" y="1095.96" width="25.26" height="25.33" fill="#00ddff"/>
<rect x="252.00" y="1120.69" width="25.26" height="25.33" fill="#f3ff00"/>
<rect x="276.66" y="1120.69" width="25.26" height="25.33" fill="#c0ff00"/>
<rect x="301.32" y="1120.69" width="25.26" height="25.33" fill="#8fff0f"/>
<rect x="325.98" y="1120.69" width="25.26" height="25.33" fill="#78ff3c"/>
<rect x="350.64" y="1120.69" width="25.26" height="25.33" fill="#00f76a"/>
<rect x="375.30" y="1120.69" width="25.26" height="25.33" fill="#00fa9f"/>
<rect x="399.96" y="1120.69" width="25.26" height="25.33" fill="#00f8cd"/>
<rect x="424.63" y="1120.69" width="25.26" height="25.33" fill="#00f6f4"/>
<rect x="449.29" y="1120.69" width="25.26" height="25.33" fill="#00efff"/>
<rect x="473.95" y="1120.69" width="25.26" height="25.33" fill="#00ecff"/>
<rect x="498.61" y="1120.69" width="25.26" height="25.33" fill="#00f3ff"/>
<rect x="523.27" y="1120.69" width="25.26" height="25.33" fill="#00f6e8"/>
<rect x="547.93" y="1120.69" width="25.26" height="25.33" fill="#00f9ba"/>
<rect x="572.59" y="1120.69" width="25.26" height="25.33" fill="#00f776"/>
<rect x="597.25" y="1120.69" width="25.26" height="25.33" fill="#81ff2b"/>
<rect x="621.91" y="1120.69" width="25.26" height="25.33" fill="#c6ff00"/>
<rect x="646.57" y="1120.69" width="25.26" height="25.33" fill="#ffd400"/>
<rect x="671.23" y="1120.69" width="25.26" height="25.33" fill="#ffb300"/>
<rect x="695.89" y="1120.69" width="25.26" height="25.33" fill="#ffa300"/>
<rect x="720.55" y="1120.69" width="25.26" height="25.33" fill="#ffa200"/>
<rect x="745.22" y="1120.69" width="25.26" height="25.33" fill="#ffaf00"/>
<rect x="769.88" y="1120.69" width="25.26" height="25.33" fill="#ffc300"/>
<rect x="794.54" y="1120.69" width="25.26" height="25.33" fill="#ffdd00"/>
<rect x="819.20" y="1120.69" width="25.26" height="25.33" fill="#fff600"/>
<rect x="843.86" y="1120.69" width="25.26" height="25.33" fill="#f3ff00"/>
<rect x="868.52" y="1120.69" width="25.26" height="25.33" fill="#e0ff00"/>
<rect x="893.18" y="1120.69" width="25.26" height="25.33" fill="#deff00"/>
<rect x="917.84" y="1120.69" width="25.26" height="25.33" fill="#e5ff00"/>
<rect x="942.50" y="1120.69" width="25.26" height="25.33" fill="#fdff00"/>
<rect x="967.16" y="1120.69" width="25.26" height="25.33" fill="#ffe500"/>
<rect x="991.82" y="1120.69" width="25.26" height="25.33" fill="#ffc700"/>
<rect x="1016.48" y="1120.69" width="25.26" height="25.33" fill="#ffb200"/>
<rect x="1041.15" y="1120.69" width="25.26" height="25.33" fill="#ffa200"/>
<rect x="1065.81" y="1120.69" width="25.26" height="25.33" fill="#ff9b00"/>
<rect x="1090.47" y="1120.69" width="25.26" height="25.33" fill="#ffae00"/>
<rect x="1115.13" y="1120.69" width="25.26" height="25.33" fill="#ffbd00"/>
<rect x="1139.79" y="1120.69" width="25.26" height="25.33" fill="#ffdf00"/>
<rect x="1164.45" y="1120.69" width="25.26" height="25.33" fill="#fbff00"/>
<rect x="1189.11" y="1120.69" width="25.26" height="25.33" fill="#b4ff00"/>
<rect x="1213.77" y="1120.69" width="25.26" height="25.33" fill="#87ff1f"/>
<rect x="1238.43" y="1120.69" width="25.26" height="25.33" fill="#00f65b"/>
<rect x="1263.09" y="1120.69" width="25.26" height="25.33" fill="#00f88a"/>
<rect x="1287.75" y="1120.69" width="25.26" height="25.33" fill="#00f9b2"/>
<rect x="1312.41" y="1120.69" width="25.26" height="25.33" fill="#00f8cf"/>
<rect x="1337.07" y="1120.69" width="25.26" height="25.33" fill="#00f7e3"/>
<rect x="1361.74" y="1120.69" width="25.26" height="25.33" fill="#00f6ef"/>
<rect x="1386.40" y="1120.69" width="25.26" height="25.33" fill="#00f5f8"/>
<rect x="1411.06" y="1120.69" width="25.26" height="25.33" fill="#00f5ff"/>
<rect x="1435.72" y="1120.69" width="49.92" height="25.33" fill="#00f2ff"/>
<rect x="1485.04" y="1120.69" width="25.26" height="25.33" fill="#00f4ff"/>
<rect x="252.00" y="1145.42" width="25.26" height="25.33" fill="#cdff00"/>
<rect x="276.66" y="1145.42" width="25.26" height="25.33" fill="#95ff03"/>
<rect x="301.32" y="1145.42" width="25.26" height="25.33" fill="#7fff2d"/>
<rect x="325.98" y="1145.42" width="25.26" height="25.33" fill="#00f76f"/>
<rect x="350.64" y="1145.42" width="25.26" height="25.33" fill="#00faa9"/>
<rect x="375.30" y="1145.42" width="25.26" height="25.33" fill="#00f7d8"/>
<rect x="399.96" y="1145.42" width="25.26" height="25.33" fill="#00f6f4"/>
<rect x="424.63" y="1145.42" width="25.26" height="25.33" fill="#00eaff"/>
<rect x="449.29" y="1145.42" width="25.26" height="25.33" fill="#00e1ff"/>
<rect x="473.95" y="1145.42" width="25.26" height="25.33" fill="#00e5ff"/>
<rect x="498.61" y="1145.42" width="25.26" height="25.33" fill="#00f1ff"/>
<rect x="523.27" y="1145.42" width="25.26" height="25.33" fill="#00f6ea"/>
<rect x="547.93" y="1145.42" width="25.26" height="25.33" fill="#00f9bf"/>
<rect x="572.59" y="1145.42" width="25.26" height="25.33" fill="#00f88a"/>
<rect x="597.25" y="1145.42" width="25.26" height="25.33" fill="#7eff30"/>
<rect x="621.91" y="1145.42" width="25.26" height="25.33" fill="#b2ff00"/>
<rect x="646.57" y="1145.42" width="25.26" height="25.33" fill="#fff200"/>
<rect x="671.23" y="1145.42" width="25.26" height="25.33" fill="#ffc300"/>
<rect x="695.89" y="1145.42" width="25.26" height="25.33" fill="#ffab00"/>
<rect x="720.55" y="1145.42" width="25.26" height="25.33" fill="#ffa800"/>
<rect x="745.22" y="1145.42" width="25.26" height="25.33" fill="#ffb000"/>
<rect x="769.88" y="1145.42" width="25.26" height="25.33" fill="#ffbd00"/>
<rect x="794.54" y="1145.42" width="25.26" height="25.33" fill="#ffcc00"/>
<rect x="819.20" y="1145.42" width="25.26" height="25.33" fill="#ffdd00"/>
<rect x="843.86" y="1145.42" width="25.26" height="25.33" fill="#ffec00"/>
<rect x="868.52" y="1145.42" width="25.26" height="25.33" fill="#fff300"/>
<rect x="893.18" y="1145.42" width="25.26" height="25.33" fill="#ffed00"/>
<rect x="917.84" y="1145.42" width="25.26" height="25.33" fill="#ffde00"/>
<rect x="942.50" y="1145.42" width="25.26" height="25.33" fill="#ffcb00"/>
<rect x="967.16" y="1145.42" width="25.26" height="25.33" fill="#ffb800"/>
<rect x="991.82" y="1145.42" width="25.26" height="25.33" fill="#ffa600"/>
<rect x="1016.48" y="1145.42" width="25.26" height="25.33" fill="#ff9600"/>
<rect x="1041.15" y="1145.42" width="25.26" height="25.33" fill="#ff8900"/>
<rect x="1065.81" y="1145.42" width="25.26" height="25.33" fill="#ff7e00"/>
<rect x="1090.47" y="1145.42" width="25.26" height="25.33" fill="#ff7900"/>
<rect x="1115.13" y="1145.42" width="25.26" height="25.33" fill="#ff7b00"/>
<rect x="1139.79" y="1145.42" width="25.26" height="25.33" fill="#ff8a00"/>
<rect x="1164.45" y="1145.42" width="25.26" height="25.33" fill="#ffac00"/>
<rect x="1189.11" y="1145.42" width="25.26" height="25.33" fill="#ffe200"/>
<rect x="1213.77" y="1145.42" width="25.26" height="25.33" fill="#caff00"/>
<rect x="1238.43" y="1145.42" width="25.26" height="25.33" fill="#8cff13"/>
<rect x="1263.09" y="1145.42" width="25.26" height="25.33" fill="#7aff37"/>
<rect x="1287.75" y="1145.42" width="25.26" height="25.33" fill="#00f669"/>
<rect x="1312.41" y="1145.42" width="25.26" height="25.33" fill="#00f885"/>
<rect x="1337.07" y="1145.42" width="25.26" height="25.33" fill="#00fa9f"/>
<rect x="1361.74" y="1145.42" width="25.26" height="25.33" fill="#00f9b8"/>
<rect x="1386.40" y="1145.42" width="25.26" height="25.33" fill="#00f8ce"/>
<rect x="1411.06" y="1145.42" width="25.26" height="25.33" fill="#00f7df"/>
<rect x="1435.72" y="1145.42" width="25.26" height="25.33" fill="#00f6ea"/>
<rect x="1460.38" y="1145.42" width="25.26" height="25.33" fill="#00f6ef"/>
<rect x="1485.04" y="1145.42" width="25.26" height="25.33" fill="#00f6ec"/>
<rect x="252.00" y="1170.15" width="25.26" height="25.33" fill="#94ff05"/>
<rect x="276.66" y="1170.15" width="25.26" height="25.33" fill="#89ff1a"/>
<rect x="301.32" y="1170.15" width="25.26" height="25.33" fill="#00f558"/>
<rect x="325.98" y="1170.15" width="25.26" height="25.33" fill="#00f889"/>
<rect x="350.64" y="1170.15" width="25.26" height="25.33" fill="#00f9b9"/>
<rect x="375.30" y="1170.15" width="25.26" height="25.33" fill="#00f4ff"/>
<rect x="399.96" y="1170.15" width="25.26" height="25.33" fill="#00dbff"/>
<rect x="424.63" y="1170.15" width="25.26" height="25.33" fill="#00ccff"/>
<rect x="449.29" y="1170.15" width="25.26" height="25.33" fill="#00c8ff"/>
<rect x="473.95" y="1170.15" width="25.26" height="25.33" fill="#00cfff"/>
<rect x="498.61" y="1170.15" width="25.26" height="25.33" fill="#00dfff"/>
<rect x="523.27" y="1170.15" width="25.26" height="25.33" fill="#00f5ff"/>
<rect x="547.93" y="1170.15" width="25.26" height="25.33" fill="#00f7d4"/>
<rect x="572.59" y="1170.15" width="25.26" height="25.33" fill="#00f996"/>
<rect x="597.25" y="1170.15" width="25.26" height="25.33" fill="#52fc42"/>
<rect x="621.91" y="1170.15" width="25.26" height="25.33" fill="#96ff00"/>
<rect x="646.57" y="1170.15" width="25.26" height="25.33" fill="#f9ff00"/>
<rect x="671.23" y="1170.15" width="25.26" height="25.33" fill="#ffcf00"/>
<rect x="695.89" y="1170.15" width="25.26" height="25.33" fill="#ffb300"/>
<rect x="720.55" y="1170.15" width="25.26" height="25.33" fill="#ffac00"/>
<rect x="745.22" y="1170.15" width="25.26" height="25.33" fill="#ffb200"/>
<rect x="769.88" y="1170.15" width="25.26" height="25.33" fill="#ffbe00"/>
<rect x="794.54" y="1170.15" width="25.26" height="25.33" fill="#ffcc00"/>
<rect x="819.20" y="1170.15" width="25.26" height="25.33" fill="#ffd900"/>
<rect x="843.86" y="1170.15" width="25.26" height="25.33" fill="#ffe200"/>
<rect x="868.52" y="1170.15" width="25.26" height="25.33" fill="#ffe300"/>
<rect x="893.18" y="1170.15" width="25.26" height="25.33" fill="#ffd800"/>
<rect x="917.84" y="1170.15" width="25.26" height="25.33" fill="#ffc700"/>
<rect x="942.50" y="1170.15" width="25.26" height="25.33" fill="#ffb400"/>
<rect x="967.16" y="1170.15" width="25.26" height="25.33" fill="#ffa100"/>
<rect x="991.82" y="1170.15" width="25.26" height="25.33" fill="#ff8d00"/>
<rect x="1016.48" y="1170.15" width="25.26" height="25.33" fill="#ff7900"/>
<rect x="1041.15" y="1170.15" width="25.26" height="25.33" fill="#ff6700"/>
<rect x="1065.81" y="1170.15" width="25.26" height="25.33" fill="#ff5700"/>
<rect x="1090.47" y="1170.15" width="25.26" height="25.33" fill="#ff4d00"/>
<rect x="1115.13" y="1170.15" width="25.26" height="25.33" fill="#ff4e00"/>
<rect x="1139.79" y="1170.15" width="25.26" height="25.33" fill="#ff6100"/>
<rect x="1164.45" y="1170.15" width="25.26" height="25.33" fill="#ff8100"/>
<rect x="1189.11" y="1170.15" width="25.26" height="25.33" fill="#ffbc00"/>
<rect x="1213.77" y="1170.15" width="25.26" height="25.33" fill="#fffe00"/>
<rect x="1238.43" y="1170.15" width="25.26" height="25.33" fill="#adff00"/>
<rect x="1263.09" y="1170.15" width="25.26" height="25.33" fill="#8aff18"/>
<rect x="1287.75" y="1170.15" width="25.26" height="25.33" fill="#7cff35"/>
<rect x="1312.41" y="1170.15" width="25.26" height="25.33" fill="#00f663"/>
<rect x="1337.07" y="1170.15" width="25.26" height="25.33" fill="#00f87d"/>
<rect x="1361.74" y="1170.15" width="25.26" height="25.33" fill="#00f994"/>
<rect x="1386.40" y="1170.15" width="25.26" height="25.33" fill="#00faa8"/>
<rect x="1411.06" y="1170.15" width="25.26" height="25.33" fill="#00f9b9"/>
<rect x="1435.72" y="1170.15" width="25.26" height="25.33" fill="#00f8c5"/>
<rect x="1460.38" y="1170.15" width="25.26" height="25.33" fill="#00f8cc"/>
<rect x="1485.04" y="1170.15" width="25.26" height="25.33" fill="#00f8cb"/>
<rect x="252.00" y="1194.88" width="25.26" height="25.33" fill="#82ff29"/>
<rect x="276.66" y="1194.88" width="25.26" height="25.33" fill="#7aff39"/>
<rect x="301.32" y="1194.88" width="25.26" height="25.33" fill="#00f779"/>
<rect x="325.98" y="1194.88" width="25.26" height="25.33" fill="#00faa8"/>
<rect x="350.64" y="1194.88" width="25.26" height="25.33" fill="#00f7da"/>
<rect x="375.30" y="1194.88" width="25.26" height="25.33" fill="#00dbff"/>
<rect x="399.96" y="1194.88" width="25.26" height="25.33" fill="#00c3ff"/>
<rect x="424.63" y="1194.88" width="25.26" height="25.33" fill="#00b5ff"/>
<rect x="449.29" y="1194.88" width="25.26" height="25.33" fill="#00b4ff"/>
<rect x="473.95" y="1194.88" width="25.26" height="25.33" fill="#00bdff"/>
<rect x="498.61" y="1194.88" width="25.26" height="25.33" fill="#00cfff"/>
<rect x="523.27" y="1194.88" width="25.26" height="25.33" fill="#00e8ff"/>
<rect x="547.93" y="1194.88" width="25.26" height="25.33" fill="#00f7e3"/>
<rect x="572.59" y="1194.88" width="25.26" height="25.33" fill="#00faa5"/>
<rect x="597.25" y="1194.88" width="25.26" height="25.33" fill="#00f660"/>
<rect x="621.91" y="1194.88" width="25.26" height="25.33" fill="#8eff10"/>
<rect x="646.57" y="1194.88" width="25.26" height="25.33" fill="#ddff00"/>
<rect x="671.23" y="1194.88" width="25.26" height="25.33" fill="#ffde00"/>
<rect x="695.89" y="1194.88" width="25.26" height="25.33" fill="#ffbc00"/>
<rect x="720.55" y="1194.88" width="25.26" height="25.33" fill="#ffb100"/>
<rect x="745.22" y="1194.88" width="25.26" height="25.33" fill="#ffb700"/>
<rect x="769.88" y="1194.88" width="25.26" height="25.33" fill="#ffc400"/>
<rect x="794.54" y="1194.88" width="25.26" height="25.33" fill="#ffd200"/>
<rect x="819.20" y="1194.88" width="25.26" height="25.33" fill="#ffde00"/>
<rect x="843.86" y="1194.88" width="25.26" height="25.33" fill="#ffe200"/>
<rect x="868.52" y="1194.88" width="25.26" height="25.33" fill="#ffdf00"/>
<rect x="893.18" y="1194.88" width="25.26" height="25.33" fill="#ffd300"/>
<rect x="917.84" y="1194.88" width="25.26" height="25.33" fill="#ffc100"/>
<rect x="942.50" y="1194.88" width="25.26" height="25.33" fill="#ffaf00"/>
<rect x="967.16" y="1194.88" width="25.26" height="25.33" fill="#ff9b00"/>
<rect x="991.82" y="1194.88" width="25.26" height="25.33" fill="#ff8000"/>
<rect x="1016.48" y="1194.88" width="25.26" height="25.33" fill="#ff6600"/>
<rect x="1041.15" y="1194.88" width="25.26" height="25.33" fill="#ff4900"/>
<rect x="1065.81" y="1194.88" width="25.26" height="25.33" fill="#ff3000"/>
<rect x="1090.47" y="1194.88" width="25.26" height="25.33" fill="#ff2200"/>
<rect x="1115.13" y="1194.88" width="25.26" height="25.33" fill="#ff2800"/>
<rect x="1139.79" y="1194.88" width="25.26" height="25.33" fill="#ff4600"/>
<rect x="1164.45" y="1194.88" width="25.26" height="25.33" fill="#ff7300"/>
<rect x="1189.11" y="1194.88" width="25.26" height="25.33" fill="#ffb000"/>
<rect x="1213.77" y="1194.88" width="25.26" height="25.33" fill="#ffec00"/>
<rect x="1238.43" y="1194.88" width="25.26" height="25.33" fill="#cdff00"/>
<rect x="1263.09" y="1194.88" width="25.26" height="25.33" fill="#92ff07"/>
<rect x="1287.75" y="1194.88" width="25.26" height="25.33" fill="#83ff26"/>
<rect x="1312.41" y="1194.88" width="25.26" height="25.33" fill="#00f552"/>
<rect x="1337.07" y="1194.88" width="25.26" height="25.33" fill="#00f669"/>
<rect x="1361.74" y="1194.88" width="25.26" height="25.33" fill="#00f87b"/>
<rect x="1386.40" y="1194.88" width="25.26" height="25.33" fill="#00f88a"/>
<rect x="1411.06" y="1194.88" width="25.26" height="25.33" fill="#00f997"/>
<rect x="1435.72" y="1194.88" width="25.26" height="25.33" fill="#00fa9f"/>
<rect x="1460.38" y="1194.88" width="25.26" height="25.33" fill="#00faa5"/>
<rect x="1485.04" y="1194.88" width="25.26" height="25.33" fill="#00faa7"/>
<rect x="252.00" y="1219.61" width="25.26" height="25.33" fill="#00f65b"/>
<rect x="276.66" y="1219.61" width="25.26" height="25.33" fill="#00f667"/>
<rect x="301.32" y="1219.61" width="25.26" height="25.33" fill="#00f991"/>
<rect x="325.98" y="1219.61" width="25.26" height="25.33" fill="#00f8c0"/>
<rect x="350.64" y="1219.61" width="25.26" height="25.33" fill="#00f6f0"/>
<rect x="375.30" y="1219.61" width="25.26" height="25.33" fill="#00caff"/>
<rect x="399.96" y="1219.61" width="25.26" height="25.33" fill="#00b2ff"/>
<rect x="424.63" y="1219.61" width="25.26" height="25.33" fill="#00a4ff"/>
<rect x="449.29" y="1219.61" width="25.26" height="25.33" fill="#00a2ff"/>
<rect x="473.95" y="1219.61" width="25.26" height="25.33" fill="#00adff"/>
<rect x="498.61" y="1219.61" width="25.26" height="25.33" fill="#00c1ff"/>
<rect x="523.27" y="1219.61" width="25.26" height="25.33" fill="#00dcff"/>
<rect x="547.93" y="1219.61" width="25.26" height="25.33" fill="#00f6f1"/>
<rect x="572.59" y="1219.61" width="25.26" height="25.33" fill="#00f9b4"/>
<rect x="597.25" y="1219.61" width="25.26" height="25.33" fill="#00f770"/>
<rect x="621.91" y="1219.61" width="25.26" height="25.33" fill="#87ff1f"/>
<rect x="646.57" y="1219.61" width="25.26" height="25.33" fill="#c4ff00"/>
<rect x="671.23" y="1219.61" width="25.26" height="25.33" fill="#ffec00"/>
<rect x="695.89" y="1219.61" width="25.26" height="25.33" fill="#ffc500"/>
<rect x="720.55" y="1219.61" width="25.26" height="25.33" fill="#ffb800"/>
<rect x="745.22" y="1219.61" width="25.26" height="25.33" fill="#ffbc00"/>
<rect x="769.88" y="1219.61" width="25.26" height="25.33" fill="#ffca00"/>
<rect x="794.54" y="1219.61" width="25.26" height="25.33" fill="#ffda00"/>
<rect x="819.20" y="1219.61" width="25.26" height="25.33" fill="#ffe500"/>
<rect x="843.86" y="1219.61" width="25.26" height="25.33" fill="#ffe700"/>
<rect x="868.52" y="1219.61" width="25.26" height="25.33" fill="#ffe100"/>
<rect x="893.18" y="1219.61" width="25.26" height="25.33" fill="#ffd500"/>
<rect x="917.84" y="1219.61" width="25.26" height="25.33" fill="#ffc400"/>
<rect x="942.50" y="1219.61" width="25.26" height="25.33" fill="#ffb200"/>
<rect x="967.16" y="1219.61" width="25.26" height="25.33" fill="#ff9d00"/>
<rect x="991.82" y="1219.61" width="25.26" height="25.33" fill="#ff7c00"/>
<rect x="1016.48" y="1219.61" width="25.26" height="25.33" fill="#ff5800"/>
<rect x="1041.15" y="1219.61" width="25.26" height="25.33" fill="#ff3100"/>
<rect x="1065.81" y="1219.61" width="25.26" height="25.33" fill="#ff1100"/>
<rect x="1090.47" y="1219.61" width="25.26" height="25.33" fill="#ff0200"/>
<rect x="1115.13" y="1219.61" width="25.26" height="25.33" fill="#ff0d00"/>
<rect x="1139.79" y="1219.61" width="25.26" height="25.33" fill="#ff3600"/>
<rect x="1164.45" y="1219.61" width="25.26" height="25.33" fill="#ff6e00"/>
<rect x="1189.11" y="1219.61" width="25.26" height="25.33" fill="#ffaf00"/>
<rect x="1213.77" y="1219.61" width="25.26" height="25.33" fill="#ffe600"/>
<rect x="1238.43" y="1219.61" width="25.26" height="25.33" fill="#deff00"/>
<rect x="1263.09" y="1219.61" width="25.26" height="25.33" fill="#9aff00"/>
<rect x="1287.75" y="1219.61" width="25.26" height="25.33" fill="#87ff1f"/>
<rect x="1312.41" y="1219.61" width="25.26" height="25.33" fill="#7aff38"/>
<rect x="1337.07" y="1219.61" width="25.26" height="25.33" fill="#00f65d"/>
<rect x="1361.74" y="1219.61" width="25.26" height="25.33" fill="#00f76b"/>
<rect x="1386.40" y="1219.61" width="25.26" height="25.33" fill="#00f774"/>
<rect x="1411.06" y="1219.61" width="25.26" height="25.33" fill="#00f87c"/>
<rect x="1435.72" y="1219.61" width="25.26" height="25.33" fill="#00f881"/>
<rect x="1460.38" y="1219.61" width="25.26" height="25.33" fill="#00f886"/>
<rect x="1485.04" y="1219.61" width="25.26" height="25.33" fill="#00f88a"/>
<rect x="252.00" y="1244.34" width="25.26" height="25.33" fill="#00f770"/>
<rect x="276.66" y="1244.34" width="25.26" height="25.33" fill="#00f77a"/>
<rect x="301.32" y="1244.34" width="25.26" height="25.33" fill="#00faa1"/>
<rect x="325.98" y="1244.34" width="25.26" height="25.33" fill="#00f8ce"/>
<rect x="350.64" y="1244.34" width="25.26" height="25.33" fill="#00f5fa"/>
<rect x="375.30" y="1244.34" width="25.26" height="25.33" fill="#00c3ff"/>
<rect x="399.96" y="1244.34" width="25.26" height="25.33" fill="#00abff"/>
<rect x="424.63" y="1244.34" width="25.26" height="25.33" fill="#009cff"/>
<rect x="449.29" y="1244.34" width="25.26" height="25.33" fill="#009aff"/>
<rect x="473.95" y="1244.34" width="25.26" height="25.33" fill="#00a4ff"/>
<rect x="498.61" y="1244.34" width="25.26" height="25.33" fill="#00b9ff"/>
<rect x="523.27" y="1244.34" width="25.26" height="25.33" fill="#00d5ff"/>
<rect x="547.93" y="1244.34" width="25.26" height="25.33" fill="#00f5f9"/>
<rect x="572.59" y="1244.34" width="25.26" height="25.33" fill="#00f9bd"/>
<rect x="597.25" y="1244.34" width="25.26" height="25.33" fill="#00f87b"/>
<rect x="621.91" y="1244.34" width="25.26" height="25.33" fill="#82ff29"/>
<rect x="646.57" y="1244.34" width="25.26" height="25.33" fill="#b1ff00"/>
<rect x="671.23" y="1244.34" width="25.26" height="25.33" fill="#fff700"/>
<rect x="695.89" y="1244.34" width="25.26" height="25.33" fill="#ffce00"/>
<rect x="720.55" y="1244.34" width="25.26" height="25.33" fill="#ffc000"/>
<rect x="745.22" y="1244.34" width="25.26" height="25.33" fill="#ffc300"/>
<rect x="769.88" y="1244.34" width="25.26" height="25.33" fill="#ffd000"/>
<rect x="794.54" y="1244.34" width="25.26" height="25.33" fill="#ffde00"/>
<rect x="819.20" y="1244.34" width="25.26" height="25.33" fill="#ffe800"/>
<rect x="843.86" y="1244.34" width="25.26" height="25.33" fill="#ffea00"/>
<rect x="868.52" y="1244.34" width="25.26" height="25.33" fill="#ffe300"/>
<rect x="893.18" y="1244.34" width="25.26" height="25.33" fill="#ffd600"/>
<rect x="917.84" y="1244.34" width="25.26" height="25.33" fill="#ffc500"/>
<rect x="942.50" y="1244.34" width="25.26" height="25.33" fill="#ffb300"/>
<rect x="967.16" y="1244.34" width="25.26" height="25.33" fill="#ff9c00"/>
<rect x="991.82" y="1244.34" width="25.26" height="25.33" fill="#ff7900"/>
<rect x="1016.48" y="1244.34" width="25.26" height="25.33" fill="#ff5000"/>
<rect x="1041.15" y="1244.34" width="25.26" height="25.33" fill="#ff2300"/>
<rect x="1065.81" y="1244.34" width="25.26" height="25.33" fill="#ff0000"/>
<rect x="1090.47" y="1244.34" width="25.26" height="25.33" fill="#f00000"/>
<rect x="1115.13" y="1244.34" width="25.26" height="25.33" fill="#ff0200"/>
<rect x="1139.79" y="1244.34" width="25.26" height="25.33" fill="#ff3100"/>
<rect x="1164.45" y="1244.34" width="25.26" height="25.33" fill="#ff6d00"/>
<rect x="1189.11" y="1244.34" width="25.26" height="25.33" fill="#ffad00"/>
<rect x="1213.77" y="1244.34" width="25.26" height="25.33" fill="#ffdf00"/>
<rect x="1238.43" y="1244.34" width="25.26" height="25.33" fill="#efff00"/>
<rect x="1263.09" y="1244.34" width="25.26" height="25.33" fill="#aeff00"/>
<rect x="1287.75" y="1244.34" width="25.26" height="25.33" fill="#8bff15"/>
<rect x="1312.41" y="1244.34" width="25.26" height="25.33" fill="#7eff30"/>
<rect x="1337.07" y="1244.34" width="25.26" height="25.33" fill="#00f554"/>
<rect x="1361.74" y="1244.34" width="25.26" height="25.33" fill="#00f660"/>
<rect x="1386.40" y="1244.34" width="25.26" height="25.33" fill="#00f667"/>
<rect x="1411.06" y="1244.34" width="25.26" height="25.33" fill="#00f76a"/>
<rect x="1435.72" y="1244.34" width="25.26" height="25.33" fill="#00f76c"/>
<rect x="1460.38" y="1244.34" width="25.26" height="25.33" fill="#00f76f"/>
<rect x="1485.04" y="1244.34" width="25.26" height="25.33" fill="#00f775"/>
<rect x="252.00" y="1269.07" width="25.26" height="25.33" fill="#00f76c"/>
<rect x="276.66" y="1269.07" width="25.26" height="25.33" fill="#00f87d"/>
<rect x="301.32" y="1269.07" width="25.26" height="25.33" fill="#00faa6"/>
<rect x="325.98" y="1269.07" width="25.26" height="25.33" fill="#00f8d1"/>
<rect x="350.64" y="1269.07" width="25.26" height="25.33" fill="#00f5f9"/>
<rect x="375.30" y="1269.07" width="25.26" height="25.33" fill="#00c8ff"/>
<rect x="399.96" y="1269.07" width="25.26" height="25.33" fill="#00b1ff"/>
<rect x="424.63" y="1269.07" width="25.26" height="25.33" fill="#00a2ff"/>
<rect x="449.29" y="1269.07" width="25.26" height="25.33" fill="#00a0ff"/>
<rect x="473.95" y="1269.07" width="25.26" height="25.33" fill="#00aaff"/>
<rect x="498.61" y="1269.07" width="25.26" height="25.33" fill="#00beff"/>
<rect x="523.27" y="1269.07" width="25.26" height="25.33" fill="#00d9ff"/>
<rect x="547.93" y="1269.07" width="25.26" height="25.33" fill="#00f6f4"/>
<rect x="572.59" y="1269.07" width="25.26" height="25.33" fill="#00f9ba"/>
<rect x="597.25" y="1269.07" width="25.26" height="25.33" fill="#00f77a"/>
<rect x="621.91" y="1269.07" width="25.26" height="25.33" fill="#81ff2b"/>
<rect x="646.57" y="1269.07" width="25.26" height="25.33" fill="#abff00"/>
<rect x="671.23" y="1269.07" width="25.26" height="25.33" fill="#fffe00"/>
<rect x="695.89" y="1269.07" width="25.26" height="25.33" fill="#ffd600"/>
<rect x="720.55" y="1269.07" width="25.26" height="25.33" fill="#ffc900"/>
<rect x="745.22" y="1269.07" width="25.26" height="25.33" fill="#ffca00"/>
<rect x="769.88" y="1269.07" width="25.26" height="25.33" fill="#ffd000"/>
<rect x="794.54" y="1269.07" width="25.26" height="25.33" fill="#ffd900"/>
<rect x="819.20" y="1269.07" width="25.26" height="25.33" fill="#ffe000"/>
<rect x="843.86" y="1269.07" width="25.26" height="25.33" fill="#ffe400"/>
<rect x="868.52" y="1269.07" width="25.26" height="25.33" fill="#ffe000"/>
<rect x="893.18" y="1269.07" width="25.26" height="25.33" fill="#ffd000"/>
<rect x="917.84" y="1269.07" width="25.26" height="25.33" fill="#ffbb00"/>
<rect x="942.50" y="1269.07" width="25.26" height="25.33" fill="#ffa500"/>
<rect x="967.16" y="1269.07" width="25.26" height="25.33" fill="#ff8e00"/>
<rect x="991.82" y="1269.07" width="25.26" height="25.33" fill="#ff7100"/>
<rect x="1016.48" y="1269.07" width="25.26" height="25.33" fill="#ff4c00"/>
<rect x="1041.15" y="1269.07" width="25.26" height="25.33" fill="#ff2400"/>
<rect x="1065.81" y="1269.07" width="25.26" height="25.33" fill="#ff0700"/>
<rect x="1090.47" y="1269.07" width="25.26" height="25.33" fill="#fc0000"/>
<rect x="1115.13" y="1269.07" width="25.26" height="25.33" fill="#ff0c00"/>
<rect x="1139.79" y="1269.07" width="25.26" height="25.33" fill="#ff3400"/>
<rect x="1164.45" y="1269.07" width="25.26" height="25.33" fill="#ff6800"/>
<rect x="1189.11" y="1269.07" width="25.26" height="25.33" fill="#ff9d00"/>
<rect x="1213.77" y="1269.07" width="25.26" height="25.33" fill="#ffcb00"/>
<rect x="1238.43" y="1269.07" width="25.26" height="25.33" fill="#fff400"/>
<rect x="1263.09" y="1269.07" width="25.26" height="25.33" fill="#d1ff00"/>
<rect x="1287.75" y="1269.07" width="25.26" height="25.33" fill="#95ff02"/>
<rect x="1312.41" y="1269.07" width="25.26" height="25.33" fill="#86ff1f"/>
<rect x="1337.07" y="1269.07" width="25.26" height="25.33" fill="#7aff37"/>
<rect x="1361.74" y="1269.07" width="25.26" height="25.33" fill="#00f65b"/>
<rect x="1386.40" y="1269.07" width="25.26" height="25.33" fill="#00f665"/>
<rect x="1411.06" y="1269.07" width="25.26" height="25.33" fill="#00f667"/>
<rect x="1435.72" y="1269.07" width="25.26" height="25.33" fill="#00f666"/>
<rect x="1460.38" y="1269.07" width="25.26" height="25.33" fill="#00f668"/>
<rect x="1485.04" y="1269.07" width="25.26" height="25.33" fill="#00f76f"/>
</g>
<g filter="url(#bl2)">
<rect x="252.0" y="32.6" width="1257.7" height="1261.2" fill="none" stroke="#080808" stroke-width="4.8"/>
<g stroke="#080808" stroke-width="4.4">
<line x1="227.5" y1="311.0" x2="251" y2="311.0"/>
<line x1="227.5" y1="562.6" x2="251" y2="562.6"/>
<line x1="227.5" y1="814.6" x2="251" y2="814.6"/>
<line x1="227.5" y1="1066.2" x2="251" y2="1066.2"/>
<line x1="478.5" y1="1294" x2="478.5" y2="1317.5"/>
<line x1="729.5" y1="1294" x2="729.5" y2="1317.5"/>
<line x1="980.5" y1="1294" x2="980.5" y2="1317.5"/>
<line x1="1231.5" y1="1294" x2="1231.5" y2="1317.5"/>
<line x1="1482.5" y1="1294" x2="1482.5" y2="1317.5"/>
<line x1="1628" y1="200.0" x2="1651" y2="200.0"/>
<line x1="1628" y1="465.6" x2="1651" y2="465.6"/>
<line x1="1628" y1="731.2" x2="1651" y2="731.2"/>
<line x1="1628" y1="996.8" x2="1651" y2="996.8"/>
<line x1="1628" y1="1262.4" x2="1651" y2="1262.4"/>
</g>
<rect x="1563.6" y="30" width="62" height="1266" fill="url(#cb)" stroke="#080808" stroke-width="4.8"/>
<text transform="translate(204.0,83.2) scale(0.862,1)" text-anchor="end" style="font-family:'Liberation Sans',sans-serif;font-size:70.0px" fill="#0a0a0a">500</text>
<text transform="translate(204.0,335.3) scale(0.862,1)" text-anchor="end" style="font-family:'Liberation Sans',sans-serif;font-size:70.0px" fill="#0a0a0a">400</text>
<text transform="translate(204.0,586.9) scale(0.862,1)" text-anchor="end" style="font-family:'Liberation Sans',sans-serif;font-size:70.0px" fill="#0a0a0a">300</text>
<text transform="translate(204.0,838.9) scale(0.862,1)" text-anchor="end" style="font-family:'Liberation Sans',sans-serif;font-size:70.0px" fill="#0a0a0a">200</text>
<text transform="translate(204.0,1090.5) scale(0.862,1)" text-anchor="end" style="font-family:'Liberation Sans',sans-serif;font-size:70.0px" fill="#0a0a0a">100</text>
<text transform="translate(478.5,1390.8) scale(0.862,1)" text-anchor="middle" style="font-family:'Liberation Sans',sans-serif;font-size:70.0px" fill="#0a0a0a">100</text>
<text transform="translate(729.5,1390.8) scale(0.862,1)" text-anchor="middle" style="font-family:'Liberation Sans',sans-serif;font-size:70.0px" fill="#0a0a0a">200</text>
<text transform="translate(980.5,1390.8) scale(0.862,1)" text-anchor="middle" style="font-family:'Liberation Sans',sans-serif;font-size:70.0px" fill="#0a0a0a">300</text>
<text transform="translate(1231.5,1390.8) scale(0.862,1)" text-anchor="middle" style="font-family:'Liberation Sans',sans-serif;font-size:70.0px" fill="#0a0a0a">400</text>
<text transform="translate(1482.5,1390.8) scale(0.862,1)" text-anchor="middle" style="font-family:'Liberation Sans',sans-serif;font-size:70.0px" fill="#0a0a0a">500</text>
<text transform="translate(1672.5,225.2) scale(0.862,1)" text-anchor="start" style="font-family:'Liberation Sans',sans-serif;font-size:70.0px" fill="#0a0a0a">1000</text>
<text transform="translate(1672.5,490.8) scale(0.862,1)" text-anchor="start" style="font-family:'Liberation Sans',sans-serif;font-size:70.0px" fill="#0a0a0a">800</text>
<text transform="translate(1672.5,756.4) scale(0.862,1)" text-anchor="start" style="font-family:'Liberation Sans',sans-serif;font-size:70.0px" fill="#0a0a0a">600</text>
<text transform="translate(1672.5,1022.0) scale(0.862,1)" text-anchor="start" style="font-family:'Liberation Sans',sans-serif;font-size:70.0px" fill="#0a0a0a">400</text>
<text transform="translate(1672.5,1287.6) scale(0.862,1)" text-anchor="start" style="font-family:'Liberation Sans',sans-serif;font-size:70.0px" fill="#0a0a0a">200</text>
<text transform="translate(842.5,1485)" style="font-family:'Liberation Serif',serif;font-size:75px" fill="#0a0a0a"><tspan x="0" style="font-style:italic">x</tspan><tspan x="30.5" style="font-size:84px"> /</tspan><tspan x="73.5" style="font-size:72px">m</tspan></text>
<text transform="translate(71,758.5) rotate(-90)" style="font-family:'Liberation Serif',serif;font-size:80px" fill="#0a0a0a"><tspan x="0" style="font-style:italic">y</tspan><tspan x="27.5" style="font-size:88px"> /</tspan><tspan x="70.5" style="font-size:76px">m</tspan></text>
<path d="M356.3 1465 L398.4 1569.3 L314.2 1569.3 Z" fill="#fff" stroke="#1c6ca2" stroke-width="6.2" stroke-linejoin="miter"/>
<text y="1572.2" style="font-family:'Liberation Serif',serif;font-size:74px" fill="#0a0a0a" stroke="#0a0a0a" stroke-width="0.4"><tspan x="424" style="letter-spacing:-0.85px">Injection </tspan><tspan x="703.5" style="font-family:'Liberation Sans',sans-serif;font-size:68px;stroke-width:0">well</tspan></text>
<ellipse cx="1096.7" cy="1524.3" rx="33.7" ry="36" fill="#e00000"/>
<text transform="translate(1199,1567.5) scale(0.99,1)" style="font-family:'Liberation Serif',serif;font-size:74px" fill="#0a0a0a" stroke="#0a0a0a" stroke-width="0.4">Production well</text>
<ellipse cx="257.8" cy="54.1" rx="33.8" ry="35.9" fill="#e00000"/>
<ellipse cx="1511.4" cy="43.7" rx="33.2" ry="35.7" fill="#e00000"/>
<ellipse cx="257.9" cy="1280.5" rx="33.7" ry="35.5" fill="#e00000"/>
<ellipse cx="1511.1" cy="1280.6" rx="33" ry="35.7" fill="#e00000"/>
<path d="M905.8 647 L943.6 749.6 L868 749.6 Z" fill="#fff" stroke="#15607c" stroke-width="4.6" stroke-linejoin="miter"/>
</g>
</svg></body></html>
